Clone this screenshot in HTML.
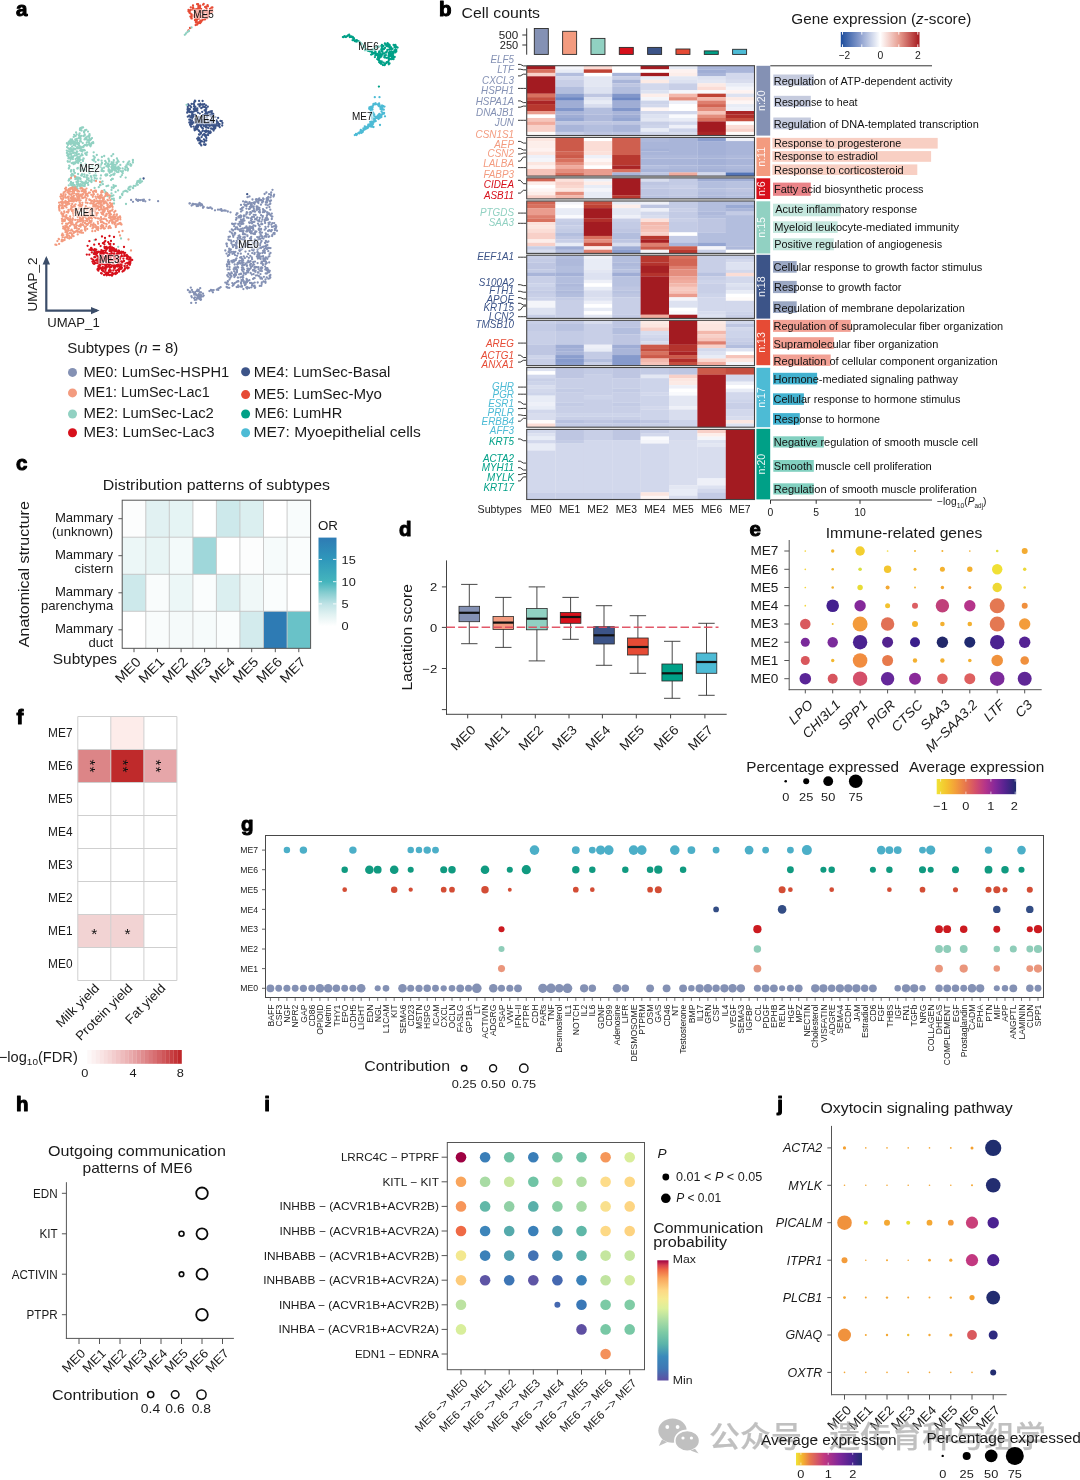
<!DOCTYPE html>
<html lang="en"><head><meta charset="utf-8"><title>Figure</title>
<style>
html,body{margin:0;padding:0;background:#fff;}
body{width:1080px;height:1480px;overflow:hidden;}
svg{display:block;will-change:transform;font-family:"Liberation Sans","Noto Sans CJK SC",sans-serif;fill:#1a1a1a;}
svg text{white-space:pre;}
</style></head><body>
<svg width="1080" height="1480" viewBox="0 0 1080 1480">
<rect width="1080" height="1480" fill="#fff"/>
<g id="panel-a">
<text x="16.0" y="16.2" font-size="20.5" font-weight="bold" fill="#000" stroke="#000" stroke-width="1.0" stroke-linejoin="round">a</text>
<path d="M75.6 136.1h0M84.4 131.2h0M81.3 149.6h0M68.4 158.4h0M67.8 153.8h0M78.3 178.4h0M70.2 140.7h0M83.8 185.9h0M82.4 151.5h0M90.1 144.8h0M75.2 177.7h0M71.7 163.1h0M84.1 150.0h0M81.6 130.6h0M85.2 153.4h0M75.3 163.3h0M79.1 145.4h0M73.4 162.6h0M81.0 181.4h0M86.6 144.7h0M78.1 174.0h0M70.9 157.3h0M90.5 146.3h0M85.6 163.8h0M82.5 155.2h0M79.6 168.2h0M89.1 144.5h0M77.3 168.5h0M67.4 155.6h0M70.3 142.2h0M77.4 181.2h0M69.0 154.8h0M81.7 181.9h0M89.0 180.7h0M74.3 152.7h0M76.5 182.0h0M71.6 141.2h0M73.1 157.0h0M82.8 143.1h0M66.9 152.9h0M76.8 162.1h0M80.8 165.3h0M85.1 130.1h0M77.4 151.6h0M69.6 166.3h0M69.5 149.4h0M83.4 136.0h0M73.6 148.4h0M76.7 134.4h0M79.4 156.9h0M76.1 143.2h0M89.3 136.8h0M81.1 135.9h0M81.5 128.4h0M81.1 187.9h0M73.9 149.6h0M71.3 174.9h0M81.2 175.4h0M75.7 140.6h0M72.9 159.1h0M67.6 144.2h0M73.8 170.0h0M72.8 140.9h0M72.1 139.5h0M83.7 183.0h0M84.5 176.7h0M69.1 168.0h0M71.6 176.0h0M75.8 176.8h0M77.7 185.9h0M86.4 137.3h0M70.8 178.4h0M76.3 161.0h0M81.1 185.1h0M78.6 181.2h0M89.2 139.9h0M73.6 145.0h0M73.3 163.4h0M73.8 152.9h0M70.4 183.6h0M76.4 155.3h0M82.6 183.2h0M78.2 184.1h0M80.4 159.9h0M81.0 127.9h0M78.7 138.1h0M71.5 156.3h0M75.6 159.1h0M81.9 175.7h0M69.7 161.7h0M73.5 144.0h0M82.0 174.2h0M83.4 158.3h0M80.7 170.0h0M79.1 160.0h0M79.8 185.5h0M85.7 181.5h0M92.3 142.9h0M82.0 185.7h0M89.6 135.3h0M70.1 154.3h0M68.8 141.7h0M68.8 168.5h0M88.0 182.8h0M71.0 171.5h0M84.7 135.6h0M72.8 186.2h0M77.6 157.2h0M71.2 153.7h0M80.8 147.9h0M72.1 146.6h0M81.8 154.2h0M67.3 147.4h0M83.7 158.7h0M69.6 143.3h0M74.1 134.8h0M78.2 183.7h0M89.0 142.9h0M70.8 184.1h0M82.3 170.5h0M85.5 153.3h0M68.8 185.3h0M84.0 176.8h0M69.1 180.2h0M68.6 180.6h0M79.1 147.9h0M81.8 184.6h0M81.1 141.6h0M75.3 145.8h0M87.4 144.8h0M80.4 137.8h0M71.9 156.4h0M80.2 178.9h0M77.5 158.4h0M76.1 178.7h0M86.0 166.4h0M77.8 148.4h0M73.7 136.9h0M69.1 179.3h0M74.4 141.8h0M74.7 155.4h0M71.1 154.6h0M73.9 186.8h0M73.4 187.1h0M75.2 149.0h0M66.8 150.6h0M79.7 158.1h0M72.2 158.2h0M66.9 143.2h0M69.2 151.7h0M75.0 141.3h0M82.7 159.8h0M86.2 181.6h0M77.4 147.1h0M86.4 166.9h0M86.7 177.5h0M70.6 159.4h0M80.5 178.9h0M88.6 178.4h0M82.6 182.5h0M85.3 170.0h0M70.4 149.2h0M69.6 178.9h0M81.9 165.9h0M83.8 169.2h0M80.4 160.1h0M84.7 130.8h0M86.8 142.5h0M68.8 143.3h0M86.6 139.5h0M80.2 150.6h0M79.8 169.4h0M84.2 131.5h0M70.8 142.6h0M86.9 145.7h0M82.2 127.5h0M68.4 143.5h0M85.0 170.0h0M85.1 144.9h0M80.8 155.7h0M79.4 134.1h0M91.0 139.2h0M67.3 155.4h0M79.0 143.5h0M72.5 185.8h0M72.5 163.0h0M70.6 159.5h0M73.1 182.8h0M80.0 128.3h0M79.0 145.6h0M70.6 148.2h0M75.4 179.2h0M89.5 134.2h0M91.2 144.8h0M76.9 151.3h0M76.6 153.5h0M69.6 178.9h0M74.5 185.2h0M73.6 143.3h0M80.6 138.6h0M76.9 186.5h0M83.9 183.8h0M86.3 129.8h0M86.6 154.9h0M79.6 148.2h0M74.9 172.9h0M93.3 143.0h0M84.6 145.5h0M81.9 151.3h0M72.4 183.3h0M80.3 140.5h0M79.0 135.4h0M76.1 132.4h0M73.3 142.8h0M82.2 182.2h0M87.1 152.5h0M78.0 159.5h0M77.0 147.8h0M68.5 144.0h0M80.4 166.1h0M90.2 140.2h0M74.1 142.2h0M77.6 154.6h0M77.4 184.6h0M93.1 142.2h0M81.0 169.3h0M84.3 174.5h0M79.2 161.2h0M73.1 184.2h0M84.3 145.7h0M70.3 142.4h0M84.0 170.4h0M81.0 163.1h0M77.3 140.7h0M83.1 127.4h0M75.0 155.5h0M73.2 142.1h0M80.3 168.9h0M78.2 142.8h0M84.9 184.5h0M76.0 153.0h0M85.3 139.1h0M80.5 139.5h0M89.0 141.1h0M72.8 174.2h0M74.8 186.2h0M80.2 138.4h0M72.9 152.8h0M84.8 186.0h0M70.8 151.3h0M72.6 187.6h0M68.4 151.3h0M71.8 185.2h0M84.8 150.4h0M76.9 147.4h0M74.4 148.7h0M76.5 178.0h0M68.1 156.3h0M76.9 184.2h0M72.0 149.5h0M77.9 177.4h0M91.7 142.8h0M87.1 182.9h0M76.0 143.7h0M73.9 171.5h0M75.4 143.9h0M73.1 156.4h0M77.3 142.4h0M78.5 157.5h0M92.0 138.1h0M83.3 147.2h0M75.5 149.3h0M88.0 131.6h0M72.1 173.8h0M67.7 161.2h0M75.6 188.0h0M69.4 157.9h0M86.0 154.6h0M73.1 152.8h0M83.6 168.8h0M87.1 179.6h0M84.8 134.3h0M89.6 145.1h0M82.2 150.0h0M86.8 139.1h0M73.5 142.0h0M71.0 182.0h0M82.5 147.1h0M77.5 188.7h0M80.5 141.2h0M79.7 177.9h0M67.9 145.1h0M73.8 175.3h0M83.0 165.4h0M72.7 149.7h0M70.6 139.4h0M73.7 164.2h0M84.5 139.4h0M67.1 147.2h0M85.2 138.3h0M75.3 139.4h0M77.5 161.1h0M84.1 132.4h0M71.2 170.2h0M77.9 144.4h0M75.1 186.3h0M75.3 162.1h0M76.5 152.7h0M76.7 139.0h0M86.5 139.4h0M78.3 178.0h0M77.8 181.9h0M79.3 136.9h0M84.2 183.6h0M69.2 165.6h0M76.8 158.2h0M70.8 144.4h0M80.9 184.5h0M69.7 157.4h0M79.9 130.0h0M89.1 136.7h0M88.1 140.6h0M77.8 179.6h0M89.3 138.1h0M72.7 151.7h0M80.8 150.7h0M70.1 142.1h0M86.4 182.8h0M67.9 161.8h0M89.5 134.1h0M83.0 161.1h0M83.8 145.8h0M78.2 163.1h0M78.3 167.9h0M78.9 154.1h0M80.1 141.4h0M87.5 175.4h0M79.2 137.9h0M79.6 133.4h0M70.3 153.6h0M69.3 154.3h0M80.6 129.2h0M84.0 131.8h0M86.7 175.3h0M80.7 130.1h0M80.5 150.3h0M86.6 177.6h0M72.0 188.1h0M80.1 186.5h0M88.2 184.9h0M68.6 148.6h0M87.3 136.6h0M91.1 143.9h0M88.9 135.7h0M80.4 184.2h0M72.4 143.1h0M80.5 146.6h0M71.2 185.2h0M85.2 182.7h0M71.4 175.8h0M117.1 172.1h0M108.6 164.4h0M116.9 163.4h0M102.0 163.0h0M125.7 177.6h0M108.2 164.4h0M113.3 164.3h0M119.2 167.6h0M106.0 174.5h0M108.8 169.1h0M111.9 166.4h0M113.8 164.5h0M101.9 157.0h0M105.0 164.2h0M111.9 168.3h0M115.1 168.6h0M107.6 164.5h0M100.3 167.2h0M114.7 170.6h0M111.3 167.1h0M117.1 168.1h0M116.1 170.9h0M113.2 174.5h0M108.9 166.2h0M107.6 164.0h0M120.6 176.8h0M112.1 170.8h0M118.5 172.0h0M118.6 161.7h0M108.5 170.3h0M119.9 168.5h0M107.3 166.2h0M108.4 163.7h0M120.3 164.9h0M112.1 178.8h0M118.5 169.7h0M108.6 170.1h0M120.9 171.1h0M118.9 168.5h0M114.8 167.0h0M114.3 174.5h0M104.1 167.7h0M113.3 165.1h0M110.3 171.9h0M123.0 171.1h0M113.8 160.2h0M122.6 168.4h0M111.8 162.4h0M111.7 162.5h0M112.4 170.3h0M112.2 169.4h0M107.3 175.1h0M108.4 158.9h0M111.0 164.2h0M106.4 166.2h0M113.6 162.1h0M111.2 175.1h0M115.8 167.2h0M112.7 167.4h0M111.7 171.7h0M111.5 156.0h0M111.9 163.6h0M115.6 164.9h0M112.8 178.9h0M106.2 162.4h0M104.2 156.0h0M101.7 169.8h0M108.5 158.7h0M103.8 171.1h0M107.7 166.2h0M113.8 174.8h0M122.7 173.2h0M112.8 168.9h0M121.9 175.1h0M110.3 170.3h0M113.6 168.3h0M109.2 161.4h0M109.1 160.3h0M118.7 170.7h0M105.4 175.0h0M116.9 158.5h0M122.1 172.0h0M123.4 161.8h0M114.9 170.1h0M113.1 168.9h0M117.8 160.5h0M105.2 161.0h0M108.9 165.0h0M114.0 169.3h0M112.2 164.6h0M109.6 172.8h0M116.2 168.5h0M110.2 175.8h0M108.7 171.2h0M118.3 166.7h0M116.5 162.4h0M117.6 169.0h0M103.3 171.3h0M107.1 174.4h0M108.3 167.2h0M113.6 166.3h0M113.4 165.2h0M115.7 168.0h0M113.2 154.2h0M118.4 168.2h0M102.2 168.5h0M114.6 173.4h0M106.0 175.7h0M111.1 180.0h0M111.2 171.4h0M131.0 165.7h0M124.8 169.3h0M130.3 163.9h0M128.0 164.4h0M132.9 160.6h0M132.9 159.8h0M127.8 170.5h0M126.3 165.3h0M127.5 163.6h0M125.6 170.0h0M132.9 162.5h0M129.2 161.5h0M131.3 164.9h0M126.0 167.5h0M128.0 169.4h0M130.9 165.8h0M130.3 165.3h0M125.4 167.0h0M128.0 168.8h0M128.2 162.4h0M130.4 165.2h0M127.1 167.4h0M89.6 166.8h0M100.5 178.5h0M98.1 160.0h0M94.8 168.2h0M97.9 166.4h0M98.8 187.2h0M90.9 176.2h0M100.5 165.5h0M88.6 171.7h0M90.6 181.3h0M103.0 170.8h0M89.6 173.0h0M96.7 178.7h0M96.2 175.6h0M101.3 170.9h0M94.6 187.9h0M91.4 177.4h0M94.3 180.5h0M93.7 152.3h0M92.4 166.0h0M94.7 177.9h0M93.6 160.6h0M91.6 179.7h0M103.0 171.1h0M91.5 182.1h0M94.3 158.5h0M101.0 175.4h0M95.5 172.5h0M93.7 175.6h0M101.1 182.6h0M95.5 161.8h0M96.8 155.0h0M101.3 164.2h0M101.6 160.7h0M94.0 160.1h0M94.8 157.4h0M92.5 159.8h0M92.8 169.2h0M94.9 175.5h0M98.5 164.5h0M102.9 184.2h0M102.5 181.4h0M98.5 160.0h0M91.7 181.1h0M93.5 156.1h0M139.4 181.3h0M137.5 181.1h0M133.8 185.9h0M137.8 184.8h0M128.3 188.9h0M137.9 182.1h0M120.5 197.3h0M114.1 200.3h0M126.0 190.9h0M139.9 182.9h0M125.2 190.8h0M136.6 184.0h0M142.1 181.3h0M132.8 187.9h0M133.6 186.3h0M140.3 180.1h0M140.6 182.4h0M130.1 189.6h0M122.4 193.7h0M135.6 185.8h0M123.5 191.7h0M122.0 194.2h0M127.4 191.7h0M140.3 178.9h0M122.3 195.1h0M128.8 187.5h0M113.8 198.6h0M129.6 189.9h0M114.0 203.5h0M129.7 186.8h0M138.3 180.9h0M130.7 186.6h0M133.1 188.2h0M126.3 191.1h0M119.9 198.0h0M139.0 180.9h0M137.1 182.4h0M120.1 196.9h0M104.3 190.2h0M111.8 196.2h0M115.6 191.9h0M118.1 190.4h0M110.6 196.3h0M106.5 186.2h0M111.8 187.5h0M100.5 185.2h0M100.0 185.2h0M113.5 187.9h0M113.9 187.2h0M113.4 195.3h0M113.8 186.0h0M111.5 193.5h0M107.6 196.2h0M113.5 185.1h0M115.8 186.0h0M108.2 185.7h0M105.5 191.9h0M107.1 193.1h0M105.4 192.7h0M111.5 190.0h0M94.6 240.1h0M121.0 238.5h0M118.2 246.8h0M93.2 252.4h0M112.0 199.0h0M126.0 204.0h0" stroke="#91D1C2" stroke-width="2.3" stroke-linecap="round" fill="none"/>
<path d="M81.2 232.7h0M93.5 203.4h0M59.1 243.9h0M77.6 222.0h0M95.9 204.3h0M80.6 226.7h0M109.9 202.8h0M83.7 220.8h0M93.9 202.3h0M78.6 191.1h0M68.6 230.6h0M96.3 226.3h0M86.6 198.3h0M72.3 230.6h0M108.8 213.3h0M107.5 199.8h0M115.2 217.0h0M87.4 221.0h0M67.9 197.4h0M67.3 227.6h0M79.7 219.5h0M82.4 216.7h0M65.1 188.6h0M62.2 223.6h0M108.5 195.3h0M95.6 206.5h0M113.9 214.9h0M93.6 201.5h0M108.0 211.3h0M72.3 188.2h0M68.7 196.7h0M95.7 209.6h0M72.5 219.5h0M100.5 209.4h0M85.5 195.5h0M70.1 188.3h0M72.4 206.9h0M108.5 228.2h0M101.0 203.7h0M95.2 231.0h0M62.2 205.2h0M72.5 193.4h0M87.7 196.0h0M71.2 194.5h0M103.8 197.6h0M57.4 241.1h0M64.5 212.6h0M61.6 241.2h0M112.3 223.3h0M85.8 206.2h0M111.0 214.4h0M97.7 194.5h0M70.1 189.4h0M103.5 218.9h0M64.8 237.7h0M73.1 210.5h0M65.6 202.1h0M112.1 205.9h0M66.4 215.2h0M58.9 239.2h0M100.4 198.5h0M87.5 203.0h0M72.5 198.0h0M61.6 203.2h0M104.4 203.4h0M109.9 206.2h0M111.6 217.3h0M67.6 211.9h0M93.9 194.2h0M67.2 231.8h0M103.4 197.7h0M96.4 215.4h0M73.6 198.2h0M96.6 228.0h0M110.2 220.6h0M68.8 189.9h0M104.8 210.2h0M110.1 205.9h0M116.9 214.3h0M67.7 235.4h0M80.0 195.7h0M80.2 221.3h0M85.3 216.6h0M63.2 228.4h0M76.8 228.2h0M80.9 230.6h0M89.9 217.5h0M67.4 192.1h0M72.0 234.5h0M102.5 197.6h0M94.2 217.1h0M102.8 192.1h0M88.6 215.7h0M74.0 193.2h0M82.6 194.1h0M65.0 220.0h0M105.8 195.8h0M81.4 211.0h0M112.1 217.2h0M107.8 206.1h0M71.3 205.9h0M72.0 211.1h0M98.0 207.6h0M91.1 190.1h0M84.4 216.0h0M118.7 223.6h0M98.6 201.8h0M101.1 202.2h0M97.2 200.9h0M90.4 211.8h0M75.8 224.5h0M63.2 221.3h0M120.0 216.5h0M73.3 213.7h0M91.3 194.8h0M63.4 193.8h0M75.0 210.1h0M74.6 200.5h0M112.1 222.2h0M93.8 224.6h0M68.7 228.2h0M86.3 218.6h0M96.7 213.9h0M76.1 200.4h0M70.1 216.4h0M81.1 220.8h0M92.9 215.2h0M75.1 231.9h0M65.8 190.0h0M114.2 212.1h0M59.2 209.0h0M84.9 229.7h0M62.4 199.4h0M65.5 206.0h0M79.0 226.1h0M110.8 216.8h0M106.7 214.2h0M108.4 228.1h0M107.1 220.8h0M93.9 210.8h0M96.3 208.5h0M85.8 213.2h0M104.2 203.4h0M81.6 219.0h0M81.1 205.1h0M89.0 212.4h0M67.5 204.1h0M64.9 220.2h0M94.5 191.2h0M93.4 215.5h0M90.2 216.7h0M101.6 209.1h0M79.3 221.3h0M101.0 217.2h0M61.7 208.2h0M82.3 219.3h0M84.9 223.1h0M66.6 204.9h0M89.9 192.6h0M115.8 227.0h0M115.4 211.0h0M65.6 203.2h0M89.8 216.0h0M67.8 196.8h0M97.8 221.8h0M83.0 232.8h0M75.9 227.0h0M112.3 220.8h0M100.4 197.7h0M88.9 218.9h0M73.1 224.4h0M94.1 210.4h0M63.3 195.3h0M61.8 196.1h0M107.4 205.2h0M103.7 207.0h0M66.5 201.8h0M61.8 239.7h0M94.6 206.7h0M85.6 208.9h0M58.7 238.9h0M84.9 222.8h0M72.0 188.6h0M110.5 204.0h0M71.5 209.2h0M103.9 199.2h0M71.6 196.3h0M79.4 197.1h0M93.2 192.8h0M91.3 208.9h0M82.4 189.9h0M63.4 235.1h0M78.9 200.5h0M68.0 202.8h0M71.1 188.1h0M100.2 206.3h0M65.6 227.9h0M61.3 202.0h0M109.7 195.5h0M79.0 228.9h0M89.3 199.5h0M85.8 193.8h0M103.0 201.5h0M116.2 220.9h0M80.0 200.6h0M96.4 198.6h0M89.9 218.2h0M73.4 231.8h0M81.2 225.1h0M93.6 204.5h0M81.5 191.1h0M67.0 236.5h0M76.8 225.4h0M62.4 219.4h0M79.6 215.7h0M75.2 189.9h0M76.2 199.4h0M63.6 228.6h0M74.2 210.0h0M64.0 202.4h0M100.1 206.9h0M83.1 225.1h0M102.5 200.8h0M112.6 206.9h0M97.8 196.8h0M62.8 240.2h0M104.9 228.3h0M66.0 197.8h0M75.6 208.6h0M98.4 196.7h0M112.1 219.9h0M103.7 201.1h0M84.6 226.6h0M74.5 188.6h0M113.1 222.1h0M102.2 209.4h0M74.1 191.3h0M97.7 212.9h0M84.1 216.4h0M72.8 218.5h0M120.9 223.9h0M92.0 200.8h0M59.0 207.3h0M83.0 198.0h0M76.1 194.1h0M103.1 225.8h0M71.2 200.4h0M90.0 212.4h0M64.6 219.5h0M77.7 234.4h0M92.3 231.2h0M66.5 225.6h0M95.7 213.4h0M62.8 203.2h0M79.5 198.3h0M59.1 202.7h0M68.4 227.7h0M85.5 192.7h0M77.1 213.8h0M79.7 196.0h0M62.4 215.0h0M84.5 197.3h0M117.5 224.3h0M99.4 200.9h0M71.7 194.2h0M112.1 203.6h0M67.6 223.9h0M66.5 232.6h0M77.2 197.0h0M111.1 205.0h0M80.1 218.7h0M71.3 188.5h0M93.5 223.3h0M110.7 227.9h0M88.6 215.7h0M65.7 203.8h0M94.5 190.8h0M101.8 195.7h0M84.9 197.3h0M108.5 211.3h0M74.3 225.3h0M90.0 211.0h0M78.0 212.1h0M75.1 212.3h0M93.3 206.7h0M68.3 191.1h0M77.0 213.4h0M120.4 222.8h0M101.0 222.2h0M75.2 219.9h0M99.0 203.8h0M101.2 212.6h0M80.3 220.5h0M83.3 217.5h0M93.4 209.5h0M62.8 196.7h0M115.5 218.6h0M62.6 237.2h0M72.2 191.6h0M91.1 200.9h0M88.3 218.9h0M70.4 220.0h0M62.7 216.5h0M95.0 190.8h0M82.7 190.4h0M92.4 228.4h0M106.5 192.8h0M61.9 235.3h0M81.7 196.2h0M120.3 219.4h0M107.7 194.1h0M71.1 208.1h0M69.5 203.8h0M103.1 211.3h0M115.4 222.9h0M114.3 219.4h0M66.4 230.3h0M78.2 231.4h0M63.3 208.2h0M96.1 191.9h0M62.7 241.0h0M100.9 201.1h0M68.1 212.5h0M112.0 220.5h0M62.5 233.6h0M67.6 218.9h0M74.7 226.8h0M80.9 194.6h0M114.5 218.0h0M78.3 195.0h0M67.4 234.6h0M101.2 209.3h0M87.4 195.4h0M112.5 209.4h0M114.4 222.3h0M60.2 205.6h0M66.5 207.4h0M86.8 220.3h0M81.4 207.0h0M100.6 202.2h0M73.6 215.7h0M72.8 219.8h0M98.1 223.7h0M79.7 202.7h0M75.7 231.3h0M105.3 216.2h0M98.2 206.8h0M92.5 210.1h0M59.1 206.0h0M87.7 207.8h0M71.6 199.9h0M78.7 194.1h0M85.8 212.5h0M93.7 204.0h0M66.5 189.9h0M75.5 204.3h0M104.4 218.7h0M117.6 220.7h0M60.4 196.6h0M79.3 232.0h0M72.5 187.4h0M66.2 201.9h0M102.9 199.0h0M82.2 197.9h0M99.1 197.7h0M95.9 190.7h0M78.2 194.1h0M67.8 217.9h0M114.5 224.0h0M77.2 230.5h0M99.1 210.1h0M101.2 206.1h0M77.7 215.4h0M95.7 201.3h0M117.9 219.5h0M96.7 229.0h0M77.4 191.6h0M65.6 194.5h0M110.4 211.1h0M91.6 221.0h0M92.7 225.0h0M95.9 205.7h0M105.4 201.3h0M107.8 204.4h0M85.8 202.5h0M87.4 224.9h0M107.6 207.5h0M92.8 196.8h0M65.2 196.5h0M66.0 187.7h0M107.9 200.4h0M98.3 206.4h0M109.4 213.3h0M119.3 223.3h0M70.2 201.0h0M72.8 211.8h0M70.7 198.1h0M106.6 224.2h0M69.7 219.8h0M65.7 237.3h0M74.2 205.7h0M66.0 226.6h0M95.6 212.9h0M69.3 238.5h0M79.5 232.3h0M75.2 187.5h0M65.3 229.7h0M61.6 196.0h0M101.4 191.4h0M71.0 233.1h0M89.3 199.8h0M84.3 192.2h0M56.4 244.9h0M63.2 214.9h0M64.2 211.5h0M67.2 226.7h0M65.1 229.8h0M89.0 192.7h0M79.0 215.5h0M73.6 196.5h0M73.0 190.1h0M82.8 219.1h0M101.8 224.8h0M92.0 218.6h0M82.2 204.9h0M81.3 208.9h0M82.9 194.5h0M72.3 222.3h0M80.6 200.3h0M68.5 192.9h0M102.2 205.3h0M98.9 218.6h0M113.0 216.3h0M70.9 223.4h0M105.5 208.5h0M103.4 209.4h0M90.8 222.4h0M101.0 205.1h0M97.8 218.3h0M70.2 222.4h0M87.2 228.9h0M90.5 214.3h0M70.0 194.4h0M118.1 217.4h0M90.6 217.3h0M110.3 200.2h0M66.7 234.8h0M86.3 224.0h0M65.5 200.9h0M62.0 207.2h0M109.6 217.0h0M85.8 191.2h0M102.3 212.7h0M106.6 194.9h0M101.3 207.8h0M90.4 200.1h0M80.2 206.2h0M68.7 219.9h0M103.8 202.3h0M77.0 200.4h0M68.7 211.1h0M108.9 222.7h0M80.3 188.6h0M85.1 207.8h0M103.5 203.5h0M82.7 224.5h0M110.1 206.9h0M81.2 220.4h0M80.3 225.5h0M77.4 190.2h0M106.4 208.5h0M90.8 215.5h0M86.5 213.5h0M112.1 210.6h0M84.9 215.2h0M82.3 188.4h0M101.2 218.9h0M63.0 199.1h0M106.2 219.5h0M103.4 214.7h0M83.4 220.7h0M77.7 216.8h0M55.4 244.7h0M73.7 201.6h0M76.3 201.1h0M113.4 219.0h0M89.7 211.0h0M68.7 189.1h0M91.5 208.2h0M86.6 215.0h0M94.7 207.7h0M109.5 197.9h0M117.5 219.0h0M91.2 210.3h0M93.4 205.2h0M73.6 233.3h0M74.8 228.2h0M109.6 221.2h0M95.5 196.7h0M117.7 219.3h0M109.4 215.6h0M100.8 226.1h0M75.1 198.5h0M83.2 225.1h0M101.6 195.2h0M75.0 199.8h0M94.6 204.9h0M93.1 195.1h0M81.6 188.0h0M80.8 224.1h0M70.2 218.4h0M61.4 213.6h0M104.5 211.5h0M101.2 192.8h0M118.9 217.3h0M74.8 206.7h0M106.0 215.5h0M95.6 218.1h0M61.0 194.3h0M77.7 212.7h0M71.8 230.1h0M67.2 232.8h0M75.3 190.1h0M93.0 191.7h0M95.5 213.4h0M64.0 220.3h0M79.0 208.3h0M100.1 195.7h0M114.4 214.5h0M65.1 191.6h0M88.7 217.8h0M63.0 213.8h0M66.2 217.8h0M89.5 207.8h0M68.4 210.0h0M68.8 193.6h0M71.3 237.8h0M93.8 226.9h0M70.6 230.6h0M65.4 201.7h0M90.2 203.3h0M94.3 199.9h0M71.7 221.6h0M97.0 227.1h0M110.4 206.3h0M110.1 213.4h0M82.7 191.2h0M71.6 229.6h0M101.2 195.0h0M78.4 194.3h0M68.5 199.0h0M87.6 215.5h0M106.1 223.8h0M68.5 223.1h0M78.7 195.6h0M105.7 194.0h0M95.1 211.9h0M120.3 217.6h0M72.1 235.8h0M70.8 197.8h0M86.1 200.1h0M101.6 228.2h0M81.7 232.6h0M109.0 226.6h0M82.6 191.2h0M78.1 221.3h0M110.2 210.9h0M96.1 213.2h0M77.8 198.7h0M97.1 203.4h0M61.0 202.1h0M102.7 212.3h0M63.2 226.6h0M67.5 202.1h0M81.8 215.7h0M72.1 206.9h0M61.9 218.8h0M113.6 216.5h0M115.8 225.6h0M79.6 225.3h0M98.0 208.3h0M90.5 226.2h0M116.7 215.6h0M101.5 219.1h0M85.4 230.6h0M77.1 194.1h0M64.8 220.9h0M81.7 230.4h0M98.6 202.7h0M106.8 203.3h0M92.0 211.0h0M121.5 224.5h0M109.7 226.2h0M103.3 227.0h0M73.9 195.6h0M109.0 206.6h0M64.5 216.6h0M105.2 196.1h0M76.2 189.2h0M75.2 208.7h0M67.7 204.4h0M76.8 212.0h0M62.4 201.5h0M81.8 208.9h0M76.4 195.0h0M106.5 213.9h0M93.0 225.8h0M106.2 202.4h0M91.0 203.1h0M97.9 201.4h0M111.2 219.6h0M73.1 200.5h0M106.3 226.3h0M62.6 204.2h0M98.1 227.1h0M107.7 209.4h0M78.2 209.3h0M109.8 206.8h0M67.6 237.8h0M91.2 217.0h0M64.1 206.1h0M59.5 210.5h0M100.4 220.3h0M82.5 220.1h0M73.6 236.2h0M65.3 225.9h0M106.3 215.7h0M63.9 227.8h0M102.9 222.4h0M73.7 190.0h0M73.6 198.7h0M70.2 191.6h0M109.5 207.4h0M112.0 205.3h0M64.4 202.3h0M62.5 199.3h0M97.8 206.2h0M77.5 219.8h0M69.8 233.1h0M69.2 235.9h0M110.0 217.9h0M83.8 189.7h0M97.8 229.0h0M94.8 209.8h0M89.8 221.0h0M70.4 237.5h0M87.5 193.9h0M85.9 226.6h0M103.2 213.0h0M78.2 197.3h0M82.4 202.8h0M68.2 229.7h0M90.1 212.1h0M68.4 227.8h0M68.4 201.8h0M93.1 227.7h0M104.1 228.7h0M104.1 223.4h0M72.9 207.1h0M66.1 223.6h0M109.7 213.0h0M65.5 232.2h0M63.7 192.5h0M93.3 216.2h0M69.2 201.0h0M104.8 208.8h0M69.6 220.8h0M86.5 188.6h0M115.5 217.7h0M59.8 205.2h0M87.9 224.0h0M69.0 200.5h0M62.1 221.1h0M63.6 197.9h0M86.0 220.8h0M98.3 228.0h0M84.9 190.0h0M87.0 209.8h0M100.8 228.4h0M71.3 224.6h0M102.1 214.0h0M64.6 240.0h0M70.6 209.3h0M98.1 230.1h0M69.9 225.9h0M118.3 223.9h0M67.7 233.9h0M66.1 216.4h0M89.2 222.8h0M92.1 203.3h0M86.1 193.3h0M99.2 198.3h0M84.2 192.6h0M79.0 191.6h0M80.0 204.0h0M106.8 194.8h0M102.1 221.6h0M90.4 213.1h0M82.7 222.3h0M85.0 228.0h0M72.2 203.9h0M78.7 205.3h0M61.4 212.3h0M106.2 202.3h0M72.0 210.5h0M77.4 231.8h0M109.0 217.6h0M62.1 235.0h0M76.3 223.2h0M80.0 217.9h0M91.1 224.6h0M61.1 198.6h0M67.0 212.0h0M101.7 227.0h0M71.9 201.3h0M69.2 201.4h0M120.6 224.2h0M95.2 225.0h0M95.7 227.3h0M75.7 189.8h0M119.0 232.0h0M122.5 231.0h0M128.5 239.5h0M120.0 235.5h0M131.0 250.5h0M102.0 191.0h0M71.0 178.0h0M75.0 176.5h0M96.0 181.0h0M100.0 182.0h0" stroke="#F39B7F" stroke-width="2.3" stroke-linecap="round" fill="none"/>
<path d="M106.6 249.4h0M96.4 260.3h0M103.0 268.9h0M104.2 257.7h0M120.1 258.8h0M119.3 253.6h0M118.8 263.2h0M118.9 250.6h0M118.5 262.7h0M106.7 267.4h0M97.5 269.4h0M102.1 256.4h0M113.2 248.5h0M102.0 269.7h0M103.5 256.8h0M123.2 251.9h0M99.8 251.8h0M107.6 256.3h0M118.1 259.6h0M119.0 270.9h0M109.8 248.6h0M110.7 267.1h0M111.5 250.4h0M101.3 258.6h0M106.6 259.5h0M130.2 262.2h0M122.3 262.4h0M130.5 261.3h0M101.6 250.3h0M95.2 253.2h0M129.7 259.3h0M110.4 254.9h0M100.2 265.6h0M106.6 248.7h0M132.2 259.9h0M118.6 261.0h0M92.8 259.6h0M122.2 261.7h0M101.4 260.5h0M116.6 265.2h0M97.7 269.9h0M126.9 256.4h0M101.1 263.5h0M109.8 249.4h0M99.7 268.2h0M115.7 274.1h0M108.3 266.1h0M101.4 259.8h0M112.8 274.4h0M112.0 275.7h0M117.3 251.7h0M105.0 257.6h0M105.9 265.7h0M98.4 270.7h0M102.4 259.1h0M114.8 267.1h0M97.4 252.5h0M113.2 263.0h0M101.4 250.2h0M115.8 259.0h0M108.6 272.5h0M118.9 271.7h0M130.4 257.6h0M103.7 254.0h0M109.0 261.4h0M118.6 260.9h0M96.6 252.6h0M118.8 263.2h0M115.2 250.6h0M120.2 252.9h0M101.5 256.4h0M113.3 266.0h0M117.4 259.6h0M119.4 269.8h0M119.6 267.0h0M118.3 250.6h0M101.3 258.3h0M108.6 274.8h0M121.9 256.2h0M119.0 268.8h0M97.0 251.9h0M100.6 253.2h0M108.5 258.0h0M95.0 263.1h0M130.4 262.9h0M106.4 266.8h0M109.7 250.4h0M107.0 274.8h0M123.2 270.9h0M118.1 264.7h0M99.8 268.8h0M104.1 252.9h0M125.5 263.6h0M115.9 251.1h0M92.4 261.6h0M121.6 253.4h0M98.9 266.6h0M102.7 267.0h0M105.5 261.2h0M104.9 257.9h0M111.4 253.0h0M117.4 266.6h0M102.6 269.5h0M121.7 255.6h0M112.0 250.8h0M129.9 262.4h0M120.2 256.9h0M121.2 252.1h0M124.5 269.9h0M95.7 263.2h0M99.6 266.9h0M124.8 269.5h0M119.0 262.5h0M117.8 252.5h0M102.4 258.1h0M113.7 267.5h0M100.9 254.0h0M118.0 266.4h0M117.0 273.0h0M100.2 254.6h0M119.0 253.1h0M98.3 252.0h0M123.4 270.6h0M124.4 254.6h0M104.7 267.4h0M94.1 263.9h0M112.9 249.7h0M110.7 251.1h0M96.7 260.7h0M113.2 256.2h0M121.2 261.4h0M94.7 257.0h0M111.6 252.8h0M119.2 251.9h0M104.8 259.8h0M121.0 268.9h0M107.0 258.9h0M110.5 264.7h0M97.1 259.4h0M117.2 254.3h0M123.4 258.6h0M95.3 257.2h0M93.9 253.9h0M98.5 261.5h0M98.9 268.7h0M109.3 255.5h0M96.9 252.5h0M102.4 268.0h0M111.2 274.6h0M116.6 253.9h0M110.9 267.2h0M105.7 252.7h0M102.3 259.5h0M126.8 255.0h0M98.9 268.1h0M105.8 250.8h0M109.0 270.5h0M127.2 262.8h0M116.7 272.9h0M102.7 256.3h0M107.2 255.9h0M107.3 248.4h0M101.1 273.2h0M108.6 264.7h0M101.8 273.5h0M121.7 268.4h0M125.1 252.8h0M118.7 256.8h0M113.9 255.4h0M125.4 255.7h0M119.6 265.2h0M114.3 259.1h0M105.7 269.3h0M100.6 255.6h0M110.7 257.5h0M104.5 264.6h0M128.5 259.6h0M128.7 267.7h0M104.6 272.1h0M115.9 270.7h0M113.1 260.0h0M108.9 272.3h0M119.1 251.4h0M106.7 256.3h0M93.2 263.3h0M109.5 267.2h0M109.4 247.9h0M113.3 270.4h0M124.1 256.1h0M100.9 268.1h0M109.6 256.8h0M100.1 254.4h0M105.3 267.7h0M99.5 262.0h0M112.3 265.7h0M129.1 262.1h0M106.6 273.6h0M112.4 272.9h0M112.7 273.9h0M114.8 249.5h0M117.7 269.9h0M109.2 263.7h0M102.4 253.6h0M109.0 260.9h0M111.0 247.9h0M121.2 268.2h0M101.5 252.9h0M113.0 250.4h0M116.5 273.0h0M100.1 263.2h0M121.4 268.2h0M121.0 267.0h0M103.0 271.0h0M130.5 258.7h0M124.5 266.0h0M97.6 259.3h0M105.6 268.8h0M101.8 251.2h0M98.4 257.7h0M117.1 254.4h0M98.4 251.8h0M104.7 260.6h0M99.3 259.9h0M109.8 275.2h0M111.7 274.3h0M111.1 251.1h0M116.1 249.5h0M108.3 256.0h0M109.2 255.9h0M120.1 257.1h0M126.6 267.6h0M106.3 264.5h0M129.5 257.5h0M109.5 254.2h0M114.5 265.5h0M97.8 256.3h0M116.0 266.0h0M105.7 274.3h0M114.3 257.5h0M111.5 260.4h0M106.7 272.7h0M106.1 261.5h0M129.9 264.8h0M111.4 255.3h0M107.7 263.9h0M124.0 253.1h0M107.0 257.0h0M106.7 273.3h0M113.9 253.6h0M105.4 270.5h0M98.4 266.4h0M97.8 252.1h0M94.2 253.2h0M121.9 267.3h0M114.4 273.6h0M109.6 251.0h0M122.5 271.6h0M107.6 247.9h0M127.6 268.4h0M120.8 264.5h0M99.2 263.9h0M106.6 275.3h0M109.6 257.1h0M102.2 252.2h0M106.2 267.9h0M94.2 261.4h0M109.8 269.5h0M115.4 259.0h0M127.9 263.6h0M105.6 257.3h0M129.3 262.4h0M107.5 266.4h0M124.0 261.0h0M108.8 265.7h0M115.2 267.6h0M108.6 274.8h0M117.0 254.8h0M107.2 253.3h0M124.1 270.5h0M104.8 268.5h0M102.6 263.9h0M111.8 253.5h0M97.9 268.6h0M115.3 273.1h0M115.8 258.2h0M127.5 258.7h0M121.6 253.0h0M121.7 265.1h0M95.8 260.3h0M121.4 251.6h0M118.6 253.6h0M107.0 273.5h0M109.3 262.7h0M124.9 268.5h0M110.5 271.8h0M108.3 274.5h0M111.2 248.7h0M117.9 256.7h0M102.0 270.3h0M93.2 259.8h0M110.8 259.5h0M121.3 267.6h0M105.9 273.9h0M99.4 260.5h0M105.6 250.1h0M129.9 259.7h0M124.0 252.8h0M129.0 264.0h0M117.7 261.5h0M126.8 258.7h0M124.8 266.1h0M122.3 252.2h0M110.8 270.5h0M98.4 266.2h0M114.5 257.6h0M111.1 260.3h0M102.8 256.4h0M114.5 268.6h0M116.0 250.0h0M128.1 256.4h0M97.6 263.1h0M114.2 254.7h0M96.9 253.8h0M117.6 262.5h0M106.7 274.4h0M117.8 261.8h0M127.2 265.8h0M106.6 263.7h0M104.1 275.0h0M114.5 251.4h0M90.6 249.9h0M94.2 244.7h0M89.4 241.2h0M96.2 249.7h0M92.0 249.8h0M94.8 251.3h0M94.4 249.3h0M91.7 249.8h0M86.8 254.6h0M87.6 245.8h0M93.9 250.2h0M94.3 257.2h0M97.2 255.8h0M91.4 258.6h0M89.5 249.6h0M94.8 249.1h0M91.7 248.5h0M95.8 239.6h0M95.6 254.5h0M91.8 252.4h0M89.3 254.7h0M100.6 246.1h0M95.9 249.8h0M91.1 248.0h0M108.2 242.2h0M103.6 251.0h0M108.9 247.7h0M110.2 247.4h0M102.9 243.2h0M111.5 249.0h0M104.4 244.3h0M104.7 248.0h0M110.4 246.1h0M106.4 247.0h0M109.1 243.8h0M110.3 244.0h0M112.8 247.9h0M106.2 247.8h0M109.3 243.9h0M105.3 241.0h0M104.5 247.0h0M113.8 244.1h0M109.6 247.0h0M112.1 247.3h0M113.9 248.3h0M106.0 247.2h0M102.0 236.5h0M105.0 238.0h0M109.5 236.0h0M114.0 237.0h0M104.5 242.0h0M111.0 241.0h0M99.0 244.0h0M124.0 247.0h0" stroke="#D7101B" stroke-width="2.3" stroke-linecap="round" fill="none"/>
<path d="M251.1 282.9h0M239.7 221.8h0M246.5 206.0h0M269.5 254.1h0M231.5 251.8h0M263.7 260.9h0M251.0 206.2h0M259.7 232.6h0M259.3 198.5h0M272.5 189.8h0M235.1 229.2h0M241.3 216.0h0M259.8 211.6h0M244.9 258.1h0M246.6 204.9h0M226.8 243.6h0M228.4 239.5h0M249.8 208.8h0M259.7 238.9h0M267.4 218.5h0M248.9 203.5h0M249.5 202.1h0M260.6 259.0h0M254.7 286.8h0M266.9 200.7h0M255.0 261.6h0M242.0 258.8h0M243.1 260.5h0M238.1 287.0h0M227.9 261.9h0M270.5 252.9h0M231.4 276.4h0M262.3 200.9h0M243.8 256.4h0M242.3 276.7h0M270.5 248.1h0M233.7 241.2h0M249.5 223.1h0M243.5 240.3h0M255.2 211.6h0M238.2 239.6h0M250.6 231.2h0M259.4 207.9h0M252.2 216.9h0M265.3 259.6h0M265.9 241.0h0M236.6 281.8h0M251.0 226.8h0M238.9 229.5h0M261.9 271.1h0M249.4 262.4h0M234.6 234.5h0M242.6 220.0h0M242.7 264.7h0M263.2 210.1h0M235.8 267.7h0M258.9 256.9h0M257.8 258.6h0M259.8 285.9h0M267.1 212.3h0M266.7 263.0h0M249.7 226.3h0M237.7 238.0h0M262.1 278.8h0M269.6 276.0h0M247.1 231.4h0M240.2 286.6h0M238.4 281.4h0M269.8 222.5h0M269.7 278.3h0M246.4 208.6h0M265.4 226.8h0M229.5 279.5h0M247.1 229.1h0M255.6 214.9h0M243.3 265.4h0M241.2 257.2h0M257.3 208.2h0M256.5 218.7h0M233.9 274.8h0M255.1 246.7h0M240.8 253.7h0M256.0 240.3h0M240.0 231.0h0M242.9 279.5h0M229.3 287.8h0M236.1 274.9h0M236.3 248.0h0M266.7 270.3h0M237.7 266.9h0M249.3 287.9h0M235.4 251.8h0M265.7 273.4h0M253.1 228.0h0M266.9 199.8h0M237.2 264.5h0M247.1 288.5h0M243.2 232.6h0M250.8 218.3h0M261.5 240.9h0M251.0 238.7h0M243.3 275.3h0M234.4 277.0h0M242.6 222.9h0M256.7 245.6h0M275.4 226.3h0M229.2 254.9h0M252.2 222.1h0M241.0 273.7h0M241.5 231.1h0M275.5 225.4h0M245.0 205.6h0M259.3 255.7h0M247.4 229.9h0M235.7 268.2h0M248.0 272.4h0M243.5 262.6h0M260.1 239.0h0M248.9 209.1h0M232.4 253.8h0M261.1 215.2h0M258.4 203.0h0M256.6 206.5h0M250.9 220.7h0M253.2 202.8h0M249.5 250.9h0M260.2 243.9h0M256.8 267.2h0M254.3 211.6h0M247.2 272.2h0M254.1 264.6h0M242.9 234.2h0M258.8 200.0h0M262.9 216.1h0M269.4 207.1h0M268.4 241.4h0M247.1 272.3h0M260.8 242.6h0M270.3 209.7h0M272.3 223.2h0M257.2 201.5h0M238.2 281.2h0M266.7 217.4h0M263.2 212.1h0M227.9 281.7h0M253.3 250.5h0M270.3 203.7h0M261.4 235.7h0M266.1 234.9h0M233.7 284.8h0M238.4 263.7h0M268.6 214.1h0M261.1 228.9h0M275.4 226.1h0M250.9 239.4h0M263.9 276.8h0M242.5 210.3h0M242.0 262.5h0M259.1 229.9h0M251.8 204.8h0M250.8 267.9h0M233.8 261.5h0M242.3 270.5h0M257.9 237.5h0M243.6 247.1h0M234.9 233.0h0M236.9 272.3h0M253.3 249.4h0M257.3 201.9h0M265.6 218.5h0M260.2 270.8h0M246.9 256.6h0M250.9 204.3h0M235.1 275.9h0M244.2 204.3h0M233.0 247.0h0M233.3 236.8h0M252.5 233.3h0M250.6 272.9h0M265.1 246.3h0M252.5 211.1h0M265.9 220.0h0M262.9 212.2h0M254.4 254.1h0M243.3 237.3h0M226.5 253.6h0M260.9 204.7h0M253.2 262.6h0M228.5 273.1h0M270.8 194.4h0M249.8 214.4h0M239.4 235.5h0M243.3 268.1h0M262.6 200.8h0M261.2 267.3h0M245.5 282.3h0M244.5 220.6h0M226.9 284.0h0M251.1 233.4h0M246.9 266.1h0M268.6 236.9h0M232.7 229.9h0M271.9 230.1h0M259.3 245.3h0M248.3 246.8h0M236.4 245.0h0M270.5 197.4h0M243.2 277.3h0M257.4 252.5h0M269.3 236.3h0M262.1 262.1h0M234.2 253.5h0M259.0 255.0h0M240.8 249.0h0M259.8 218.0h0M266.4 219.9h0M252.9 270.1h0M229.3 262.4h0M226.6 282.8h0M243.2 207.3h0M244.6 239.4h0M245.7 201.6h0M251.7 219.4h0M276.1 227.6h0M246.8 212.2h0M258.4 272.5h0M244.5 264.8h0M247.1 265.5h0M251.5 231.9h0M236.0 245.4h0M247.3 280.8h0M239.6 247.9h0M239.5 260.8h0M229.9 236.6h0M251.4 203.1h0M268.1 231.0h0M236.8 213.4h0M269.1 194.1h0M263.7 199.1h0M274.9 230.1h0M255.8 275.6h0M261.0 248.0h0M262.6 217.1h0M250.2 208.0h0M246.9 217.5h0M255.1 219.2h0M238.0 253.5h0M227.6 269.4h0M250.2 212.2h0M229.2 240.2h0M250.6 261.2h0M243.5 230.5h0M272.0 216.7h0M237.0 270.7h0M256.6 209.8h0M267.4 245.1h0M227.3 275.6h0M256.8 208.8h0M248.3 260.6h0M228.2 255.3h0M228.6 236.9h0M258.6 258.0h0M275.7 228.4h0M246.3 226.8h0M261.2 263.3h0M258.7 229.6h0M254.2 240.8h0M233.2 284.2h0M269.1 213.4h0M263.7 260.8h0M271.3 216.1h0M266.2 236.8h0M240.1 226.2h0M266.8 273.5h0M269.4 256.2h0M254.1 210.6h0M231.4 261.0h0M235.2 274.0h0M241.0 274.1h0M239.5 216.1h0M246.9 227.3h0M228.4 260.2h0M254.9 239.7h0M236.4 218.0h0M276.3 226.5h0M229.8 274.0h0M267.4 258.8h0M253.1 270.5h0M231.4 243.3h0M237.5 229.2h0M233.4 260.1h0M254.4 267.2h0M257.5 249.2h0M254.1 221.9h0M273.9 226.4h0M261.8 282.3h0M258.4 255.5h0M247.4 235.5h0M264.7 221.1h0M228.9 251.2h0M267.4 214.2h0M260.5 278.5h0M250.0 222.8h0M247.4 268.6h0M257.6 206.7h0M245.6 284.6h0M245.7 274.2h0M265.8 247.9h0M236.0 219.8h0M249.9 228.8h0M258.4 239.8h0M240.7 250.0h0M246.2 272.9h0M261.3 285.8h0M268.9 247.9h0M244.0 215.5h0M252.7 226.9h0M250.0 229.8h0M228.5 262.4h0M266.9 249.1h0M229.3 249.2h0M264.6 194.0h0M238.1 281.2h0M268.3 278.7h0M236.5 247.0h0M243.7 218.9h0M264.8 250.9h0M241.1 243.6h0M248.2 244.5h0M257.2 237.1h0M257.8 242.6h0M261.7 283.9h0M271.1 195.4h0M266.4 192.5h0M258.6 269.3h0M236.0 227.4h0M235.4 259.7h0M252.0 249.8h0M240.8 248.0h0M251.3 227.9h0M241.9 269.6h0M232.5 245.1h0M265.5 282.8h0M250.0 282.9h0M231.9 273.3h0M244.7 244.1h0M273.9 195.8h0M241.0 204.9h0M261.4 247.3h0M229.6 269.4h0M250.8 203.7h0M268.0 271.3h0M234.8 283.2h0M267.5 212.3h0M268.3 199.1h0M265.1 266.6h0M257.8 272.5h0M240.1 257.6h0M260.5 274.1h0M254.1 216.9h0M236.7 243.6h0M230.3 275.2h0M271.8 213.6h0M261.2 256.6h0M229.6 267.1h0M265.0 220.0h0M265.3 236.0h0M267.7 205.3h0M226.9 264.5h0M227.9 256.0h0M259.4 276.6h0M245.4 234.3h0M236.2 268.1h0M262.2 267.7h0M252.1 259.2h0M239.0 217.6h0M263.6 210.8h0M240.8 217.6h0M270.4 253.1h0M249.3 227.3h0M247.6 246.0h0M270.3 215.0h0M250.5 266.1h0M231.5 232.6h0M243.9 273.2h0M272.0 226.9h0M229.7 252.9h0M263.6 281.5h0M259.2 220.1h0M251.2 218.1h0M247.4 236.1h0M270.9 230.7h0M269.5 271.2h0M243.5 272.1h0M234.7 264.5h0M248.7 230.4h0M233.7 269.2h0M263.1 198.3h0M243.5 230.8h0M254.6 278.2h0M255.0 234.0h0M276.9 230.7h0M242.2 231.1h0M232.3 283.1h0M255.4 243.6h0M246.3 214.4h0M240.2 238.7h0M247.4 287.1h0M253.9 210.1h0M241.9 267.5h0M265.8 233.5h0M252.5 242.6h0M259.6 258.2h0M243.8 281.1h0M268.0 219.5h0M226.6 244.6h0M258.9 211.8h0M257.3 217.3h0M247.4 212.6h0M267.8 234.6h0M262.3 224.1h0M267.3 248.9h0M258.9 228.6h0M253.8 208.4h0M252.2 253.1h0M235.6 273.5h0M262.4 219.5h0M235.7 259.7h0M239.3 261.6h0M242.1 265.3h0M254.4 270.8h0M271.2 192.4h0M252.9 228.1h0M265.2 220.8h0M234.4 267.7h0M253.2 264.8h0M265.3 211.2h0M237.1 255.8h0M264.9 252.9h0M247.3 262.5h0M259.7 210.0h0M252.3 249.1h0M263.0 209.1h0M240.0 223.6h0M263.0 247.0h0M232.4 262.4h0M229.3 264.4h0M236.7 240.8h0M237.8 277.6h0M264.1 258.8h0M253.8 214.8h0M240.6 209.2h0M246.6 279.0h0M272.4 216.6h0M243.1 201.3h0M254.7 233.9h0M239.7 241.9h0M265.5 261.7h0M241.8 281.0h0M266.4 245.5h0M249.1 222.3h0M230.3 277.8h0M256.4 199.2h0M236.0 242.9h0M268.8 224.4h0M250.3 255.8h0M233.5 251.9h0M246.3 287.5h0M233.2 260.4h0M252.0 206.8h0M266.6 199.0h0M257.2 275.3h0M265.0 236.3h0M274.2 223.1h0M244.8 285.0h0M241.8 285.8h0M252.9 283.3h0M229.4 274.1h0M265.5 264.2h0M255.9 199.4h0M266.0 261.6h0M240.4 257.7h0M245.5 264.3h0M225.3 282.6h0M244.0 269.6h0M248.8 270.5h0M239.5 243.8h0M227.3 275.2h0M260.2 231.8h0M261.6 262.0h0M273.7 233.2h0M255.6 270.7h0M255.0 202.5h0M245.6 283.9h0M228.6 284.6h0M269.2 262.4h0M250.0 238.4h0M230.9 240.5h0M267.0 202.5h0M271.1 231.3h0M237.5 213.3h0M248.2 254.0h0M254.2 278.2h0M251.0 240.6h0M263.0 265.1h0M239.5 262.2h0M234.2 244.8h0M255.6 266.8h0M232.1 223.7h0M268.2 269.7h0M262.7 263.8h0M258.5 267.2h0M251.3 245.5h0M259.0 248.2h0M250.1 264.9h0M254.4 202.3h0M246.3 231.4h0M246.7 245.4h0M242.8 228.4h0M246.4 226.5h0M244.6 234.2h0M255.4 226.0h0M238.6 235.8h0M236.2 214.8h0M261.3 268.9h0M248.7 228.1h0M235.7 269.1h0M270.4 275.0h0M229.2 248.7h0M248.2 203.9h0M259.5 236.7h0M256.8 199.3h0M255.3 231.4h0M236.6 282.1h0M263.1 201.5h0M235.5 223.6h0M254.4 221.8h0M247.1 270.6h0M232.9 261.3h0M241.1 283.7h0M256.2 200.5h0M245.5 251.6h0M258.0 223.6h0M253.7 206.5h0M239.7 251.1h0M236.9 247.9h0M238.1 267.5h0M247.0 280.0h0M241.2 228.8h0M264.7 229.7h0M249.0 229.0h0M265.5 279.5h0M246.3 281.3h0M236.7 287.0h0M251.8 257.5h0M243.9 216.5h0M230.3 277.8h0M242.7 259.1h0M248.2 242.0h0M241.4 257.4h0M262.0 232.6h0M234.5 271.5h0M253.2 222.0h0M236.6 218.5h0M238.3 224.0h0M266.4 268.1h0M261.3 277.7h0M258.9 200.7h0M237.1 242.1h0M268.1 247.9h0M246.5 213.6h0M269.5 201.1h0M258.8 225.0h0M271.8 219.0h0M258.3 257.4h0M238.4 216.6h0M227.7 287.7h0M225.3 250.5h0M242.1 208.0h0M246.9 282.3h0M257.5 255.0h0M251.0 207.3h0M271.0 200.5h0M251.2 236.9h0M253.3 262.0h0M272.1 236.1h0M230.8 249.5h0M265.9 202.3h0M239.1 274.3h0M260.8 200.2h0M260.7 268.6h0M245.4 204.9h0M259.1 221.3h0M245.0 202.1h0M244.1 244.4h0M253.3 229.7h0M266.9 198.2h0M241.0 282.5h0M265.0 242.9h0M266.2 246.5h0M228.3 276.7h0M240.6 230.1h0M252.5 199.5h0M261.7 268.8h0M266.7 277.3h0M264.8 258.6h0M243.3 223.7h0M231.4 272.4h0M248.2 270.4h0M241.6 221.5h0M251.1 263.8h0M271.4 224.7h0M261.0 229.7h0M253.4 225.6h0M238.0 277.7h0M266.9 219.9h0M267.4 242.2h0M253.4 243.2h0M245.5 245.0h0M227.8 281.2h0M259.9 253.4h0M267.3 258.5h0M274.1 194.6h0M265.7 204.6h0M252.1 266.3h0M231.5 242.0h0M244.8 237.2h0M238.2 285.3h0M265.9 257.3h0M239.6 262.4h0M249.7 269.1h0M242.9 277.4h0M260.6 234.4h0M253.9 269.7h0M252.0 285.2h0M262.2 238.2h0M269.6 204.3h0M241.5 260.6h0M268.2 226.6h0M227.1 246.3h0M240.6 215.5h0M247.5 197.2h0M253.6 233.8h0M239.9 249.6h0M242.0 286.8h0M268.3 196.9h0M229.8 231.6h0M251.9 219.4h0M260.0 245.4h0M255.8 219.3h0M263.3 258.2h0M262.2 236.4h0M248.4 217.9h0M256.8 208.0h0M270.2 277.1h0M269.8 270.8h0M249.8 206.9h0M237.8 263.0h0M242.1 249.0h0M229.1 273.6h0M241.5 280.1h0M241.0 219.9h0M232.6 285.8h0M255.3 271.8h0M226.4 243.6h0M243.4 289.1h0M252.3 284.9h0M253.7 225.4h0M254.7 282.6h0M237.0 271.3h0M243.1 247.5h0M235.9 260.1h0M258.8 198.9h0M273.5 196.5h0M261.2 224.2h0M248.1 268.7h0M252.2 216.8h0M251.4 287.3h0M263.1 256.2h0M269.3 230.2h0M253.6 274.1h0M233.9 275.1h0M254.5 204.0h0M273.6 233.2h0M233.1 230.5h0M255.4 232.2h0M262.1 202.6h0M237.0 270.0h0M270.3 277.4h0M264.4 249.2h0M246.6 213.1h0M255.2 287.3h0M261.1 200.1h0M235.2 233.2h0M240.3 236.8h0M231.8 229.5h0M261.4 221.7h0M266.7 207.8h0M228.5 252.0h0M247.8 281.0h0M228.7 263.9h0M259.7 226.4h0M230.0 250.5h0M264.6 236.6h0M248.9 257.8h0M256.4 231.6h0M233.1 235.7h0M253.1 278.9h0M241.0 211.6h0M257.6 263.1h0M236.5 258.3h0M274.5 233.0h0M258.8 275.9h0M234.1 223.9h0M239.7 237.0h0M263.9 252.3h0M257.7 209.6h0M270.0 230.7h0M275.7 225.1h0M257.0 243.5h0M237.4 267.2h0M240.5 277.4h0M239.3 250.2h0M267.4 200.3h0M265.8 228.4h0M251.7 231.4h0M247.0 288.3h0M263.4 259.3h0M268.6 256.6h0M257.6 220.6h0M237.6 281.3h0M241.6 224.2h0M226.6 287.0h0M229.0 261.8h0M267.4 268.2h0M266.4 201.5h0M269.2 272.2h0M251.3 212.8h0M270.0 201.4h0M277.0 230.8h0M265.3 269.4h0M254.9 287.9h0M265.5 281.9h0M264.2 212.0h0M240.8 223.5h0M246.8 202.2h0M261.5 241.3h0M265.1 223.0h0M245.6 263.7h0M261.5 278.0h0M239.9 274.1h0M263.4 246.6h0M245.3 246.0h0M263.1 250.9h0M234.2 261.5h0M268.3 251.2h0M235.4 245.7h0M244.6 216.2h0M231.1 275.7h0M257.7 282.5h0M239.5 243.3h0M249.4 280.2h0M254.7 253.0h0M255.1 267.8h0M235.1 255.1h0M237.1 227.5h0M237.2 213.7h0M240.7 230.8h0M242.7 221.7h0M263.5 238.6h0M272.4 235.0h0M234.2 271.2h0M250.5 245.4h0M256.9 256.6h0M257.5 251.3h0M227.1 266.2h0M232.4 224.0h0M233.9 275.2h0M267.9 272.5h0M243.9 282.8h0M237.2 246.7h0M259.9 212.7h0M266.7 207.8h0M258.1 253.0h0M251.8 274.6h0M264.3 210.3h0M252.3 206.3h0M255.4 242.3h0M254.0 249.4h0M227.3 266.5h0M236.1 248.2h0M252.0 223.3h0M274.9 228.9h0M246.2 243.3h0M265.2 243.2h0M262.3 253.1h0M264.7 211.0h0M254.2 233.3h0M235.6 267.4h0M235.1 260.2h0M249.8 232.0h0M261.8 261.7h0M266.9 215.7h0M259.7 238.9h0M274.6 234.0h0M248.8 242.5h0M249.5 196.4h0M232.3 233.7h0M242.0 239.3h0M252.1 228.2h0M253.7 286.2h0M238.4 224.5h0M240.5 263.5h0M250.0 268.8h0M234.2 226.2h0M244.9 227.9h0M254.6 285.6h0M258.2 248.7h0M268.5 222.8h0M252.3 247.5h0M189.9 203.3h0M215.0 210.3h0M203.0 207.8h0M196.7 206.0h0M230.5 212.3h0M222.6 210.7h0M221.2 209.2h0M192.6 204.0h0M221.6 210.8h0M208.0 207.9h0M209.2 207.8h0M224.4 210.5h0M193.0 204.7h0M191.6 205.6h0M218.0 209.7h0M225.7 210.7h0M189.5 203.5h0M198.0 206.0h0M212.0 208.7h0M193.1 203.8h0M201.3 204.8h0M227.8 211.5h0M203.7 206.9h0M220.0 209.7h0M210.5 207.5h0M207.4 207.7h0M195.0 204.2h0M200.3 205.5h0M199.9 204.5h0M198.6 204.1h0M199.5 203.0h0M201.1 204.1h0M200.8 203.8h0M200.6 204.7h0M201.8 205.1h0M201.9 204.3h0M199.4 204.1h0M196.3 204.3h0M202.3 205.6h0M197.3 204.9h0M198.9 290.1h0M197.6 296.4h0M198.9 296.2h0M190.8 287.6h0M203.0 293.7h0M200.7 299.9h0M196.8 290.9h0M201.0 295.1h0M198.2 297.0h0M199.6 299.0h0M191.9 289.9h0M197.0 295.2h0M199.0 294.7h0M195.9 302.8h0M201.0 299.5h0M199.9 292.2h0M196.2 294.9h0M192.9 291.9h0M197.0 290.7h0M198.3 297.0h0M195.7 293.9h0M198.5 297.0h0M197.7 290.6h0M191.2 302.9h0M194.4 293.8h0M190.6 292.2h0M194.1 298.2h0M187.9 290.0h0M195.2 293.4h0M194.0 293.6h0M191.4 296.2h0M200.4 295.8h0M194.8 299.9h0M198.1 291.3h0M194.6 292.9h0M196.4 299.7h0M194.2 294.7h0M196.9 290.7h0M194.9 297.5h0M200.2 288.2h0M198.8 294.1h0M200.7 297.5h0M202.9 296.4h0M195.2 292.1h0M191.8 297.3h0M198.2 298.3h0M197.6 289.6h0M195.2 294.3h0M197.0 298.1h0M201.1 296.3h0M189.8 291.4h0M189.5 292.3h0M209.4 291.1h0M211.6 290.7h0M200.6 294.6h0M212.1 290.2h0M219.6 287.9h0M201.1 292.3h0M213.7 290.1h0M210.9 289.9h0M203.7 295.6h0M212.9 292.3h0M220.6 287.2h0M218.3 289.9h0M216.8 289.7h0M218.3 288.7h0M143.1 200.9h0M143.7 200.1h0M140.2 200.2h0M137.0 200.2h0M138.0 200.9h0M138.0 200.6h0M136.2 199.4h0M143.9 199.6h0M145.3 201.3h0M131.1 199.9h0M137.6 200.5h0M138.4 200.0h0M143.3 200.4h0M142.3 199.9h0M149.5 199.8h0M158.1 201.2h0M133.0 201.8h0" stroke="#8491B4" stroke-width="2.3" stroke-linecap="round" fill="none"/>
<path d="M199.1 131.0h0M213.3 121.7h0M197.2 119.8h0M192.8 122.8h0M198.3 104.4h0M205.0 140.5h0M213.0 129.1h0M204.8 131.1h0M206.3 108.9h0M198.5 139.7h0M208.0 124.0h0M213.3 123.2h0M201.2 125.9h0M187.8 116.7h0M211.1 128.3h0M217.9 125.5h0M196.4 119.4h0M200.4 104.0h0M205.1 125.6h0M200.2 132.1h0M206.8 123.4h0M196.6 110.8h0M211.8 116.2h0M206.0 105.3h0M200.3 103.9h0M205.6 144.5h0M215.2 117.2h0M201.4 120.1h0M209.5 124.7h0M199.1 100.9h0M200.5 122.2h0M207.8 134.5h0M213.5 125.7h0M210.3 131.3h0M193.6 116.1h0M199.0 140.0h0M189.3 115.6h0M200.3 118.4h0M218.6 125.0h0M210.3 120.7h0M204.0 144.5h0M197.3 124.7h0M204.7 107.0h0M192.4 123.8h0M216.6 120.4h0M192.4 112.5h0M202.6 135.2h0M203.1 119.7h0M201.9 124.5h0M194.0 106.6h0M207.3 116.7h0M212.0 117.3h0M203.0 115.1h0M206.7 113.4h0M211.8 119.4h0M213.2 113.9h0M203.9 126.1h0M213.6 130.5h0M202.9 104.5h0M191.2 107.2h0M193.8 108.9h0M211.5 116.2h0M196.1 108.9h0M208.4 112.1h0M202.9 128.5h0M211.3 120.8h0M190.4 117.3h0M200.8 117.6h0M206.0 112.1h0M194.8 106.4h0M212.4 123.9h0M209.9 120.6h0M202.7 107.2h0M207.3 113.1h0M197.9 127.0h0M197.2 138.7h0M194.7 130.3h0M207.5 115.5h0M190.0 122.9h0M206.4 138.1h0M194.5 109.0h0M198.3 137.4h0M195.6 129.7h0M188.2 104.3h0M213.2 123.4h0M191.2 122.3h0M207.6 119.8h0M219.7 127.2h0M199.8 113.6h0M218.1 117.9h0M209.3 125.9h0M194.4 102.0h0M187.8 108.1h0M211.2 128.7h0M222.4 123.0h0M217.9 122.4h0M195.0 119.2h0M209.8 133.2h0M212.3 118.8h0M215.3 128.1h0M199.5 138.3h0M216.7 121.4h0M201.6 137.1h0M211.2 125.3h0M195.3 106.7h0M202.2 127.9h0M205.8 125.3h0M204.1 119.4h0M215.2 125.5h0M200.1 105.0h0M190.4 125.3h0M216.9 122.6h0M199.4 124.2h0M213.9 121.1h0M198.2 140.4h0M201.5 119.8h0M195.3 122.7h0M213.1 117.1h0M211.5 123.2h0M197.7 125.6h0M189.4 109.9h0M197.0 124.0h0M193.5 114.6h0M220.5 120.9h0M195.6 128.0h0M191.2 124.4h0M207.3 114.7h0M214.6 128.8h0M193.8 109.0h0M189.3 119.7h0M197.5 122.0h0M219.3 126.2h0M197.3 129.0h0M200.9 122.3h0M206.6 131.2h0M193.0 114.9h0M200.6 144.3h0M194.4 102.1h0M191.6 116.9h0M190.1 122.2h0M199.8 134.5h0M205.2 144.9h0M207.9 124.7h0M193.3 115.3h0M195.1 109.5h0M209.7 115.4h0M215.4 126.9h0M218.3 123.9h0M210.4 111.5h0M212.8 119.2h0M213.7 127.4h0M192.2 114.3h0M210.4 125.6h0M213.4 115.6h0M204.6 122.4h0M205.9 112.4h0M208.8 112.4h0M194.6 111.2h0M196.9 126.0h0M206.2 123.3h0M211.8 113.8h0M204.2 142.0h0M201.8 123.4h0M205.8 110.4h0M212.5 124.0h0M208.2 131.2h0M204.3 104.1h0M200.8 121.2h0M222.2 125.5h0M187.2 112.7h0M213.3 115.1h0M208.5 132.3h0M199.6 106.4h0M199.0 134.5h0M207.8 106.7h0M195.9 122.4h0M203.6 106.7h0M198.7 125.4h0M201.3 145.4h0M198.5 119.9h0M198.7 130.5h0M213.7 123.8h0M189.3 122.5h0M196.9 128.5h0M201.7 121.5h0M206.9 127.6h0M197.2 109.0h0M200.3 142.1h0M189.5 112.0h0M196.4 122.3h0M191.6 115.7h0M190.4 106.1h0M211.1 114.3h0M211.9 111.1h0M204.6 110.3h0M212.6 129.1h0M215.8 124.2h0M208.8 123.1h0M215.0 125.0h0M197.3 124.2h0M194.9 100.7h0M206.3 140.5h0M205.8 127.3h0M208.4 121.7h0M205.8 132.2h0M219.6 124.2h0M191.4 112.4h0M198.6 116.8h0M205.2 114.0h0M200.7 132.7h0M200.9 140.9h0M202.4 116.6h0M204.2 134.0h0M194.4 116.2h0M193.6 122.4h0M202.2 111.9h0M212.4 115.6h0M197.9 112.6h0M197.5 120.0h0M193.6 111.6h0M190.0 109.2h0M192.2 118.0h0M216.2 125.5h0M188.6 105.1h0M213.8 123.8h0M197.3 110.2h0M194.3 102.5h0M210.7 132.5h0M206.2 130.4h0M206.1 135.9h0M207.2 119.5h0M199.4 118.6h0M195.2 114.8h0M203.9 139.4h0M191.6 124.2h0M201.3 108.2h0M211.2 116.4h0M191.2 126.7h0M202.0 141.4h0M208.1 135.1h0M208.5 128.0h0M194.0 104.7h0M211.7 112.2h0M205.0 135.8h0M202.5 131.2h0M205.9 137.1h0M194.7 107.2h0M195.1 119.8h0M202.8 130.7h0M187.8 106.6h0M198.1 124.7h0M202.0 104.7h0M204.7 117.6h0M193.7 103.9h0M207.0 117.0h0M209.4 112.3h0M203.2 124.7h0M201.0 126.5h0M190.3 119.9h0M205.7 135.2h0M201.1 133.2h0M194.4 128.9h0M187.6 109.4h0M193.5 116.7h0M221.8 121.1h0M190.1 124.6h0M209.4 132.1h0M193.6 126.6h0M211.9 120.8h0M202.5 122.0h0M191.6 103.9h0M197.3 108.5h0M219.4 126.4h0M213.3 121.1h0M196.0 126.5h0M198.5 138.6h0M199.5 119.8h0M206.5 126.4h0M205.0 135.6h0M212.7 125.7h0M191.8 121.6h0M189.3 108.8h0M192.0 120.5h0M195.4 110.5h0M208.5 122.9h0M202.6 101.0h0M200.0 124.6h0M199.6 139.4h0M205.2 123.5h0M195.3 101.1h0M205.2 121.4h0M202.0 123.3h0M206.2 108.2h0M194.1 122.5h0M199.4 143.2h0M187.7 111.4h0M198.5 139.5h0M204.9 110.5h0M191.5 111.7h0M214.2 127.0h0M143.6 178.5h0M247.2 194.2h0" stroke="#3C5488" stroke-width="2.3" stroke-linecap="round" fill="none"/>
<path d="M190.5 10.2h0M207.4 14.6h0M192.6 9.5h0M192.2 18.3h0M203.1 15.7h0M207.9 15.9h0M195.5 19.2h0M200.1 6.8h0M207.2 13.6h0M208.7 11.4h0M207.1 17.5h0M193.0 5.4h0M207.1 14.1h0M190.4 16.6h0M194.2 9.7h0M198.8 14.1h0M198.7 11.9h0M195.0 20.2h0M206.4 11.0h0M198.7 9.9h0M197.2 15.9h0M201.2 10.4h0M197.7 23.7h0M201.1 8.8h0M204.7 15.4h0M195.6 25.1h0M207.4 12.7h0M201.1 21.9h0M202.3 20.4h0M196.2 17.7h0M206.9 12.5h0M197.0 15.9h0M200.1 23.2h0M194.3 10.2h0M197.6 18.8h0M200.6 20.7h0M198.1 4.1h0M197.4 16.9h0M202.9 14.3h0M196.1 18.8h0M191.7 14.9h0M194.3 16.8h0M205.6 15.7h0M207.3 18.1h0M200.1 21.3h0M212.3 11.8h0M210.0 8.9h0M209.3 14.0h0M199.3 15.2h0M197.1 8.9h0M205.7 18.2h0M188.5 9.9h0M212.2 10.1h0M194.9 17.1h0M193.1 7.5h0M199.0 10.2h0M190.0 10.8h0M190.6 13.6h0M196.8 20.6h0M198.4 18.6h0M190.8 7.4h0M207.6 5.1h0M203.7 4.0h0M203.8 12.1h0M195.9 22.6h0M198.5 13.9h0M195.4 20.5h0M210.1 12.9h0M198.4 22.4h0M201.4 12.6h0M196.7 21.9h0M205.2 19.3h0M200.2 5.6h0M199.9 16.7h0M208.7 15.1h0M199.8 14.9h0M196.0 21.7h0M197.1 19.3h0M197.2 24.6h0M197.3 11.8h0M198.7 17.7h0M198.4 6.3h0M206.5 8.6h0M200.5 15.6h0M196.8 15.0h0M211.5 7.7h0M207.8 12.5h0M203.1 16.7h0M207.0 10.6h0M205.3 12.2h0M208.1 15.1h0M211.0 12.6h0M196.8 13.4h0M196.9 11.5h0M198.1 23.4h0M208.3 16.6h0M204.3 10.5h0M197.3 15.2h0M192.9 9.4h0M199.1 18.5h0M196.6 17.0h0M192.0 16.2h0M195.8 9.7h0M207.0 12.0h0M197.1 4.2h0M202.7 19.6h0M203.6 13.1h0M203.8 13.2h0M195.4 9.4h0M194.2 15.9h0M212.4 7.5h0M194.8 12.3h0M204.3 11.8h0M205.1 7.0h0M206.5 6.6h0M205.6 7.3h0M198.1 4.8h0M189.4 11.8h0M202.8 15.5h0M204.7 15.2h0M197.7 23.2h0M195.1 13.0h0M196.3 13.7h0M197.9 8.4h0M196.6 22.1h0M192.1 14.7h0M194.7 17.1h0M207.9 6.2h0M200.1 7.9h0M204.5 19.4h0M193.0 8.9h0M195.2 11.2h0M208.4 12.8h0M199.3 8.2h0M189.5 12.8h0M195.1 15.0h0M200.9 22.3h0M194.1 9.4h0M203.1 4.7h0M200.3 12.0h0M207.9 6.3h0M199.7 22.1h0M210.6 11.1h0M201.5 17.3h0M199.2 22.7h0M193.8 15.4h0M201.7 17.2h0M199.1 7.2h0M188.5 11.3h0M191.4 18.4h0M190.0 28.0h0M188.5 30.5h0" stroke="#E64B35" stroke-width="2.3" stroke-linecap="round" fill="none"/>
<path d="M191.5 27.5h0M189.0 31.0h0M187.5 32.0h0M186.0 33.5h0M184.8 34.8h0M186.6 104.8h0" stroke="#91D1C2" stroke-width="2.3" stroke-linecap="round" fill="none"/>
<path d="M384.0 53.4h0M383.6 48.6h0M371.8 52.1h0M372.3 53.6h0M394.6 50.3h0M390.8 54.1h0M395.1 46.0h0M380.7 54.8h0M393.7 51.6h0M396.3 49.9h0M388.8 52.9h0M370.3 51.3h0M391.8 56.8h0M384.6 65.2h0M396.3 51.5h0M388.8 60.0h0M387.6 43.1h0M388.7 60.8h0M390.1 52.8h0M372.8 52.7h0M386.1 63.2h0M395.1 50.3h0M388.7 58.0h0M386.7 62.2h0M388.0 44.8h0M375.8 54.2h0M382.9 65.1h0M389.8 56.2h0M390.6 55.6h0M387.5 45.3h0M387.3 50.8h0M379.2 62.2h0M381.1 55.4h0M386.1 44.4h0M388.6 46.5h0M392.2 53.9h0M388.9 44.5h0M378.7 59.4h0M378.5 46.5h0M381.4 45.9h0M381.9 44.9h0M389.9 47.6h0M386.9 57.9h0M384.3 57.3h0M372.8 53.9h0M393.3 57.3h0M374.7 50.5h0M382.1 54.8h0M381.3 49.5h0M390.9 47.2h0M377.0 55.0h0M390.7 54.6h0M384.9 43.5h0M384.5 56.8h0M370.7 50.6h0M378.6 60.2h0M391.6 59.2h0M372.7 53.6h0M395.8 46.7h0M378.0 57.3h0M388.8 53.6h0M383.7 62.7h0M389.5 52.5h0M389.1 56.0h0M392.4 48.9h0M395.4 50.0h0M391.6 51.4h0M381.4 56.6h0M392.4 52.5h0M395.3 47.7h0M383.4 46.0h0M372.4 49.5h0M386.5 52.0h0M392.1 55.6h0M388.5 44.5h0M378.9 58.6h0M391.0 49.2h0M377.3 55.1h0M393.6 44.9h0M385.7 52.3h0M379.0 52.2h0M389.5 53.1h0M389.5 63.5h0M396.6 47.1h0M392.6 52.2h0M380.5 56.9h0M390.6 48.7h0M379.7 52.5h0M389.3 49.3h0M378.2 54.6h0M374.5 52.8h0M390.6 54.6h0M368.8 50.9h0M385.0 48.1h0M379.2 55.9h0M378.5 46.9h0M384.5 55.6h0M379.9 57.5h0M394.8 50.2h0M394.7 56.9h0M390.8 51.8h0M377.2 59.1h0M384.9 64.4h0M372.1 50.7h0M388.8 64.3h0M381.7 61.4h0M377.4 59.1h0M376.4 47.0h0M392.5 48.7h0M389.6 54.2h0M381.5 63.7h0M392.4 55.3h0M379.6 55.3h0M375.5 51.7h0M381.7 49.4h0M386.7 44.4h0M374.0 49.3h0M378.5 54.3h0M395.4 44.9h0M385.1 57.5h0M375.1 51.0h0M381.0 63.8h0M391.5 54.0h0M369.2 51.1h0M392.7 52.9h0M379.3 57.8h0M388.6 45.2h0M380.1 63.0h0M375.3 55.2h0M377.9 55.8h0M379.3 50.8h0M381.7 51.3h0M394.3 51.3h0M388.4 46.7h0M384.1 49.0h0M395.8 51.3h0M377.7 55.7h0M393.0 56.1h0M386.5 45.9h0M393.2 57.9h0M387.4 49.8h0M391.0 55.2h0M391.3 58.8h0M393.5 59.2h0M380.7 54.5h0M393.2 56.8h0M381.7 61.8h0M374.9 57.1h0M378.2 57.1h0M395.3 52.4h0M393.3 53.7h0M377.1 53.9h0M385.1 47.8h0M387.3 57.8h0M376.1 47.6h0M393.8 57.7h0M386.0 52.7h0M392.9 55.3h0M378.1 54.4h0M381.9 47.0h0M388.2 62.5h0M379.8 60.9h0M371.1 54.6h0M388.5 55.3h0M389.2 46.5h0M385.9 55.1h0M389.8 45.2h0M394.5 46.9h0M389.7 51.6h0M389.1 59.3h0M380.8 53.7h0M389.5 46.1h0M395.2 50.5h0M395.0 46.0h0M374.6 53.1h0M390.2 59.0h0M385.4 44.5h0M389.6 55.6h0M387.6 62.4h0M383.0 49.5h0M388.0 57.7h0M383.1 53.4h0M396.0 51.5h0M371.9 54.3h0M382.4 51.8h0M391.8 48.5h0M397.6 47.6h0M375.6 52.3h0M381.8 48.4h0M396.1 46.3h0M342.9 37.1h0M347.9 35.6h0M347.2 36.2h0M343.2 37.2h0M345.5 36.9h0M348.3 35.2h0M346.0 37.0h0M344.8 36.5h0M343.8 36.8h0M344.5 36.1h0M351.4 37.1h0M355.3 40.5h0M353.9 38.5h0M349.9 37.0h0M349.2 34.6h0M353.2 38.3h0M350.1 36.1h0M354.7 41.0h0M356.1 41.5h0M353.0 37.4h0M356.8 40.1h0M353.6 37.9h0M352.6 40.2h0M357.0 41.5h0M348.2 35.4h0M351.3 36.5h0M355.2 41.2h0M357.5 40.8h0M353.7 39.6h0M354.0 38.6h0M349.8 37.1h0M352.7 36.8h0M361.2 44.6h0M363.7 46.3h0M366.4 49.4h0M364.8 45.7h0M360.0 42.3h0M361.2 43.4h0M365.3 50.0h0M365.0 50.2h0M367.6 50.5h0M359.9 44.0h0M360.4 43.7h0M362.8 47.8h0M359.9 44.2h0M358.8 41.4h0M361.8 44.0h0M364.1 47.1h0M378.9 86.6h0" stroke="#00A087" stroke-width="2.3" stroke-linecap="round" fill="none"/>
<path d="M382.3 105.6h0M380.5 108.9h0M377.8 118.2h0M373.2 105.5h0M372.4 109.6h0M378.5 119.0h0M372.6 107.3h0M378.1 104.2h0M379.8 117.6h0M373.2 112.6h0M370.8 112.9h0M374.7 104.2h0M373.5 114.8h0M376.4 116.9h0M380.3 116.7h0M379.8 115.1h0M381.8 105.9h0M380.9 117.1h0M371.1 108.6h0M382.3 108.2h0M374.9 104.1h0M372.4 113.0h0M382.1 114.5h0M375.0 120.2h0M383.4 106.3h0M379.3 113.9h0M370.9 114.3h0M377.2 116.4h0M381.5 111.6h0M378.4 116.9h0M376.7 116.9h0M378.3 105.3h0M380.9 106.8h0M371.0 108.0h0M374.7 118.9h0M369.9 108.1h0M376.1 117.5h0M384.4 106.6h0M373.7 115.5h0M371.3 112.3h0M372.0 108.2h0M369.2 108.8h0M384.1 113.0h0M381.4 117.0h0M372.5 109.6h0M380.9 107.4h0M372.0 106.9h0M380.9 106.8h0M380.7 109.2h0M372.4 109.4h0M370.4 113.9h0M375.3 103.3h0M379.1 103.4h0M382.0 109.2h0M371.6 116.8h0M370.7 109.3h0M377.9 104.5h0M375.9 104.3h0M379.7 118.1h0M380.2 114.8h0M370.6 110.1h0M382.1 109.5h0M383.9 113.7h0M373.5 103.8h0M371.3 106.6h0M382.6 112.7h0M371.7 109.7h0M371.1 115.7h0M381.3 106.9h0M369.4 107.4h0M375.5 118.3h0M375.2 116.6h0M379.0 116.5h0M374.2 114.3h0M380.9 114.7h0M371.7 109.2h0M373.2 105.2h0M379.6 105.1h0M381.8 105.6h0M370.9 114.1h0M379.5 106.5h0M385.0 116.3h0M383.7 106.3h0M383.8 109.7h0M375.7 103.5h0M382.4 109.4h0M381.9 107.5h0M384.5 106.6h0M378.0 115.5h0M370.0 107.4h0M381.3 108.5h0M380.4 117.2h0M375.9 118.2h0M381.4 107.5h0M378.7 105.9h0M374.0 119.8h0M372.8 126.7h0M371.0 124.3h0M371.8 126.1h0M371.7 120.9h0M374.1 120.7h0M375.0 121.1h0M375.8 121.1h0M372.6 124.0h0M374.7 116.4h0M373.0 122.8h0M373.5 127.0h0M368.3 124.7h0M374.3 121.5h0M372.9 118.3h0M371.5 125.9h0M373.2 121.5h0M372.3 120.1h0M371.9 118.1h0M369.1 124.7h0M371.8 123.0h0M370.2 121.9h0M374.6 120.9h0M373.2 122.9h0M374.4 119.4h0M372.1 124.2h0M372.8 118.9h0M372.0 121.0h0M373.8 119.6h0M374.1 121.6h0M372.8 124.2h0M374.4 120.6h0M370.8 124.1h0M372.0 122.2h0M375.3 121.0h0M371.4 126.6h0M371.9 126.7h0M373.4 120.5h0M354.8 135.1h0M367.9 127.8h0M361.4 131.8h0M366.6 128.5h0M364.2 129.4h0M367.7 127.1h0M363.0 130.3h0M366.5 127.2h0M360.1 132.4h0M365.1 128.0h0M356.0 133.8h0M360.5 131.2h0M360.8 129.9h0M364.8 126.3h0M358.4 133.0h0M368.0 126.2h0M364.7 129.5h0M362.9 131.8h0M360.6 132.6h0M370.9 124.4h0M364.8 128.5h0M369.8 126.3h0M356.9 134.5h0M366.2 128.4h0M359.9 132.8h0M366.9 127.6h0M363.6 129.7h0M370.2 125.7h0M361.5 132.9h0M365.2 129.0h0M356.7 134.1h0M370.4 123.9h0M359.2 133.4h0M359.6 132.5h0M362.2 130.7h0M370.2 126.4h0M365.6 126.7h0M369.0 126.2h0M356.6 135.0h0M363.4 128.4h0M374.8 97.2h0M379.5 97.2h0M380.0 125.0h0" stroke="#4DBBD5" stroke-width="2.3" stroke-linecap="round" fill="none"/>
<rect x="192.5" y="9.2" width="22" height="9.6" fill="#fff" fill-opacity="0.55"/>
<text x="193.3" y="17.6" font-size="10.2" fill="#111" textLength="20.4" lengthAdjust="spacingAndGlyphs">ME5</text>
<rect x="357.5" y="41.4" width="22" height="9.6" fill="#fff" fill-opacity="0.55"/>
<text x="358.3" y="49.8" font-size="10.2" fill="#111" textLength="20.4" lengthAdjust="spacingAndGlyphs">ME6</text>
<rect x="351.2" y="111.4" width="22" height="9.6" fill="#fff" fill-opacity="0.55"/>
<text x="352.0" y="119.8" font-size="10.2" fill="#111" textLength="20.4" lengthAdjust="spacingAndGlyphs">ME7</text>
<rect x="194.0" y="114.6" width="22" height="9.6" fill="#fff" fill-opacity="0.55"/>
<text x="194.8" y="123.0" font-size="10.2" fill="#111" textLength="20.4" lengthAdjust="spacingAndGlyphs">ME4</text>
<rect x="78.6" y="163.4" width="22" height="9.6" fill="#fff" fill-opacity="0.55"/>
<text x="79.4" y="171.8" font-size="10.2" fill="#111" textLength="20.4" lengthAdjust="spacingAndGlyphs">ME2</text>
<rect x="73.6" y="207.2" width="22" height="9.6" fill="#fff" fill-opacity="0.55"/>
<text x="74.4" y="215.6" font-size="10.2" fill="#111" textLength="20.4" lengthAdjust="spacingAndGlyphs">ME1</text>
<rect x="98.2" y="254.4" width="22" height="9.6" fill="#fff" fill-opacity="0.55"/>
<text x="99.0" y="262.8" font-size="10.2" fill="#111" textLength="20.4" lengthAdjust="spacingAndGlyphs">ME3</text>
<rect x="237.5" y="239.8" width="22" height="9.6" fill="#fff" fill-opacity="0.55"/>
<text x="238.3" y="248.2" font-size="10.2" fill="#111" textLength="20.4" lengthAdjust="spacingAndGlyphs">ME0</text>
<path d="M46.3 258.5V310.6H97" stroke="#3b4d69" stroke-width="2.2" fill="none"/>
<path d="M46.3 256 L42.6 264.5 L50 264.5Z" fill="#3b4d69"/>
<path d="M99.6 310.6 L91 306.9 L91 314.3Z" fill="#3b4d69"/>
<text font-size="13.6" textLength="54.0" lengthAdjust="spacingAndGlyphs" transform="translate(36.8 311.5) rotate(-90)">UMAP_2</text>
<text x="47.2" y="326.8" font-size="13.6" textLength="52.5" lengthAdjust="spacingAndGlyphs">UMAP_1</text>
<text x="67.2" y="353.2" font-size="14.2" textLength="111.2" lengthAdjust="spacingAndGlyphs" xml:space="preserve">Subtypes (<tspan font-style="italic">n</tspan> = 8)</text>
<circle cx="72.5" cy="372.4" r="4.50" fill="#8491B4"/>
<text x="83.4" y="376.9" font-size="14" textLength="145.8" lengthAdjust="spacingAndGlyphs">ME0: LumSec-HSPH1</text>
<circle cx="72.5" cy="392.9" r="4.50" fill="#F39B7F"/>
<text x="83.4" y="397.3" font-size="14" textLength="126.4" lengthAdjust="spacingAndGlyphs">ME1: LumSec-Lac1</text>
<circle cx="72.5" cy="414.0" r="4.50" fill="#91D1C2"/>
<text x="83.4" y="418.4" font-size="14" textLength="130.5" lengthAdjust="spacingAndGlyphs">ME2: LumSec-Lac2</text>
<circle cx="72.5" cy="432.8" r="4.50" fill="#D7101B"/>
<text x="83.4" y="437.4" font-size="14" textLength="131.3" lengthAdjust="spacingAndGlyphs">ME3: LumSec-Lac3</text>
<circle cx="245.6" cy="371.8" r="4.50" fill="#3C5488"/>
<text x="253.8" y="376.9" font-size="14" textLength="136.5" lengthAdjust="spacingAndGlyphs">ME4: LumSec-Basal</text>
<circle cx="245.6" cy="394.6" r="4.50" fill="#E64B35"/>
<text x="253.8" y="399.3" font-size="14" textLength="128.2" lengthAdjust="spacingAndGlyphs">ME5: LumSec-Myo</text>
<circle cx="245.6" cy="414.0" r="4.50" fill="#00A087"/>
<text x="254.6" y="418.4" font-size="14" textLength="87.6" lengthAdjust="spacingAndGlyphs">ME6: LumHR</text>
<circle cx="245.6" cy="432.8" r="4.50" fill="#4DBBD5"/>
<text x="253.4" y="437.4" font-size="14" textLength="167.5" lengthAdjust="spacingAndGlyphs">ME7: Myoepithelial cells</text>
</g>
<g id="panel-b">
<text x="439.0" y="15.9" font-size="20.5" font-weight="bold" fill="#000" stroke="#000" stroke-width="1.0" stroke-linejoin="round">b</text>
<text x="461.6" y="17.6" font-size="14.2" textLength="78.4" lengthAdjust="spacingAndGlyphs">Cell counts</text>
<line x1="526.7" y1="28.3" x2="526.7" y2="54.7" stroke="#333" stroke-width="1"/>
<line x1="522.3" y1="35.0" x2="526.7" y2="35.0" stroke="#333" stroke-width="1"/>
<line x1="522.3" y1="45.0" x2="526.7" y2="45.0" stroke="#333" stroke-width="1"/>
<text x="518.2" y="38.6" font-size="10.2" text-anchor="end" textLength="19.4" lengthAdjust="spacingAndGlyphs">500</text>
<text x="518.2" y="48.7" font-size="10.2" text-anchor="end" textLength="18.4" lengthAdjust="spacingAndGlyphs">250</text>
<rect x="534.30" y="28.50" width="14.00" height="25.90" fill="#8491B4" stroke="#2a2a2a" stroke-width="0.9"/>
<rect x="562.63" y="31.30" width="14.00" height="23.10" fill="#F39B7F" stroke="#2a2a2a" stroke-width="0.9"/>
<rect x="590.96" y="38.40" width="14.00" height="16.00" fill="#91D1C2" stroke="#2a2a2a" stroke-width="0.9"/>
<rect x="619.29" y="47.40" width="14.00" height="7.00" fill="#D7101B" stroke="#2a2a2a" stroke-width="0.9"/>
<rect x="647.62" y="47.40" width="14.00" height="7.00" fill="#3C5488" stroke="#2a2a2a" stroke-width="0.9"/>
<rect x="675.95" y="49.00" width="14.00" height="5.40" fill="#E64B35" stroke="#2a2a2a" stroke-width="0.9"/>
<rect x="704.28" y="50.90" width="14.00" height="3.50" fill="#00A087" stroke="#2a2a2a" stroke-width="0.9"/>
<rect x="732.61" y="49.30" width="14.00" height="5.10" fill="#4DBBD5" stroke="#2a2a2a" stroke-width="0.9"/>
<rect x="527.0" y="65.90" width="28.6" height="3.62" fill="#a31b21"/>
<rect x="527.0" y="69.37" width="28.6" height="3.62" fill="#d8715f"/>
<rect x="527.0" y="72.84" width="28.6" height="3.62" fill="#f8d0c8"/>
<rect x="527.0" y="76.31" width="28.6" height="17.50" fill="#a31b21"/>
<rect x="527.0" y="93.66" width="28.6" height="3.62" fill="#d8715f"/>
<rect x="527.0" y="97.13" width="28.6" height="3.62" fill="#c54e3f"/>
<rect x="527.0" y="100.60" width="28.6" height="3.62" fill="#aa2526"/>
<rect x="527.0" y="104.07" width="28.6" height="7.09" fill="#b8382f"/>
<rect x="527.0" y="111.01" width="28.6" height="3.62" fill="#ea9c8e"/>
<rect x="527.0" y="114.48" width="28.6" height="3.62" fill="#ffffff"/>
<rect x="527.0" y="117.95" width="28.6" height="3.62" fill="#f6c4ba"/>
<rect x="527.0" y="121.42" width="28.6" height="3.62" fill="#f0ab9e"/>
<rect x="527.0" y="124.89" width="28.6" height="7.09" fill="#f8d0c8"/>
<rect x="527.0" y="131.83" width="28.6" height="3.62" fill="#fefbfa"/>
<rect x="555.4" y="65.90" width="28.6" height="3.62" fill="#f4f5fa"/>
<rect x="555.4" y="69.37" width="28.6" height="3.62" fill="#e8ecf6"/>
<rect x="555.4" y="72.84" width="28.6" height="3.62" fill="#b3bede"/>
<rect x="555.4" y="76.31" width="28.6" height="3.62" fill="#d2d8ec"/>
<rect x="555.4" y="79.78" width="28.6" height="7.09" fill="#c8cfe7"/>
<rect x="555.4" y="86.72" width="28.6" height="7.09" fill="#b3bede"/>
<rect x="555.4" y="93.66" width="28.6" height="3.62" fill="#8b9ece"/>
<rect x="555.4" y="97.13" width="28.6" height="3.62" fill="#6d87c3"/>
<rect x="555.4" y="100.60" width="28.6" height="7.09" fill="#9fadd5"/>
<rect x="555.4" y="107.54" width="28.6" height="3.62" fill="#8196ca"/>
<rect x="555.4" y="111.01" width="28.6" height="3.62" fill="#a9b5d9"/>
<rect x="555.4" y="114.48" width="28.6" height="3.62" fill="#9fadd5"/>
<rect x="555.4" y="117.95" width="28.6" height="3.62" fill="#95a6d2"/>
<rect x="555.4" y="121.42" width="28.6" height="3.62" fill="#bec6e2"/>
<rect x="555.4" y="124.89" width="28.6" height="7.09" fill="#a9b5d9"/>
<rect x="555.4" y="131.83" width="28.6" height="3.62" fill="#c8cfe7"/>
<rect x="583.8" y="65.90" width="28.6" height="3.62" fill="#fbddd6"/>
<rect x="583.8" y="69.37" width="28.6" height="3.62" fill="#bf4234"/>
<rect x="583.8" y="72.84" width="28.6" height="3.62" fill="#ffffff"/>
<rect x="583.8" y="76.31" width="28.6" height="10.56" fill="#e3e7f3"/>
<rect x="583.8" y="86.72" width="28.6" height="7.09" fill="#dde2f1"/>
<rect x="583.8" y="93.66" width="28.6" height="3.62" fill="#bec6e2"/>
<rect x="583.8" y="97.13" width="28.6" height="3.62" fill="#dde2f1"/>
<rect x="583.8" y="100.60" width="28.6" height="3.62" fill="#e8ecf6"/>
<rect x="583.8" y="104.07" width="28.6" height="3.62" fill="#d8ddee"/>
<rect x="583.8" y="107.54" width="28.6" height="7.09" fill="#b3bede"/>
<rect x="583.8" y="114.48" width="28.6" height="7.09" fill="#aeb9db"/>
<rect x="583.8" y="121.42" width="28.6" height="3.62" fill="#bec6e2"/>
<rect x="583.8" y="124.89" width="28.6" height="7.09" fill="#b3bede"/>
<rect x="583.8" y="131.83" width="28.6" height="3.62" fill="#bec6e2"/>
<rect x="612.2" y="65.90" width="28.6" height="7.09" fill="#ffffff"/>
<rect x="612.2" y="72.84" width="28.6" height="3.62" fill="#a9b5d9"/>
<rect x="612.2" y="76.31" width="28.6" height="3.62" fill="#c8cfe7"/>
<rect x="612.2" y="79.78" width="28.6" height="3.62" fill="#a9b5d9"/>
<rect x="612.2" y="83.25" width="28.6" height="3.62" fill="#bec6e2"/>
<rect x="612.2" y="86.72" width="28.6" height="7.09" fill="#b3bede"/>
<rect x="612.2" y="93.66" width="28.6" height="3.62" fill="#8196ca"/>
<rect x="612.2" y="97.13" width="28.6" height="3.62" fill="#6d87c3"/>
<rect x="612.2" y="100.60" width="28.6" height="7.09" fill="#9fadd5"/>
<rect x="612.2" y="107.54" width="28.6" height="3.62" fill="#8196ca"/>
<rect x="612.2" y="111.01" width="28.6" height="3.62" fill="#a9b5d9"/>
<rect x="612.2" y="114.48" width="28.6" height="3.62" fill="#9fadd5"/>
<rect x="612.2" y="117.95" width="28.6" height="3.62" fill="#95a6d2"/>
<rect x="612.2" y="121.42" width="28.6" height="3.62" fill="#bec6e2"/>
<rect x="612.2" y="124.89" width="28.6" height="7.09" fill="#a9b5d9"/>
<rect x="612.2" y="131.83" width="28.6" height="3.62" fill="#bec6e2"/>
<rect x="640.6" y="65.90" width="28.6" height="3.62" fill="#a31b21"/>
<rect x="640.6" y="69.37" width="28.6" height="3.62" fill="#ffffff"/>
<rect x="640.6" y="72.84" width="28.6" height="3.62" fill="#a31b21"/>
<rect x="640.6" y="76.31" width="28.6" height="3.62" fill="#e8ecf6"/>
<rect x="640.6" y="79.78" width="28.6" height="3.62" fill="#fceae5"/>
<rect x="640.6" y="83.25" width="28.6" height="7.09" fill="#d2d8ec"/>
<rect x="640.6" y="90.19" width="28.6" height="3.62" fill="#dde2f1"/>
<rect x="640.6" y="93.66" width="28.6" height="3.62" fill="#fdeeea"/>
<rect x="640.6" y="97.13" width="28.6" height="3.62" fill="#f4f5fa"/>
<rect x="640.6" y="100.60" width="28.6" height="3.62" fill="#cdd4ea"/>
<rect x="640.6" y="104.07" width="28.6" height="3.62" fill="#d2d8ec"/>
<rect x="640.6" y="107.54" width="28.6" height="3.62" fill="#fef6f5"/>
<rect x="640.6" y="111.01" width="28.6" height="3.62" fill="#d2d8ec"/>
<rect x="640.6" y="114.48" width="28.6" height="3.62" fill="#dde2f1"/>
<rect x="640.6" y="117.95" width="28.6" height="3.62" fill="#e3e7f3"/>
<rect x="640.6" y="121.42" width="28.6" height="3.62" fill="#c8cfe7"/>
<rect x="640.6" y="124.89" width="28.6" height="3.62" fill="#cdd4ea"/>
<rect x="640.6" y="128.36" width="28.6" height="3.62" fill="#e8ecf6"/>
<rect x="640.6" y="131.83" width="28.6" height="3.62" fill="#d2d8ec"/>
<rect x="669.0" y="65.90" width="28.6" height="3.62" fill="#e8ecf6"/>
<rect x="669.0" y="69.37" width="28.6" height="3.62" fill="#fef2f0"/>
<rect x="669.0" y="72.84" width="28.6" height="3.62" fill="#fdeeea"/>
<rect x="669.0" y="76.31" width="28.6" height="3.62" fill="#e3e7f3"/>
<rect x="669.0" y="79.78" width="28.6" height="3.62" fill="#dde2f1"/>
<rect x="669.0" y="83.25" width="28.6" height="7.09" fill="#c8cfe7"/>
<rect x="669.0" y="90.19" width="28.6" height="3.62" fill="#f4f5fa"/>
<rect x="669.0" y="93.66" width="28.6" height="3.62" fill="#f3b8ac"/>
<rect x="669.0" y="97.13" width="28.6" height="3.62" fill="#e48e7e"/>
<rect x="669.0" y="100.60" width="28.6" height="3.62" fill="#eef0f8"/>
<rect x="669.0" y="104.07" width="28.6" height="7.09" fill="#ffffff"/>
<rect x="669.0" y="111.01" width="28.6" height="3.62" fill="#d2d8ec"/>
<rect x="669.0" y="114.48" width="28.6" height="3.62" fill="#f9fafd"/>
<rect x="669.0" y="117.95" width="28.6" height="3.62" fill="#e8ecf6"/>
<rect x="669.0" y="121.42" width="28.6" height="3.62" fill="#d2d8ec"/>
<rect x="669.0" y="124.89" width="28.6" height="3.62" fill="#eef0f8"/>
<rect x="669.0" y="128.36" width="28.6" height="3.62" fill="#cdd4ea"/>
<rect x="669.0" y="131.83" width="28.6" height="3.62" fill="#d8ddee"/>
<rect x="697.4" y="65.90" width="28.6" height="3.62" fill="#a9b5d9"/>
<rect x="697.4" y="69.37" width="28.6" height="3.62" fill="#9fadd5"/>
<rect x="697.4" y="72.84" width="28.6" height="3.62" fill="#a9b5d9"/>
<rect x="697.4" y="76.31" width="28.6" height="3.62" fill="#dde2f1"/>
<rect x="697.4" y="79.78" width="28.6" height="3.62" fill="#e3e7f3"/>
<rect x="697.4" y="83.25" width="28.6" height="3.62" fill="#fceae5"/>
<rect x="697.4" y="86.72" width="28.6" height="3.62" fill="#fbddd6"/>
<rect x="697.4" y="90.19" width="28.6" height="3.62" fill="#f9fafd"/>
<rect x="697.4" y="93.66" width="28.6" height="3.62" fill="#bf4234"/>
<rect x="697.4" y="97.13" width="28.6" height="3.62" fill="#f3b8ac"/>
<rect x="697.4" y="100.60" width="28.6" height="3.62" fill="#de7f6f"/>
<rect x="697.4" y="104.07" width="28.6" height="3.62" fill="#d26554"/>
<rect x="697.4" y="107.54" width="28.6" height="3.62" fill="#e48e7e"/>
<rect x="697.4" y="111.01" width="28.6" height="3.62" fill="#f6c4ba"/>
<rect x="697.4" y="114.48" width="28.6" height="3.62" fill="#e48e7e"/>
<rect x="697.4" y="117.95" width="28.6" height="3.62" fill="#d8715f"/>
<rect x="697.4" y="121.42" width="28.6" height="10.56" fill="#a31b21"/>
<rect x="697.4" y="131.83" width="28.6" height="3.62" fill="#aa2526"/>
<rect x="725.8" y="65.90" width="28.6" height="7.09" fill="#a9b5d9"/>
<rect x="725.8" y="72.84" width="28.6" height="7.09" fill="#d2d8ec"/>
<rect x="725.8" y="79.78" width="28.6" height="3.62" fill="#d8ddee"/>
<rect x="725.8" y="83.25" width="28.6" height="3.62" fill="#e8ecf6"/>
<rect x="725.8" y="86.72" width="28.6" height="3.62" fill="#f4f5fa"/>
<rect x="725.8" y="90.19" width="28.6" height="3.62" fill="#fef2f0"/>
<rect x="725.8" y="93.66" width="28.6" height="3.62" fill="#dde2f1"/>
<rect x="725.8" y="97.13" width="28.6" height="3.62" fill="#fceae5"/>
<rect x="725.8" y="100.60" width="28.6" height="3.62" fill="#fef6f5"/>
<rect x="725.8" y="104.07" width="28.6" height="3.62" fill="#e8ecf6"/>
<rect x="725.8" y="107.54" width="28.6" height="3.62" fill="#eef0f8"/>
<rect x="725.8" y="111.01" width="28.6" height="3.62" fill="#aa2526"/>
<rect x="725.8" y="114.48" width="28.6" height="3.62" fill="#b12e2a"/>
<rect x="725.8" y="117.95" width="28.6" height="3.62" fill="#c54e3f"/>
<rect x="725.8" y="121.42" width="28.6" height="3.62" fill="#ffffff"/>
<rect x="725.8" y="124.89" width="28.6" height="3.62" fill="#fbddd6"/>
<rect x="725.8" y="128.36" width="28.6" height="3.62" fill="#f8d0c8"/>
<rect x="725.8" y="131.83" width="28.6" height="3.62" fill="#fefbfa"/>
<rect x="526.70" y="65.70" width="227.80" height="69.80" fill="none" stroke="#444" stroke-width="1.1"/>
<rect x="527.0" y="137.60" width="28.6" height="3.63" fill="#fce6e0"/>
<rect x="527.0" y="141.08" width="28.6" height="7.11" fill="#fdeeea"/>
<rect x="527.0" y="148.05" width="28.6" height="3.63" fill="#fef2f0"/>
<rect x="527.0" y="151.53" width="28.6" height="3.63" fill="#fce6e0"/>
<rect x="527.0" y="155.01" width="28.6" height="3.63" fill="#eef0f8"/>
<rect x="527.0" y="158.49" width="28.6" height="3.63" fill="#f4f5fa"/>
<rect x="527.0" y="161.97" width="28.6" height="3.63" fill="#fce6e0"/>
<rect x="527.0" y="165.45" width="28.6" height="3.63" fill="#fef2f0"/>
<rect x="527.0" y="168.94" width="28.6" height="7.11" fill="#f6c4ba"/>
<rect x="555.4" y="137.60" width="28.6" height="14.08" fill="#cc5a4a"/>
<rect x="555.4" y="151.53" width="28.6" height="3.63" fill="#d26554"/>
<rect x="555.4" y="155.01" width="28.6" height="3.63" fill="#cc5a4a"/>
<rect x="555.4" y="158.49" width="28.6" height="3.63" fill="#d8715f"/>
<rect x="555.4" y="161.97" width="28.6" height="3.63" fill="#e48e7e"/>
<rect x="555.4" y="165.45" width="28.6" height="3.63" fill="#f0ab9e"/>
<rect x="555.4" y="168.94" width="28.6" height="3.63" fill="#e48e7e"/>
<rect x="555.4" y="172.42" width="28.6" height="3.63" fill="#d8715f"/>
<rect x="583.8" y="137.60" width="28.6" height="3.63" fill="#ffffff"/>
<rect x="583.8" y="141.08" width="28.6" height="10.60" fill="#fbddd6"/>
<rect x="583.8" y="151.53" width="28.6" height="3.63" fill="#fce1db"/>
<rect x="583.8" y="155.01" width="28.6" height="3.63" fill="#eef0f8"/>
<rect x="583.8" y="158.49" width="28.6" height="3.63" fill="#fef6f5"/>
<rect x="583.8" y="161.97" width="28.6" height="3.63" fill="#fceae5"/>
<rect x="583.8" y="165.45" width="28.6" height="3.63" fill="#ffffff"/>
<rect x="583.8" y="168.94" width="28.6" height="7.11" fill="#ea9c8e"/>
<rect x="612.2" y="137.60" width="28.6" height="17.56" fill="#cf5f4f"/>
<rect x="612.2" y="155.01" width="28.6" height="10.60" fill="#b8382f"/>
<rect x="612.2" y="165.45" width="28.6" height="3.63" fill="#aa2526"/>
<rect x="612.2" y="168.94" width="28.6" height="3.63" fill="#d8715f"/>
<rect x="612.2" y="172.42" width="28.6" height="3.63" fill="#a9b5d9"/>
<rect x="640.6" y="137.60" width="28.6" height="3.63" fill="#aeb9db"/>
<rect x="640.6" y="141.08" width="28.6" height="7.11" fill="#a9b5d9"/>
<rect x="640.6" y="148.05" width="28.6" height="3.63" fill="#a4b1d7"/>
<rect x="640.6" y="151.53" width="28.6" height="3.63" fill="#a9b5d9"/>
<rect x="640.6" y="155.01" width="28.6" height="3.63" fill="#aeb9db"/>
<rect x="640.6" y="158.49" width="28.6" height="7.11" fill="#a9b5d9"/>
<rect x="640.6" y="165.45" width="28.6" height="3.63" fill="#b3bede"/>
<rect x="640.6" y="168.94" width="28.6" height="3.63" fill="#a9b5d9"/>
<rect x="640.6" y="172.42" width="28.6" height="3.63" fill="#bec6e2"/>
<rect x="669.0" y="137.60" width="28.6" height="17.56" fill="#a9b5d9"/>
<rect x="669.0" y="155.01" width="28.6" height="3.63" fill="#aeb9db"/>
<rect x="669.0" y="158.49" width="28.6" height="7.11" fill="#a9b5d9"/>
<rect x="669.0" y="165.45" width="28.6" height="3.63" fill="#aeb9db"/>
<rect x="669.0" y="168.94" width="28.6" height="3.63" fill="#a9b5d9"/>
<rect x="669.0" y="172.42" width="28.6" height="3.63" fill="#f0ab9e"/>
<rect x="697.4" y="137.60" width="28.6" height="3.63" fill="#8b9ece"/>
<rect x="697.4" y="141.08" width="28.6" height="14.08" fill="#a4b1d7"/>
<rect x="697.4" y="155.01" width="28.6" height="3.63" fill="#a9b5d9"/>
<rect x="697.4" y="158.49" width="28.6" height="7.11" fill="#a4b1d7"/>
<rect x="697.4" y="165.45" width="28.6" height="3.63" fill="#a9b5d9"/>
<rect x="697.4" y="168.94" width="28.6" height="3.63" fill="#a4b1d7"/>
<rect x="697.4" y="172.42" width="28.6" height="3.63" fill="#d2d8ec"/>
<rect x="725.8" y="137.60" width="28.6" height="3.63" fill="#eef0f8"/>
<rect x="725.8" y="141.08" width="28.6" height="14.08" fill="#a9b5d9"/>
<rect x="725.8" y="155.01" width="28.6" height="3.63" fill="#aeb9db"/>
<rect x="725.8" y="158.49" width="28.6" height="7.11" fill="#a9b5d9"/>
<rect x="725.8" y="165.45" width="28.6" height="3.63" fill="#aeb9db"/>
<rect x="725.8" y="168.94" width="28.6" height="3.63" fill="#a9b5d9"/>
<rect x="725.8" y="172.42" width="28.6" height="3.63" fill="#5374b7"/>
<rect x="526.70" y="137.40" width="227.80" height="38.70" fill="none" stroke="#444" stroke-width="1.1"/>
<rect x="527.0" y="178.10" width="28.6" height="3.58" fill="#d26554"/>
<rect x="527.0" y="181.53" width="28.6" height="3.58" fill="#fdeeea"/>
<rect x="527.0" y="184.97" width="28.6" height="3.58" fill="#ffffff"/>
<rect x="527.0" y="188.40" width="28.6" height="3.58" fill="#fef6f5"/>
<rect x="527.0" y="191.83" width="28.6" height="3.58" fill="#fdeeea"/>
<rect x="527.0" y="195.27" width="28.6" height="3.58" fill="#f8d0c8"/>
<rect x="555.4" y="178.10" width="28.6" height="3.58" fill="#fce1db"/>
<rect x="555.4" y="181.53" width="28.6" height="3.58" fill="#f8d0c8"/>
<rect x="555.4" y="184.97" width="28.6" height="3.58" fill="#fad7cf"/>
<rect x="555.4" y="188.40" width="28.6" height="3.58" fill="#fce6e0"/>
<rect x="555.4" y="191.83" width="28.6" height="3.58" fill="#e48e7e"/>
<rect x="555.4" y="195.27" width="28.6" height="3.58" fill="#f3b8ac"/>
<rect x="583.8" y="178.10" width="28.6" height="3.58" fill="#eef0f8"/>
<rect x="583.8" y="181.53" width="28.6" height="3.58" fill="#fdeeea"/>
<rect x="583.8" y="184.97" width="28.6" height="3.58" fill="#e8ecf6"/>
<rect x="583.8" y="188.40" width="28.6" height="3.58" fill="#f4f5fa"/>
<rect x="583.8" y="191.83" width="28.6" height="7.02" fill="#e8ecf6"/>
<rect x="612.2" y="178.10" width="28.6" height="17.32" fill="#a31b21"/>
<rect x="612.2" y="195.27" width="28.6" height="3.58" fill="#b8382f"/>
<rect x="640.6" y="178.10" width="28.6" height="3.58" fill="#d8ddee"/>
<rect x="640.6" y="181.53" width="28.6" height="3.58" fill="#bec6e2"/>
<rect x="640.6" y="184.97" width="28.6" height="3.58" fill="#c3cbe5"/>
<rect x="640.6" y="188.40" width="28.6" height="7.02" fill="#bec6e2"/>
<rect x="640.6" y="195.27" width="28.6" height="3.58" fill="#b8c2e0"/>
<rect x="669.0" y="178.10" width="28.6" height="7.02" fill="#c3cbe5"/>
<rect x="669.0" y="184.97" width="28.6" height="3.58" fill="#c8cfe7"/>
<rect x="669.0" y="188.40" width="28.6" height="7.02" fill="#c3cbe5"/>
<rect x="669.0" y="195.27" width="28.6" height="3.58" fill="#bec6e2"/>
<rect x="697.4" y="178.10" width="28.6" height="3.58" fill="#9fadd5"/>
<rect x="697.4" y="181.53" width="28.6" height="7.02" fill="#b3bede"/>
<rect x="697.4" y="188.40" width="28.6" height="3.58" fill="#b8c2e0"/>
<rect x="697.4" y="191.83" width="28.6" height="3.58" fill="#b3bede"/>
<rect x="697.4" y="195.27" width="28.6" height="3.58" fill="#aeb9db"/>
<rect x="725.8" y="178.10" width="28.6" height="3.58" fill="#9fadd5"/>
<rect x="725.8" y="181.53" width="28.6" height="7.02" fill="#b8c2e0"/>
<rect x="725.8" y="188.40" width="28.6" height="3.58" fill="#bec6e2"/>
<rect x="725.8" y="191.83" width="28.6" height="3.58" fill="#b8c2e0"/>
<rect x="725.8" y="195.27" width="28.6" height="3.58" fill="#b3bede"/>
<rect x="526.70" y="177.90" width="227.80" height="21.00" fill="none" stroke="#444" stroke-width="1.1"/>
<rect x="527.0" y="201.20" width="28.6" height="3.62" fill="#d26554"/>
<rect x="527.0" y="204.67" width="28.6" height="3.62" fill="#d8715f"/>
<rect x="527.0" y="208.13" width="28.6" height="7.08" fill="#ea9c8e"/>
<rect x="527.0" y="215.07" width="28.6" height="3.62" fill="#de7f6f"/>
<rect x="527.0" y="218.53" width="28.6" height="3.62" fill="#d8715f"/>
<rect x="527.0" y="222.00" width="28.6" height="3.62" fill="#fce1db"/>
<rect x="527.0" y="225.47" width="28.6" height="3.62" fill="#fce6e0"/>
<rect x="527.0" y="228.93" width="28.6" height="3.62" fill="#fbddd6"/>
<rect x="527.0" y="232.40" width="28.6" height="7.08" fill="#f8d0c8"/>
<rect x="527.0" y="239.33" width="28.6" height="3.62" fill="#fdeeea"/>
<rect x="527.0" y="242.80" width="28.6" height="3.62" fill="#f8d0c8"/>
<rect x="527.0" y="246.27" width="28.6" height="3.62" fill="#c8cfe7"/>
<rect x="527.0" y="249.73" width="28.6" height="3.62" fill="#d8ddee"/>
<rect x="555.4" y="201.20" width="28.6" height="3.62" fill="#f4f5fa"/>
<rect x="555.4" y="204.67" width="28.6" height="3.62" fill="#ffffff"/>
<rect x="555.4" y="208.13" width="28.6" height="7.08" fill="#e8ecf6"/>
<rect x="555.4" y="215.07" width="28.6" height="3.62" fill="#f9fafd"/>
<rect x="555.4" y="218.53" width="28.6" height="3.62" fill="#c8cfe7"/>
<rect x="555.4" y="222.00" width="28.6" height="3.62" fill="#c3cbe5"/>
<rect x="555.4" y="225.47" width="28.6" height="3.62" fill="#c8cfe7"/>
<rect x="555.4" y="228.93" width="28.6" height="3.62" fill="#c3cbe5"/>
<rect x="555.4" y="232.40" width="28.6" height="3.62" fill="#b3bede"/>
<rect x="555.4" y="235.87" width="28.6" height="3.62" fill="#bec6e2"/>
<rect x="555.4" y="239.33" width="28.6" height="3.62" fill="#c8cfe7"/>
<rect x="555.4" y="242.80" width="28.6" height="3.62" fill="#e8ecf6"/>
<rect x="555.4" y="246.27" width="28.6" height="3.62" fill="#9fadd5"/>
<rect x="555.4" y="249.73" width="28.6" height="3.62" fill="#b3bede"/>
<rect x="583.8" y="201.20" width="28.6" height="3.62" fill="#c54e3f"/>
<rect x="583.8" y="204.67" width="28.6" height="3.62" fill="#bf4234"/>
<rect x="583.8" y="208.13" width="28.6" height="10.55" fill="#a31b21"/>
<rect x="583.8" y="218.53" width="28.6" height="3.62" fill="#b12e2a"/>
<rect x="583.8" y="222.00" width="28.6" height="14.02" fill="#a31b21"/>
<rect x="583.8" y="235.87" width="28.6" height="3.62" fill="#d8715f"/>
<rect x="583.8" y="239.33" width="28.6" height="3.62" fill="#e48e7e"/>
<rect x="583.8" y="242.80" width="28.6" height="3.62" fill="#c54e3f"/>
<rect x="583.8" y="246.27" width="28.6" height="3.62" fill="#fdeeea"/>
<rect x="583.8" y="249.73" width="28.6" height="3.62" fill="#de7f6f"/>
<rect x="612.2" y="201.20" width="28.6" height="3.62" fill="#e8ecf6"/>
<rect x="612.2" y="204.67" width="28.6" height="3.62" fill="#fdeeea"/>
<rect x="612.2" y="208.13" width="28.6" height="7.08" fill="#e3e7f3"/>
<rect x="612.2" y="215.07" width="28.6" height="3.62" fill="#eef0f8"/>
<rect x="612.2" y="218.53" width="28.6" height="3.62" fill="#c8cfe7"/>
<rect x="612.2" y="222.00" width="28.6" height="7.08" fill="#c3cbe5"/>
<rect x="612.2" y="228.93" width="28.6" height="3.62" fill="#bec6e2"/>
<rect x="612.2" y="232.40" width="28.6" height="7.08" fill="#b3bede"/>
<rect x="612.2" y="239.33" width="28.6" height="3.62" fill="#bec6e2"/>
<rect x="612.2" y="242.80" width="28.6" height="3.62" fill="#d8ddee"/>
<rect x="612.2" y="246.27" width="28.6" height="3.62" fill="#9fadd5"/>
<rect x="612.2" y="249.73" width="28.6" height="3.62" fill="#8b9ece"/>
<rect x="640.6" y="201.20" width="28.6" height="3.62" fill="#eef0f8"/>
<rect x="640.6" y="204.67" width="28.6" height="3.62" fill="#bec6e2"/>
<rect x="640.6" y="208.13" width="28.6" height="3.62" fill="#eef0f8"/>
<rect x="640.6" y="211.60" width="28.6" height="3.62" fill="#d2d8ec"/>
<rect x="640.6" y="215.07" width="28.6" height="3.62" fill="#d8ddee"/>
<rect x="640.6" y="218.53" width="28.6" height="3.62" fill="#fce1db"/>
<rect x="640.6" y="222.00" width="28.6" height="3.62" fill="#f3b8ac"/>
<rect x="640.6" y="225.47" width="28.6" height="3.62" fill="#f4beb3"/>
<rect x="640.6" y="228.93" width="28.6" height="3.62" fill="#f6c4ba"/>
<rect x="640.6" y="232.40" width="28.6" height="3.62" fill="#f8d0c8"/>
<rect x="640.6" y="235.87" width="28.6" height="3.62" fill="#b8382f"/>
<rect x="640.6" y="239.33" width="28.6" height="3.62" fill="#a62023"/>
<rect x="640.6" y="242.80" width="28.6" height="3.62" fill="#de7f6f"/>
<rect x="640.6" y="246.27" width="28.6" height="3.62" fill="#cc5a4a"/>
<rect x="640.6" y="249.73" width="28.6" height="3.62" fill="#f4f5fa"/>
<rect x="669.0" y="201.20" width="28.6" height="7.08" fill="#c3cbe5"/>
<rect x="669.0" y="208.13" width="28.6" height="3.62" fill="#c8cfe7"/>
<rect x="669.0" y="211.60" width="28.6" height="7.08" fill="#c3cbe5"/>
<rect x="669.0" y="218.53" width="28.6" height="3.62" fill="#c8cfe7"/>
<rect x="669.0" y="222.00" width="28.6" height="10.55" fill="#c3cbe5"/>
<rect x="669.0" y="232.40" width="28.6" height="3.62" fill="#ffffff"/>
<rect x="669.0" y="235.87" width="28.6" height="7.08" fill="#c3cbe5"/>
<rect x="669.0" y="242.80" width="28.6" height="3.62" fill="#a9b5d9"/>
<rect x="669.0" y="246.27" width="28.6" height="3.62" fill="#cc5a4a"/>
<rect x="669.0" y="249.73" width="28.6" height="3.62" fill="#b8382f"/>
<rect x="697.4" y="201.20" width="28.6" height="10.55" fill="#b3bede"/>
<rect x="697.4" y="211.60" width="28.6" height="3.62" fill="#aeb9db"/>
<rect x="697.4" y="215.07" width="28.6" height="3.62" fill="#b3bede"/>
<rect x="697.4" y="218.53" width="28.6" height="14.02" fill="#bec6e2"/>
<rect x="697.4" y="232.40" width="28.6" height="10.55" fill="#b3bede"/>
<rect x="697.4" y="242.80" width="28.6" height="3.62" fill="#95a6d2"/>
<rect x="697.4" y="246.27" width="28.6" height="3.62" fill="#f4f5fa"/>
<rect x="697.4" y="249.73" width="28.6" height="3.62" fill="#c8cfe7"/>
<rect x="725.8" y="201.20" width="28.6" height="3.62" fill="#b3bede"/>
<rect x="725.8" y="204.67" width="28.6" height="3.62" fill="#9aaad4"/>
<rect x="725.8" y="208.13" width="28.6" height="3.62" fill="#a9b5d9"/>
<rect x="725.8" y="211.60" width="28.6" height="3.62" fill="#c3cbe5"/>
<rect x="725.8" y="215.07" width="28.6" height="31.35" fill="#b3bede"/>
<rect x="725.8" y="246.27" width="28.6" height="3.62" fill="#aeb9db"/>
<rect x="725.8" y="249.73" width="28.6" height="3.62" fill="#ffffff"/>
<rect x="526.70" y="201.00" width="227.80" height="52.40" fill="none" stroke="#444" stroke-width="1.1"/>
<rect x="527.0" y="255.40" width="28.6" height="3.64" fill="#c8cfe7"/>
<rect x="527.0" y="258.89" width="28.6" height="3.64" fill="#c3cbe5"/>
<rect x="527.0" y="262.38" width="28.6" height="7.13" fill="#bec6e2"/>
<rect x="527.0" y="269.36" width="28.6" height="3.64" fill="#c3cbe5"/>
<rect x="527.0" y="272.84" width="28.6" height="3.64" fill="#a9b5d9"/>
<rect x="527.0" y="276.33" width="28.6" height="7.13" fill="#c8cfe7"/>
<rect x="527.0" y="283.31" width="28.6" height="3.64" fill="#cdd4ea"/>
<rect x="527.0" y="286.80" width="28.6" height="3.64" fill="#c8cfe7"/>
<rect x="527.0" y="290.29" width="28.6" height="3.64" fill="#c3cbe5"/>
<rect x="527.0" y="293.78" width="28.6" height="3.64" fill="#c8cfe7"/>
<rect x="527.0" y="297.27" width="28.6" height="3.64" fill="#cdd4ea"/>
<rect x="527.0" y="300.76" width="28.6" height="7.13" fill="#f4f5fa"/>
<rect x="527.0" y="307.73" width="28.6" height="7.13" fill="#dde2f1"/>
<rect x="527.0" y="314.71" width="28.6" height="3.64" fill="#c8cfe7"/>
<rect x="555.4" y="255.40" width="28.6" height="3.64" fill="#b3bede"/>
<rect x="555.4" y="258.89" width="28.6" height="7.13" fill="#aeb9db"/>
<rect x="555.4" y="265.87" width="28.6" height="7.13" fill="#b3bede"/>
<rect x="555.4" y="272.84" width="28.6" height="3.64" fill="#a4b1d7"/>
<rect x="555.4" y="276.33" width="28.6" height="7.13" fill="#b3bede"/>
<rect x="555.4" y="283.31" width="28.6" height="3.64" fill="#aeb9db"/>
<rect x="555.4" y="286.80" width="28.6" height="3.64" fill="#b3bede"/>
<rect x="555.4" y="290.29" width="28.6" height="3.64" fill="#aeb9db"/>
<rect x="555.4" y="293.78" width="28.6" height="3.64" fill="#b3bede"/>
<rect x="555.4" y="297.27" width="28.6" height="3.64" fill="#c3cbe5"/>
<rect x="555.4" y="300.76" width="28.6" height="17.59" fill="#c8cfe7"/>
<rect x="583.8" y="255.40" width="28.6" height="3.64" fill="#eef0f8"/>
<rect x="583.8" y="258.89" width="28.6" height="10.62" fill="#e8ecf6"/>
<rect x="583.8" y="269.36" width="28.6" height="3.64" fill="#e3e7f3"/>
<rect x="583.8" y="272.84" width="28.6" height="7.13" fill="#dde2f1"/>
<rect x="583.8" y="279.82" width="28.6" height="3.64" fill="#eef0f8"/>
<rect x="583.8" y="283.31" width="28.6" height="3.64" fill="#ffffff"/>
<rect x="583.8" y="286.80" width="28.6" height="3.64" fill="#e8ecf6"/>
<rect x="583.8" y="290.29" width="28.6" height="7.13" fill="#d8ddee"/>
<rect x="583.8" y="297.27" width="28.6" height="3.64" fill="#dde2f1"/>
<rect x="583.8" y="300.76" width="28.6" height="3.64" fill="#eef0f8"/>
<rect x="583.8" y="304.24" width="28.6" height="3.64" fill="#ffffff"/>
<rect x="583.8" y="307.73" width="28.6" height="3.64" fill="#e8ecf6"/>
<rect x="583.8" y="311.22" width="28.6" height="3.64" fill="#ffffff"/>
<rect x="583.8" y="314.71" width="28.6" height="3.64" fill="#e3e7f3"/>
<rect x="612.2" y="255.40" width="28.6" height="7.13" fill="#b3bede"/>
<rect x="612.2" y="262.38" width="28.6" height="3.64" fill="#aeb9db"/>
<rect x="612.2" y="265.87" width="28.6" height="3.64" fill="#b3bede"/>
<rect x="612.2" y="269.36" width="28.6" height="3.64" fill="#b8c2e0"/>
<rect x="612.2" y="272.84" width="28.6" height="3.64" fill="#9fadd5"/>
<rect x="612.2" y="276.33" width="28.6" height="10.62" fill="#b8c2e0"/>
<rect x="612.2" y="286.80" width="28.6" height="3.64" fill="#bec6e2"/>
<rect x="612.2" y="290.29" width="28.6" height="3.64" fill="#b8c2e0"/>
<rect x="612.2" y="293.78" width="28.6" height="3.64" fill="#bec6e2"/>
<rect x="612.2" y="297.27" width="28.6" height="17.59" fill="#c8cfe7"/>
<rect x="612.2" y="314.71" width="28.6" height="3.64" fill="#c3cbe5"/>
<rect x="640.6" y="255.40" width="28.6" height="7.13" fill="#b8382f"/>
<rect x="640.6" y="262.38" width="28.6" height="3.64" fill="#b4332d"/>
<rect x="640.6" y="265.87" width="28.6" height="7.13" fill="#a62023"/>
<rect x="640.6" y="272.84" width="28.6" height="3.64" fill="#b4332d"/>
<rect x="640.6" y="276.33" width="28.6" height="38.53" fill="#a31b21"/>
<rect x="640.6" y="314.71" width="28.6" height="3.64" fill="#f0ab9e"/>
<rect x="669.0" y="255.40" width="28.6" height="3.64" fill="#d8715f"/>
<rect x="669.0" y="258.89" width="28.6" height="7.13" fill="#d26554"/>
<rect x="669.0" y="265.87" width="28.6" height="3.64" fill="#de7f6f"/>
<rect x="669.0" y="269.36" width="28.6" height="7.13" fill="#e48e7e"/>
<rect x="669.0" y="276.33" width="28.6" height="3.64" fill="#eda496"/>
<rect x="669.0" y="279.82" width="28.6" height="3.64" fill="#f0ab9e"/>
<rect x="669.0" y="283.31" width="28.6" height="3.64" fill="#f3b8ac"/>
<rect x="669.0" y="286.80" width="28.6" height="3.64" fill="#f7cac1"/>
<rect x="669.0" y="290.29" width="28.6" height="3.64" fill="#f6c4ba"/>
<rect x="669.0" y="293.78" width="28.6" height="3.64" fill="#ea9c8e"/>
<rect x="669.0" y="297.27" width="28.6" height="3.64" fill="#f4f5fa"/>
<rect x="669.0" y="300.76" width="28.6" height="7.13" fill="#dde2f1"/>
<rect x="669.0" y="307.73" width="28.6" height="3.64" fill="#ffffff"/>
<rect x="669.0" y="311.22" width="28.6" height="3.64" fill="#f9fafd"/>
<rect x="669.0" y="314.71" width="28.6" height="3.64" fill="#a31b21"/>
<rect x="697.4" y="255.40" width="28.6" height="17.59" fill="#c8cfe7"/>
<rect x="697.4" y="272.84" width="28.6" height="3.64" fill="#b8c2e0"/>
<rect x="697.4" y="276.33" width="28.6" height="3.64" fill="#c8cfe7"/>
<rect x="697.4" y="279.82" width="28.6" height="3.64" fill="#cdd4ea"/>
<rect x="697.4" y="283.31" width="28.6" height="10.62" fill="#c8cfe7"/>
<rect x="697.4" y="293.78" width="28.6" height="3.64" fill="#cdd4ea"/>
<rect x="697.4" y="297.27" width="28.6" height="14.11" fill="#d2d8ec"/>
<rect x="697.4" y="311.22" width="28.6" height="3.64" fill="#d8ddee"/>
<rect x="697.4" y="314.71" width="28.6" height="3.64" fill="#dde2f1"/>
<rect x="725.8" y="255.40" width="28.6" height="3.64" fill="#c8cfe7"/>
<rect x="725.8" y="258.89" width="28.6" height="3.64" fill="#d2d8ec"/>
<rect x="725.8" y="262.38" width="28.6" height="7.13" fill="#dde2f1"/>
<rect x="725.8" y="269.36" width="28.6" height="3.64" fill="#d2d8ec"/>
<rect x="725.8" y="272.84" width="28.6" height="3.64" fill="#fbddd6"/>
<rect x="725.8" y="276.33" width="28.6" height="7.13" fill="#d2d8ec"/>
<rect x="725.8" y="283.31" width="28.6" height="3.64" fill="#dde2f1"/>
<rect x="725.8" y="286.80" width="28.6" height="3.64" fill="#d8ddee"/>
<rect x="725.8" y="290.29" width="28.6" height="3.64" fill="#e8ecf6"/>
<rect x="725.8" y="293.78" width="28.6" height="3.64" fill="#ffffff"/>
<rect x="725.8" y="297.27" width="28.6" height="3.64" fill="#fefbfa"/>
<rect x="725.8" y="300.76" width="28.6" height="10.62" fill="#d2d8ec"/>
<rect x="725.8" y="311.22" width="28.6" height="3.64" fill="#cdd4ea"/>
<rect x="725.8" y="314.71" width="28.6" height="3.64" fill="#c8cfe7"/>
<rect x="526.70" y="255.20" width="227.80" height="63.20" fill="none" stroke="#444" stroke-width="1.1"/>
<rect x="527.0" y="320.50" width="28.6" height="3.60" fill="#c8cfe7"/>
<rect x="527.0" y="323.95" width="28.6" height="7.06" fill="#c3cbe5"/>
<rect x="527.0" y="330.86" width="28.6" height="13.97" fill="#c8cfe7"/>
<rect x="527.0" y="344.68" width="28.6" height="10.51" fill="#bec6e2"/>
<rect x="527.0" y="355.04" width="28.6" height="3.60" fill="#cdd4ea"/>
<rect x="527.0" y="358.49" width="28.6" height="7.06" fill="#c8cfe7"/>
<rect x="555.4" y="320.50" width="28.6" height="3.60" fill="#c3cbe5"/>
<rect x="555.4" y="323.95" width="28.6" height="7.06" fill="#b8c2e0"/>
<rect x="555.4" y="330.86" width="28.6" height="13.97" fill="#c3cbe5"/>
<rect x="555.4" y="344.68" width="28.6" height="3.60" fill="#9fadd5"/>
<rect x="555.4" y="348.13" width="28.6" height="3.60" fill="#a4b1d7"/>
<rect x="555.4" y="351.58" width="28.6" height="3.60" fill="#a9b5d9"/>
<rect x="555.4" y="355.04" width="28.6" height="3.60" fill="#8b9ece"/>
<rect x="555.4" y="358.49" width="28.6" height="3.60" fill="#869acc"/>
<rect x="555.4" y="361.95" width="28.6" height="3.60" fill="#8b9ece"/>
<rect x="583.8" y="320.50" width="28.6" height="3.60" fill="#d8ddee"/>
<rect x="583.8" y="323.95" width="28.6" height="20.87" fill="#c8cfe7"/>
<rect x="583.8" y="344.68" width="28.6" height="3.60" fill="#eef0f8"/>
<rect x="583.8" y="348.13" width="28.6" height="3.60" fill="#e8ecf6"/>
<rect x="583.8" y="351.58" width="28.6" height="7.06" fill="#c3cbe5"/>
<rect x="583.8" y="358.49" width="28.6" height="3.60" fill="#b3bede"/>
<rect x="583.8" y="361.95" width="28.6" height="3.60" fill="#c8cfe7"/>
<rect x="612.2" y="320.50" width="28.6" height="7.06" fill="#bec6e2"/>
<rect x="612.2" y="327.41" width="28.6" height="7.06" fill="#b3bede"/>
<rect x="612.2" y="334.32" width="28.6" height="10.51" fill="#bec6e2"/>
<rect x="612.2" y="344.68" width="28.6" height="3.60" fill="#9fadd5"/>
<rect x="612.2" y="348.13" width="28.6" height="7.06" fill="#a9b5d9"/>
<rect x="612.2" y="355.04" width="28.6" height="10.51" fill="#869acc"/>
<rect x="640.6" y="320.50" width="28.6" height="3.60" fill="#fceae5"/>
<rect x="640.6" y="323.95" width="28.6" height="3.60" fill="#fce6e0"/>
<rect x="640.6" y="327.41" width="28.6" height="3.60" fill="#f8d0c8"/>
<rect x="640.6" y="330.86" width="28.6" height="3.60" fill="#d8ddee"/>
<rect x="640.6" y="334.32" width="28.6" height="3.60" fill="#d2d8ec"/>
<rect x="640.6" y="337.77" width="28.6" height="3.60" fill="#cdd4ea"/>
<rect x="640.6" y="341.22" width="28.6" height="3.60" fill="#d8ddee"/>
<rect x="640.6" y="344.68" width="28.6" height="3.60" fill="#cc5a4a"/>
<rect x="640.6" y="348.13" width="28.6" height="3.60" fill="#c54e3f"/>
<rect x="640.6" y="351.58" width="28.6" height="3.60" fill="#d8715f"/>
<rect x="640.6" y="355.04" width="28.6" height="3.60" fill="#cc5a4a"/>
<rect x="640.6" y="358.49" width="28.6" height="3.60" fill="#f3b8ac"/>
<rect x="640.6" y="361.95" width="28.6" height="3.60" fill="#f6c4ba"/>
<rect x="669.0" y="320.50" width="28.6" height="24.33" fill="#a31b21"/>
<rect x="669.0" y="344.68" width="28.6" height="7.06" fill="#b4332d"/>
<rect x="669.0" y="351.58" width="28.6" height="3.60" fill="#aa2526"/>
<rect x="669.0" y="355.04" width="28.6" height="3.60" fill="#cc5a4a"/>
<rect x="669.0" y="358.49" width="28.6" height="3.60" fill="#b12e2a"/>
<rect x="669.0" y="361.95" width="28.6" height="3.60" fill="#c54e3f"/>
<rect x="697.4" y="320.50" width="28.6" height="3.60" fill="#fceae5"/>
<rect x="697.4" y="323.95" width="28.6" height="7.06" fill="#fce6e0"/>
<rect x="697.4" y="330.86" width="28.6" height="3.60" fill="#f3b8ac"/>
<rect x="697.4" y="334.32" width="28.6" height="3.60" fill="#f8d0c8"/>
<rect x="697.4" y="337.77" width="28.6" height="3.60" fill="#f6c4ba"/>
<rect x="697.4" y="341.22" width="28.6" height="3.60" fill="#de7f6f"/>
<rect x="697.4" y="344.68" width="28.6" height="3.60" fill="#f8d0c8"/>
<rect x="697.4" y="348.13" width="28.6" height="3.60" fill="#d2d8ec"/>
<rect x="697.4" y="351.58" width="28.6" height="3.60" fill="#dde2f1"/>
<rect x="697.4" y="355.04" width="28.6" height="3.60" fill="#e8ecf6"/>
<rect x="697.4" y="358.49" width="28.6" height="3.60" fill="#fad7cf"/>
<rect x="697.4" y="361.95" width="28.6" height="3.60" fill="#f0ab9e"/>
<rect x="725.8" y="320.50" width="28.6" height="3.60" fill="#d2d8ec"/>
<rect x="725.8" y="323.95" width="28.6" height="3.60" fill="#bec6e2"/>
<rect x="725.8" y="327.41" width="28.6" height="3.60" fill="#d2d8ec"/>
<rect x="725.8" y="330.86" width="28.6" height="7.06" fill="#cdd4ea"/>
<rect x="725.8" y="337.77" width="28.6" height="3.60" fill="#c8cfe7"/>
<rect x="725.8" y="341.22" width="28.6" height="3.60" fill="#c3cbe5"/>
<rect x="725.8" y="344.68" width="28.6" height="3.60" fill="#b3bede"/>
<rect x="725.8" y="348.13" width="28.6" height="3.60" fill="#dde2f1"/>
<rect x="725.8" y="351.58" width="28.6" height="3.60" fill="#ffffff"/>
<rect x="725.8" y="355.04" width="28.6" height="3.60" fill="#f6c4ba"/>
<rect x="725.8" y="358.49" width="28.6" height="3.60" fill="#fce6e0"/>
<rect x="725.8" y="361.95" width="28.6" height="3.60" fill="#f4f5fa"/>
<rect x="526.70" y="320.30" width="227.80" height="45.30" fill="none" stroke="#444" stroke-width="1.1"/>
<rect x="527.0" y="367.70" width="28.6" height="3.64" fill="#dde2f1"/>
<rect x="527.0" y="371.19" width="28.6" height="3.64" fill="#ffffff"/>
<rect x="527.0" y="374.68" width="28.6" height="3.64" fill="#d2d8ec"/>
<rect x="527.0" y="378.16" width="28.6" height="3.64" fill="#c8cfe7"/>
<rect x="527.0" y="381.65" width="28.6" height="3.64" fill="#cdd4ea"/>
<rect x="527.0" y="385.14" width="28.6" height="3.64" fill="#d8ddee"/>
<rect x="527.0" y="388.63" width="28.6" height="3.64" fill="#d2d8ec"/>
<rect x="527.0" y="392.12" width="28.6" height="3.64" fill="#cdd4ea"/>
<rect x="527.0" y="395.61" width="28.6" height="7.13" fill="#e8ecf6"/>
<rect x="527.0" y="402.58" width="28.6" height="3.64" fill="#eef0f8"/>
<rect x="527.0" y="406.07" width="28.6" height="3.64" fill="#e8ecf6"/>
<rect x="527.0" y="409.56" width="28.6" height="3.64" fill="#d2d8ec"/>
<rect x="527.0" y="413.05" width="28.6" height="7.13" fill="#d8ddee"/>
<rect x="527.0" y="420.02" width="28.6" height="3.64" fill="#fefbfa"/>
<rect x="527.0" y="423.51" width="28.6" height="3.64" fill="#fbddd6"/>
<rect x="555.4" y="367.70" width="28.6" height="10.61" fill="#bec6e2"/>
<rect x="555.4" y="378.16" width="28.6" height="10.61" fill="#c8cfe7"/>
<rect x="555.4" y="388.63" width="28.6" height="3.64" fill="#c3cbe5"/>
<rect x="555.4" y="392.12" width="28.6" height="10.61" fill="#c8cfe7"/>
<rect x="555.4" y="402.58" width="28.6" height="3.64" fill="#c3cbe5"/>
<rect x="555.4" y="406.07" width="28.6" height="7.13" fill="#c8cfe7"/>
<rect x="555.4" y="413.05" width="28.6" height="3.64" fill="#cdd4ea"/>
<rect x="555.4" y="416.54" width="28.6" height="3.64" fill="#c8cfe7"/>
<rect x="555.4" y="420.02" width="28.6" height="3.64" fill="#b8c2e0"/>
<rect x="555.4" y="423.51" width="28.6" height="3.64" fill="#c3cbe5"/>
<rect x="583.8" y="367.70" width="28.6" height="7.13" fill="#c3cbe5"/>
<rect x="583.8" y="374.68" width="28.6" height="21.08" fill="#c8cfe7"/>
<rect x="583.8" y="395.61" width="28.6" height="3.64" fill="#cdd4ea"/>
<rect x="583.8" y="399.09" width="28.6" height="14.10" fill="#c8cfe7"/>
<rect x="583.8" y="413.05" width="28.6" height="3.64" fill="#cdd4ea"/>
<rect x="583.8" y="416.54" width="28.6" height="3.64" fill="#c8cfe7"/>
<rect x="583.8" y="420.02" width="28.6" height="3.64" fill="#bec6e2"/>
<rect x="583.8" y="423.51" width="28.6" height="3.64" fill="#c3cbe5"/>
<rect x="612.2" y="367.70" width="28.6" height="10.61" fill="#bec6e2"/>
<rect x="612.2" y="378.16" width="28.6" height="10.61" fill="#c8cfe7"/>
<rect x="612.2" y="388.63" width="28.6" height="3.64" fill="#c3cbe5"/>
<rect x="612.2" y="392.12" width="28.6" height="10.61" fill="#c8cfe7"/>
<rect x="612.2" y="402.58" width="28.6" height="3.64" fill="#c3cbe5"/>
<rect x="612.2" y="406.07" width="28.6" height="7.13" fill="#c8cfe7"/>
<rect x="612.2" y="413.05" width="28.6" height="3.64" fill="#cdd4ea"/>
<rect x="612.2" y="416.54" width="28.6" height="3.64" fill="#c8cfe7"/>
<rect x="612.2" y="420.02" width="28.6" height="3.64" fill="#b8c2e0"/>
<rect x="612.2" y="423.51" width="28.6" height="3.64" fill="#c3cbe5"/>
<rect x="640.6" y="367.70" width="28.6" height="7.13" fill="#c3cbe5"/>
<rect x="640.6" y="374.68" width="28.6" height="3.64" fill="#e3e7f3"/>
<rect x="640.6" y="378.16" width="28.6" height="14.10" fill="#cdd4ea"/>
<rect x="640.6" y="392.12" width="28.6" height="3.64" fill="#d2d8ec"/>
<rect x="640.6" y="395.61" width="28.6" height="10.61" fill="#cdd4ea"/>
<rect x="640.6" y="406.07" width="28.6" height="3.64" fill="#d2d8ec"/>
<rect x="640.6" y="409.56" width="28.6" height="10.61" fill="#cdd4ea"/>
<rect x="640.6" y="420.02" width="28.6" height="3.64" fill="#bec6e2"/>
<rect x="640.6" y="423.51" width="28.6" height="3.64" fill="#c8cfe7"/>
<rect x="669.0" y="367.70" width="28.6" height="7.13" fill="#bec6e2"/>
<rect x="669.0" y="374.68" width="28.6" height="3.64" fill="#f8d0c8"/>
<rect x="669.0" y="378.16" width="28.6" height="3.64" fill="#fce6e0"/>
<rect x="669.0" y="381.65" width="28.6" height="3.64" fill="#fceae5"/>
<rect x="669.0" y="385.14" width="28.6" height="3.64" fill="#eef0f8"/>
<rect x="669.0" y="388.63" width="28.6" height="3.64" fill="#ffffff"/>
<rect x="669.0" y="392.12" width="28.6" height="3.64" fill="#f9fafd"/>
<rect x="669.0" y="395.61" width="28.6" height="10.61" fill="#e3e7f3"/>
<rect x="669.0" y="406.07" width="28.6" height="3.64" fill="#eef0f8"/>
<rect x="669.0" y="409.56" width="28.6" height="10.61" fill="#d8ddee"/>
<rect x="669.0" y="420.02" width="28.6" height="7.13" fill="#cdd4ea"/>
<rect x="697.4" y="367.70" width="28.6" height="7.13" fill="#cc5a4a"/>
<rect x="697.4" y="374.68" width="28.6" height="52.47" fill="#a31b21"/>
<rect x="725.8" y="367.70" width="28.6" height="7.13" fill="#c54e3f"/>
<rect x="725.8" y="374.68" width="28.6" height="7.13" fill="#d2d8ec"/>
<rect x="725.8" y="381.65" width="28.6" height="3.64" fill="#eef0f8"/>
<rect x="725.8" y="385.14" width="28.6" height="3.64" fill="#ffffff"/>
<rect x="725.8" y="388.63" width="28.6" height="3.64" fill="#e8ecf6"/>
<rect x="725.8" y="392.12" width="28.6" height="7.13" fill="#d2d8ec"/>
<rect x="725.8" y="399.09" width="28.6" height="3.64" fill="#cdd4ea"/>
<rect x="725.8" y="402.58" width="28.6" height="7.13" fill="#c8cfe7"/>
<rect x="725.8" y="409.56" width="28.6" height="7.13" fill="#d2d8ec"/>
<rect x="725.8" y="416.54" width="28.6" height="3.64" fill="#d8ddee"/>
<rect x="725.8" y="420.02" width="28.6" height="3.64" fill="#fce6e0"/>
<rect x="725.8" y="423.51" width="28.6" height="3.64" fill="#dde2f1"/>
<rect x="526.70" y="367.50" width="227.80" height="59.70" fill="none" stroke="#444" stroke-width="1.1"/>
<rect x="527.0" y="429.60" width="28.6" height="3.63" fill="#d2d8ec"/>
<rect x="527.0" y="433.09" width="28.6" height="3.63" fill="#dde2f1"/>
<rect x="527.0" y="436.57" width="28.6" height="3.63" fill="#e8ecf6"/>
<rect x="527.0" y="440.06" width="28.6" height="3.63" fill="#d2d8ec"/>
<rect x="527.0" y="443.54" width="28.6" height="7.12" fill="#e8ecf6"/>
<rect x="527.0" y="450.51" width="28.6" height="41.97" fill="#d2d8ec"/>
<rect x="527.0" y="492.33" width="28.6" height="7.12" fill="#c8cfe7"/>
<rect x="555.4" y="429.60" width="28.6" height="10.60" fill="#bec6e2"/>
<rect x="555.4" y="440.06" width="28.6" height="3.63" fill="#c3cbe5"/>
<rect x="555.4" y="443.54" width="28.6" height="48.94" fill="#d2d8ec"/>
<rect x="555.4" y="492.33" width="28.6" height="7.12" fill="#c8cfe7"/>
<rect x="583.8" y="429.60" width="28.6" height="10.60" fill="#c8cfe7"/>
<rect x="583.8" y="440.06" width="28.6" height="52.42" fill="#d2d8ec"/>
<rect x="583.8" y="492.33" width="28.6" height="7.12" fill="#c8cfe7"/>
<rect x="612.2" y="429.60" width="28.6" height="10.60" fill="#bec6e2"/>
<rect x="612.2" y="440.06" width="28.6" height="52.42" fill="#d2d8ec"/>
<rect x="612.2" y="492.33" width="28.6" height="7.12" fill="#c8cfe7"/>
<rect x="640.6" y="429.60" width="28.6" height="3.63" fill="#c8cfe7"/>
<rect x="640.6" y="433.09" width="28.6" height="3.63" fill="#d2d8ec"/>
<rect x="640.6" y="436.57" width="28.6" height="3.63" fill="#f9fafd"/>
<rect x="640.6" y="440.06" width="28.6" height="3.63" fill="#f4f5fa"/>
<rect x="640.6" y="443.54" width="28.6" height="48.94" fill="#d2d8ec"/>
<rect x="640.6" y="492.33" width="28.6" height="3.63" fill="#fce6e0"/>
<rect x="640.6" y="495.81" width="28.6" height="3.63" fill="#fef6f5"/>
<rect x="669.0" y="429.60" width="28.6" height="10.60" fill="#d2d8ec"/>
<rect x="669.0" y="440.06" width="28.6" height="45.45" fill="#d8ddee"/>
<rect x="669.0" y="485.36" width="28.6" height="3.63" fill="#e3e7f3"/>
<rect x="669.0" y="488.85" width="28.6" height="7.12" fill="#e8ecf6"/>
<rect x="669.0" y="495.81" width="28.6" height="3.63" fill="#d8ddee"/>
<rect x="697.4" y="429.60" width="28.6" height="3.63" fill="#f8d0c8"/>
<rect x="697.4" y="433.09" width="28.6" height="3.63" fill="#fdeeea"/>
<rect x="697.4" y="436.57" width="28.6" height="3.63" fill="#f4f5fa"/>
<rect x="697.4" y="440.06" width="28.6" height="3.63" fill="#dde2f1"/>
<rect x="697.4" y="443.54" width="28.6" height="3.63" fill="#e3e7f3"/>
<rect x="697.4" y="447.03" width="28.6" height="31.51" fill="#d8ddee"/>
<rect x="697.4" y="478.39" width="28.6" height="7.12" fill="#eef0f8"/>
<rect x="697.4" y="485.36" width="28.6" height="3.63" fill="#dde2f1"/>
<rect x="697.4" y="488.85" width="28.6" height="3.63" fill="#d2d8ec"/>
<rect x="697.4" y="492.33" width="28.6" height="7.12" fill="#c3cbe5"/>
<rect x="725.8" y="429.60" width="28.6" height="69.85" fill="#a31b21"/>
<rect x="526.70" y="429.40" width="227.80" height="70.10" fill="none" stroke="#444" stroke-width="1.1"/>
<rect x="756.40" y="65.80" width="13.80" height="69.80" fill="#8491B4"/>
<text font-size="10" text-anchor="middle" fill="#fff" textLength="20.6" lengthAdjust="spacingAndGlyphs" transform="translate(765.2 100.7) rotate(-90)" fill-opacity="0.92">n:20</text>
<rect x="756.40" y="137.60" width="13.80" height="38.40" fill="#F39B7F"/>
<text font-size="10" text-anchor="middle" fill="#fff" textLength="19.8" lengthAdjust="spacingAndGlyphs" transform="translate(765.2 156.8) rotate(-90)" fill-opacity="0.92">n:11</text>
<rect x="756.40" y="178.30" width="13.80" height="20.70" fill="#D7101B"/>
<text font-size="10" text-anchor="middle" fill="#fff" textLength="14.7" lengthAdjust="spacingAndGlyphs" transform="translate(765.2 188.7) rotate(-90)" fill-opacity="0.92">n:6</text>
<rect x="756.40" y="201.30" width="13.80" height="52.20" fill="#91D1C2"/>
<text font-size="10" text-anchor="middle" fill="#fff" textLength="20.6" lengthAdjust="spacingAndGlyphs" transform="translate(765.2 227.4) rotate(-90)" fill-opacity="0.92">n:15</text>
<rect x="756.40" y="254.80" width="13.80" height="63.80" fill="#3C5488"/>
<text font-size="10" text-anchor="middle" fill="#fff" textLength="20.6" lengthAdjust="spacingAndGlyphs" transform="translate(765.2 286.7) rotate(-90)" fill-opacity="0.92">n:18</text>
<rect x="756.40" y="319.90" width="13.80" height="45.30" fill="#E64B35"/>
<text font-size="10" text-anchor="middle" fill="#fff" textLength="20.6" lengthAdjust="spacingAndGlyphs" transform="translate(765.2 342.5) rotate(-90)" fill-opacity="0.92">n:13</text>
<rect x="756.40" y="367.80" width="13.80" height="59.40" fill="#4DBBD5"/>
<text font-size="10" text-anchor="middle" fill="#fff" textLength="20.6" lengthAdjust="spacingAndGlyphs" transform="translate(765.2 397.5) rotate(-90)" fill-opacity="0.92">n:17</text>
<rect x="756.40" y="428.80" width="13.80" height="70.60" fill="#00A087"/>
<text font-size="10" text-anchor="middle" fill="#fff" textLength="20.6" lengthAdjust="spacingAndGlyphs" transform="translate(765.2 464.1) rotate(-90)" fill-opacity="0.92">n:20</text>
<text x="514.0" y="62.9" font-size="10.3" text-anchor="end" font-style="italic" fill="#8491B4" textLength="23.6" lengthAdjust="spacingAndGlyphs">ELF5</text>
<text x="514.0" y="72.6" font-size="10.3" text-anchor="end" font-style="italic" fill="#8491B4" textLength="16.8" lengthAdjust="spacingAndGlyphs">LTF</text>
<text x="514.0" y="83.5" font-size="10.3" text-anchor="end" font-style="italic" fill="#8491B4" textLength="31.9" lengthAdjust="spacingAndGlyphs">CXCL3</text>
<text x="514.0" y="93.9" font-size="10.3" text-anchor="end" font-style="italic" fill="#8491B4" textLength="33.0" lengthAdjust="spacingAndGlyphs">HSPH1</text>
<text x="514.0" y="105.0" font-size="10.3" text-anchor="end" font-style="italic" fill="#8491B4" textLength="38.3" lengthAdjust="spacingAndGlyphs">HSPA1A</text>
<text x="514.0" y="115.5" font-size="10.3" text-anchor="end" font-style="italic" fill="#8491B4" textLength="37.9" lengthAdjust="spacingAndGlyphs">DNAJB1</text>
<text x="514.0" y="125.9" font-size="10.3" text-anchor="end" font-style="italic" fill="#8491B4" textLength="19.2" lengthAdjust="spacingAndGlyphs">JUN</text>
<text x="514.0" y="137.8" font-size="10.3" text-anchor="end" font-style="italic" fill="#F39B7F" textLength="38.5" lengthAdjust="spacingAndGlyphs">CSN1S1</text>
<text x="514.0" y="147.9" font-size="10.3" text-anchor="end" font-style="italic" fill="#F39B7F" textLength="19.8" lengthAdjust="spacingAndGlyphs">AEP</text>
<text x="514.0" y="157.0" font-size="10.3" text-anchor="end" font-style="italic" fill="#F39B7F" textLength="26.4" lengthAdjust="spacingAndGlyphs">CSN2</text>
<text x="514.0" y="166.7" font-size="10.3" text-anchor="end" font-style="italic" fill="#F39B7F" textLength="30.8" lengthAdjust="spacingAndGlyphs">LALBA</text>
<text x="514.0" y="177.6" font-size="10.3" text-anchor="end" font-style="italic" fill="#F39B7F" textLength="30.6" lengthAdjust="spacingAndGlyphs">FABP3</text>
<text x="514.0" y="188.3" font-size="10.3" text-anchor="end" font-style="italic" fill="#D7101B" textLength="30.2" lengthAdjust="spacingAndGlyphs">CIDEA</text>
<text x="514.0" y="199.0" font-size="10.3" text-anchor="end" font-style="italic" fill="#D7101B" textLength="30.1" lengthAdjust="spacingAndGlyphs">ASB11</text>
<text x="514.0" y="215.7" font-size="10.3" text-anchor="end" font-style="italic" fill="#91D1C2" textLength="34.1" lengthAdjust="spacingAndGlyphs">PTGDS</text>
<text x="514.0" y="226.4" font-size="10.3" text-anchor="end" font-style="italic" fill="#91D1C2" textLength="25.3" lengthAdjust="spacingAndGlyphs">SAA3</text>
<text x="514.0" y="260.0" font-size="10.3" text-anchor="end" font-style="italic" fill="#3C5488" textLength="36.8" lengthAdjust="spacingAndGlyphs">EEF1A1</text>
<text x="514.0" y="285.9" font-size="10.3" text-anchor="end" font-style="italic" fill="#3C5488" textLength="35.2" lengthAdjust="spacingAndGlyphs">S100A2</text>
<text x="514.0" y="294.3" font-size="10.3" text-anchor="end" font-style="italic" fill="#3C5488" textLength="24.7" lengthAdjust="spacingAndGlyphs">FTH1</text>
<text x="514.0" y="302.6" font-size="10.3" text-anchor="end" font-style="italic" fill="#3C5488" textLength="27.5" lengthAdjust="spacingAndGlyphs">APOE</text>
<text x="514.0" y="311.4" font-size="10.3" text-anchor="end" font-style="italic" fill="#3C5488" textLength="30.6" lengthAdjust="spacingAndGlyphs">KRT15</text>
<text x="514.0" y="319.8" font-size="10.3" text-anchor="end" font-style="italic" fill="#3C5488" textLength="25.3" lengthAdjust="spacingAndGlyphs">LCN2</text>
<text x="514.0" y="328.0" font-size="10.3" text-anchor="end" font-style="italic" fill="#3C5488" textLength="38.5" lengthAdjust="spacingAndGlyphs">TMSB10</text>
<text x="514.0" y="346.8" font-size="10.3" text-anchor="end" font-style="italic" fill="#E64B35" textLength="28.0" lengthAdjust="spacingAndGlyphs">AREG</text>
<text x="514.0" y="358.8" font-size="10.3" text-anchor="end" font-style="italic" fill="#E64B35" textLength="33.0" lengthAdjust="spacingAndGlyphs">ACTG1</text>
<text x="514.0" y="367.9" font-size="10.3" text-anchor="end" font-style="italic" fill="#E64B35" textLength="32.4" lengthAdjust="spacingAndGlyphs">ANXA1</text>
<text x="514.0" y="389.8" font-size="10.3" text-anchor="end" font-style="italic" fill="#4DBBD5" textLength="22.0" lengthAdjust="spacingAndGlyphs">GHR</text>
<text x="514.0" y="398.1" font-size="10.3" text-anchor="end" font-style="italic" fill="#4DBBD5" textLength="21.4" lengthAdjust="spacingAndGlyphs">PGR</text>
<text x="514.0" y="407.3" font-size="10.3" text-anchor="end" font-style="italic" fill="#4DBBD5" textLength="25.8" lengthAdjust="spacingAndGlyphs">ESR1</text>
<text x="514.0" y="416.1" font-size="10.3" text-anchor="end" font-style="italic" fill="#4DBBD5" textLength="26.4" lengthAdjust="spacingAndGlyphs">PRLR</text>
<text x="514.0" y="425.4" font-size="10.3" text-anchor="end" font-style="italic" fill="#4DBBD5" textLength="32.4" lengthAdjust="spacingAndGlyphs">ERBB4</text>
<text x="514.0" y="434.1" font-size="10.3" text-anchor="end" font-style="italic" fill="#4DBBD5" textLength="24.2" lengthAdjust="spacingAndGlyphs">AFF3</text>
<text x="514.0" y="445.3" font-size="10.3" text-anchor="end" font-style="italic" fill="#00A087" textLength="25.1" lengthAdjust="spacingAndGlyphs">KRT5</text>
<text x="514.0" y="462.4" font-size="10.3" text-anchor="end" font-style="italic" fill="#00A087" textLength="31.1" lengthAdjust="spacingAndGlyphs">ACTA2</text>
<text x="514.0" y="471.4" font-size="10.3" text-anchor="end" font-style="italic" fill="#00A087" textLength="32.2" lengthAdjust="spacingAndGlyphs">MYH11</text>
<text x="514.0" y="480.8" font-size="10.3" text-anchor="end" font-style="italic" fill="#00A087" textLength="26.9" lengthAdjust="spacingAndGlyphs">MYLK</text>
<text x="514.0" y="490.5" font-size="10.3" text-anchor="end" font-style="italic" fill="#00A087" textLength="30.6" lengthAdjust="spacingAndGlyphs">KRT17</text>
<path d="M518 64.4H520.3L523.4 65.9H526M518 69.2H520.3L523.4 69.8H526M518 75.9H520.3L523.4 74.2H526M518 88.4H520.3L523.4 88.4H526M518 100.9H520.3L523.4 102.6H526M518 107.2H520.3L523.4 106.1H526M518 120.3H520.3L523.4 120.3H526M518 141.4H520.3L523.4 143.1H526M518 148.4H520.3L523.4 150.0H526M518 154.0H520.3L523.4 153.1H526M518 161.1H520.3L523.4 157.0H526M518 167.6H520.3L523.4 167.6H526M518 180.3H520.3L523.4 183.7H526M518 193.1H520.3L523.4 190.3H526M518 213.1H520.3L523.4 213.1H526M518 223.3H520.3L523.4 223.3H526M518 257.2H520.3L523.4 257.2H526M518 284.7H520.3L523.4 285.6H526M518 291.3H520.3L523.4 292.2H526M518 297.6H520.3L523.4 298.9H526M518 303.3H520.3L523.4 305.0H526M518 310.0H520.3L523.4 306.1H526M518 316.7H520.3L523.4 316.7H526M518 343.1H520.3L523.4 343.1H526M518 355.2H520.3L523.4 357.5H526M518 362.1H520.3L523.4 360.3H526M518 387.1H520.3L523.4 387.1H526M518 394.2H520.3L523.4 394.2H526M518 401.9H520.3L523.4 404.2H526M518 408.6H520.3L523.4 408.4H526M518 414.9H520.3L523.4 415.5H526M518 421.2H520.3L523.4 418.3H526M518 439.0H520.3L523.4 440.7H526M518 461.2H520.3L523.4 463.1H526M518 467.7H520.3L523.4 470.0H526M518 474.6H520.3L523.4 473.5H526M518 480.9H520.3L523.4 476.9H526" stroke="#222" stroke-width="0.9" fill="none"/>
<text x="477.6" y="513.1" font-size="10.3" textLength="44.2" lengthAdjust="spacingAndGlyphs">Subtypes</text>
<text x="541.2" y="513.1" font-size="10.3" text-anchor="middle" textLength="21.3" lengthAdjust="spacingAndGlyphs">ME0</text>
<text x="569.6" y="513.1" font-size="10.3" text-anchor="middle" textLength="21.3" lengthAdjust="spacingAndGlyphs">ME1</text>
<text x="598.0" y="513.1" font-size="10.3" text-anchor="middle" textLength="21.3" lengthAdjust="spacingAndGlyphs">ME2</text>
<text x="626.4" y="513.1" font-size="10.3" text-anchor="middle" textLength="21.3" lengthAdjust="spacingAndGlyphs">ME3</text>
<text x="654.8" y="513.1" font-size="10.3" text-anchor="middle" textLength="21.3" lengthAdjust="spacingAndGlyphs">ME4</text>
<text x="683.2" y="513.1" font-size="10.3" text-anchor="middle" textLength="21.3" lengthAdjust="spacingAndGlyphs">ME5</text>
<text x="711.6" y="513.1" font-size="10.3" text-anchor="middle" textLength="21.3" lengthAdjust="spacingAndGlyphs">ME6</text>
<text x="740.0" y="513.1" font-size="10.3" text-anchor="middle" textLength="21.3" lengthAdjust="spacingAndGlyphs">ME7</text>
<text x="791.3" y="23.8" font-size="14.4" textLength="180.0" lengthAdjust="spacingAndGlyphs" xml:space="preserve">Gene expression (<tspan font-style="italic">z</tspan>-score)</text>
<defs><linearGradient id="gHM" x1="0" y1="0" x2="1" y2="0"><stop offset="0.000" stop-color="#1c4c9c"/><stop offset="0.250" stop-color="#8da0cf"/><stop offset="0.500" stop-color="#ffffff"/><stop offset="0.750" stop-color="#e69a8d"/><stop offset="1.000" stop-color="#a5181e"/></linearGradient></defs>
<rect x="840.80" y="32.00" width="78.70" height="15.00" fill="url(#gHM)"/>
<line x1="842.5" y1="32.0" x2="842.5" y2="34.6" stroke="#fff" stroke-width="0.9"/>
<line x1="842.5" y1="44.4" x2="842.5" y2="47.0" stroke="#fff" stroke-width="0.9"/>
<line x1="861.8" y1="32.0" x2="861.8" y2="34.6" stroke="#fff" stroke-width="0.9"/>
<line x1="861.8" y1="44.4" x2="861.8" y2="47.0" stroke="#fff" stroke-width="0.9"/>
<line x1="880.2" y1="32.0" x2="880.2" y2="34.6" stroke="#fff" stroke-width="0.9"/>
<line x1="880.2" y1="44.4" x2="880.2" y2="47.0" stroke="#fff" stroke-width="0.9"/>
<line x1="898.8" y1="32.0" x2="898.8" y2="34.6" stroke="#fff" stroke-width="0.9"/>
<line x1="898.8" y1="44.4" x2="898.8" y2="47.0" stroke="#fff" stroke-width="0.9"/>
<line x1="917.8" y1="32.0" x2="917.8" y2="34.6" stroke="#fff" stroke-width="0.9"/>
<line x1="917.8" y1="44.4" x2="917.8" y2="47.0" stroke="#fff" stroke-width="0.9"/>
<text x="844.3" y="59.3" font-size="10.4" text-anchor="middle" textLength="11.5" lengthAdjust="spacingAndGlyphs">−2</text>
<text x="880.5" y="59.3" font-size="10.4" text-anchor="middle">0</text>
<text x="917.8" y="59.3" font-size="10.4" text-anchor="middle">2</text>
<line x1="770.3" y1="65.8" x2="932.0" y2="65.8" stroke="#333" stroke-width="1"/>
<line x1="770.3" y1="500.0" x2="932.0" y2="500.0" stroke="#333" stroke-width="1"/>
<rect x="773.30" y="74.50" width="40.50" height="11.30" fill="#c5cbde"/>
<text x="773.8" y="84.5" font-size="10.2" fill="#111" textLength="178.7" lengthAdjust="spacingAndGlyphs">Regulation of ATP-dependent activity</text>
<rect x="773.80" y="95.80" width="37.00" height="11.20" fill="#c5cbde"/>
<text x="774.3" y="106.2" font-size="10.2" fill="#111" textLength="83.2" lengthAdjust="spacingAndGlyphs">Response to heat</text>
<rect x="773.30" y="117.50" width="37.50" height="11.80" fill="#c5cbde"/>
<text x="773.8" y="127.6" font-size="10.2" fill="#111" textLength="205.0" lengthAdjust="spacingAndGlyphs">Regulation of DNA-templated transcription</text>
<rect x="772.40" y="137.90" width="165.30" height="10.70" fill="#f8cfc3"/>
<text x="774.0" y="147.2" font-size="10.2" fill="#111" textLength="127.2" lengthAdjust="spacingAndGlyphs">Response to progesterone</text>
<rect x="772.40" y="151.10" width="158.70" height="10.70" fill="#f8cfc3"/>
<text x="774.0" y="160.2" font-size="10.2" fill="#111" textLength="103.9" lengthAdjust="spacingAndGlyphs">Response to estradiol</text>
<rect x="772.40" y="164.40" width="144.90" height="10.60" fill="#f8cfc3"/>
<text x="774.0" y="173.7" font-size="10.2" fill="#111" textLength="129.7" lengthAdjust="spacingAndGlyphs">Response to corticosteroid</text>
<rect x="773.00" y="182.60" width="37.80" height="13.20" fill="#ea8388"/>
<text x="774.0" y="192.9" font-size="10.2" fill="#111" textLength="149.6" lengthAdjust="spacingAndGlyphs">Fatty acid biosynthetic process</text>
<rect x="773.00" y="203.70" width="67.80" height="12.60" fill="#c5e7de"/>
<text x="775.3" y="213.3" font-size="10.2" fill="#111" textLength="141.7" lengthAdjust="spacingAndGlyphs">Acute inflammatory response</text>
<rect x="773.00" y="221.30" width="64.60" height="11.70" fill="#c5e7de"/>
<text x="774.3" y="230.6" font-size="10.2" fill="#111" textLength="184.8" lengthAdjust="spacingAndGlyphs">Myeloid leukocyte-mediated immunity</text>
<rect x="773.00" y="238.30" width="60.80" height="12.00" fill="#c5e7de"/>
<text x="774.3" y="248.0" font-size="10.2" fill="#111" textLength="167.8" lengthAdjust="spacingAndGlyphs">Positive regulation of angiogenesis</text>
<rect x="773.00" y="261.00" width="23.70" height="11.70" fill="#9ba8c4"/>
<text x="773.6" y="271.3" font-size="10.2" fill="#111" textLength="208.8" lengthAdjust="spacingAndGlyphs">Cellular response to growth factor stimulus</text>
<rect x="773.00" y="280.90" width="23.70" height="12.20" fill="#9ba8c4"/>
<text x="774.0" y="291.1" font-size="10.2" fill="#111" textLength="127.5" lengthAdjust="spacingAndGlyphs">Response to growth factor</text>
<rect x="773.00" y="301.30" width="23.70" height="11.70" fill="#9ba8c4"/>
<text x="773.6" y="311.6" font-size="10.2" fill="#111" textLength="191.2" lengthAdjust="spacingAndGlyphs">Regulation of membrane depolarization</text>
<rect x="773.00" y="319.90" width="77.80" height="12.00" fill="#f2a195"/>
<text x="773.6" y="330.1" font-size="10.2" fill="#111" textLength="229.6" lengthAdjust="spacingAndGlyphs">Regulation of supramolecular fiber organization</text>
<rect x="773.00" y="337.20" width="60.80" height="11.70" fill="#f2a195"/>
<text x="773.6" y="347.5" font-size="10.2" fill="#111" textLength="164.8" lengthAdjust="spacingAndGlyphs">Supramolecular fiber organization</text>
<rect x="773.00" y="354.50" width="57.70" height="11.40" fill="#f2a195"/>
<text x="773.6" y="364.5" font-size="10.2" fill="#111" textLength="224.0" lengthAdjust="spacingAndGlyphs">Regulation of cellular component organization</text>
<rect x="773.00" y="372.80" width="44.10" height="11.60" fill="#43b2d0"/>
<text x="773.6" y="383.0" font-size="10.2" fill="#111" textLength="184.3" lengthAdjust="spacingAndGlyphs">Hormone-mediated signaling pathway</text>
<rect x="773.00" y="393.30" width="30.90" height="11.60" fill="#43b2d0"/>
<text x="773.6" y="402.6" font-size="10.2" fill="#111" textLength="186.8" lengthAdjust="spacingAndGlyphs">Cellular response to hormone stimulus</text>
<rect x="773.00" y="413.10" width="26.80" height="11.60" fill="#43b2d0"/>
<text x="774.0" y="423.0" font-size="10.2" fill="#111" textLength="106.1" lengthAdjust="spacingAndGlyphs">Response to hormone</text>
<rect x="773.30" y="436.30" width="50.50" height="11.20" fill="#82d0c0"/>
<text x="773.8" y="445.8" font-size="10.2" fill="#111" textLength="204.2" lengthAdjust="spacingAndGlyphs">Negative regulation of smooth muscle cell</text>
<rect x="773.30" y="460.00" width="40.50" height="11.80" fill="#82d0c0"/>
<text x="773.8" y="469.6" font-size="10.2" fill="#111" textLength="158.0" lengthAdjust="spacingAndGlyphs">Smooth muscle cell proliferation</text>
<rect x="773.30" y="483.30" width="40.50" height="11.20" fill="#82d0c0"/>
<text x="773.8" y="492.8" font-size="10.2" fill="#111" textLength="203.0" lengthAdjust="spacingAndGlyphs">Regulation of smooth muscle proliferation</text>
<line x1="770.5" y1="500.0" x2="770.5" y2="503.8" stroke="#333" stroke-width="1"/>
<text x="770.5" y="516.3" font-size="10.4" text-anchor="middle">0</text>
<line x1="816.2" y1="500.0" x2="816.2" y2="503.8" stroke="#333" stroke-width="1"/>
<text x="816.2" y="516.3" font-size="10.4" text-anchor="middle">5</text>
<line x1="860.0" y1="500.0" x2="860.0" y2="503.8" stroke="#333" stroke-width="1"/>
<text x="860.0" y="516.3" font-size="10.4" text-anchor="middle">10</text>
<text x="937.0" y="505.2" font-size="10.2" textLength="49.5" lengthAdjust="spacingAndGlyphs" xml:space="preserve">−log<tspan font-size="6.936" dy="2.652">10</tspan><tspan dy="-2.652">(</tspan><tspan font-style="italic">P</tspan><tspan font-size="6.324" dy="2.652">adj</tspan><tspan dy="-2.652">)</tspan></text>
</g>
<g id="panel-c">
<text x="16.0" y="470.2" font-size="20.5" font-weight="bold" fill="#000" stroke="#000" stroke-width="1.0" stroke-linejoin="round">c</text>
<text x="102.7" y="489.5" font-size="14.4" textLength="227.3" lengthAdjust="spacingAndGlyphs">Distribution patterns of subtypes</text>
<rect x="122.20" y="500.20" width="23.55" height="37.03" fill="#fcfdfd"/>
<rect x="145.75" y="500.20" width="23.55" height="37.03" fill="#e1f1f2"/>
<rect x="169.30" y="500.20" width="23.55" height="37.03" fill="#e5f4f4"/>
<rect x="192.85" y="500.20" width="23.55" height="37.03" fill="#ffffff"/>
<rect x="216.40" y="500.20" width="23.55" height="37.03" fill="#cde9eb"/>
<rect x="239.95" y="500.20" width="23.55" height="37.03" fill="#dbeff0"/>
<rect x="263.50" y="500.20" width="23.55" height="37.03" fill="#ffffff"/>
<rect x="287.05" y="500.20" width="23.55" height="37.03" fill="#f8fcfc"/>
<rect x="122.20" y="537.23" width="23.55" height="37.03" fill="#ecf7f7"/>
<rect x="145.75" y="537.23" width="23.55" height="37.03" fill="#e8f5f5"/>
<rect x="169.30" y="537.23" width="23.55" height="37.03" fill="#f3fafa"/>
<rect x="192.85" y="537.23" width="23.55" height="37.03" fill="#9fd7da"/>
<rect x="216.40" y="537.23" width="23.55" height="37.03" fill="#ffffff"/>
<rect x="239.95" y="537.23" width="23.55" height="37.03" fill="#fcfdfd"/>
<rect x="263.50" y="537.23" width="23.55" height="37.03" fill="#f6fbfb"/>
<rect x="287.05" y="537.23" width="23.55" height="37.03" fill="#fafdfd"/>
<rect x="122.20" y="574.26" width="23.55" height="37.03" fill="#cde9eb"/>
<rect x="145.75" y="574.26" width="23.55" height="37.03" fill="#f9fcfc"/>
<rect x="169.30" y="574.26" width="23.55" height="37.03" fill="#ecf7f7"/>
<rect x="192.85" y="574.26" width="23.55" height="37.03" fill="#fafdfd"/>
<rect x="216.40" y="574.26" width="23.55" height="37.03" fill="#dbeff0"/>
<rect x="239.95" y="574.26" width="23.55" height="37.03" fill="#f0f8f8"/>
<rect x="263.50" y="574.26" width="23.55" height="37.03" fill="#fafdfd"/>
<rect x="287.05" y="574.26" width="23.55" height="37.03" fill="#ffffff"/>
<rect x="122.20" y="611.29" width="23.55" height="37.03" fill="#ffffff"/>
<rect x="145.75" y="611.29" width="23.55" height="37.03" fill="#f9fcfc"/>
<rect x="169.30" y="611.29" width="23.55" height="37.03" fill="#f5fafa"/>
<rect x="192.85" y="611.29" width="23.55" height="37.03" fill="#f6fbfb"/>
<rect x="216.40" y="611.29" width="23.55" height="37.03" fill="#fafdfd"/>
<rect x="239.95" y="611.29" width="23.55" height="37.03" fill="#d3ebed"/>
<rect x="263.50" y="611.29" width="23.55" height="37.03" fill="#2e7bb4"/>
<rect x="287.05" y="611.29" width="23.55" height="37.03" fill="#69c2c8"/>
<line x1="145.8" y1="500.2" x2="145.8" y2="648.3" stroke="#c4c4c4" stroke-width="0.9"/>
<line x1="169.3" y1="500.2" x2="169.3" y2="648.3" stroke="#c4c4c4" stroke-width="0.9"/>
<line x1="192.9" y1="500.2" x2="192.9" y2="648.3" stroke="#c4c4c4" stroke-width="0.9"/>
<line x1="216.4" y1="500.2" x2="216.4" y2="648.3" stroke="#c4c4c4" stroke-width="0.9"/>
<line x1="239.9" y1="500.2" x2="239.9" y2="648.3" stroke="#c4c4c4" stroke-width="0.9"/>
<line x1="263.5" y1="500.2" x2="263.5" y2="648.3" stroke="#c4c4c4" stroke-width="0.9"/>
<line x1="287.1" y1="500.2" x2="287.1" y2="648.3" stroke="#c4c4c4" stroke-width="0.9"/>
<line x1="122.2" y1="537.2" x2="310.6" y2="537.2" stroke="#c4c4c4" stroke-width="0.9"/>
<line x1="122.2" y1="574.3" x2="310.6" y2="574.3" stroke="#c4c4c4" stroke-width="0.9"/>
<line x1="122.2" y1="611.3" x2="310.6" y2="611.3" stroke="#c4c4c4" stroke-width="0.9"/>
<rect x="122.20" y="500.20" width="188.40" height="148.12" fill="none" stroke="#555" stroke-width="1"/>
<line x1="118.4" y1="518.7" x2="122.2" y2="518.7" stroke="#555" stroke-width="1"/>
<text x="113.2" y="521.6" font-size="12.2" text-anchor="end" textLength="58.3" lengthAdjust="spacingAndGlyphs">Mammary</text>
<text x="113.2" y="536.2" font-size="12.2" text-anchor="end" textLength="61.2" lengthAdjust="spacingAndGlyphs">(unknown)</text>
<line x1="118.4" y1="555.7" x2="122.2" y2="555.7" stroke="#555" stroke-width="1"/>
<text x="113.2" y="558.6" font-size="12.2" text-anchor="end" textLength="58.3" lengthAdjust="spacingAndGlyphs">Mammary</text>
<text x="113.2" y="573.2" font-size="12.2" text-anchor="end" textLength="38.6" lengthAdjust="spacingAndGlyphs">cistern</text>
<line x1="118.4" y1="592.8" x2="122.2" y2="592.8" stroke="#555" stroke-width="1"/>
<text x="113.2" y="595.7" font-size="12.2" text-anchor="end" textLength="58.3" lengthAdjust="spacingAndGlyphs">Mammary</text>
<text x="113.2" y="610.3" font-size="12.2" text-anchor="end" textLength="72.2" lengthAdjust="spacingAndGlyphs">parenchyma</text>
<line x1="118.4" y1="629.8" x2="122.2" y2="629.8" stroke="#555" stroke-width="1"/>
<text x="113.2" y="632.7" font-size="12.2" text-anchor="end" textLength="58.3" lengthAdjust="spacingAndGlyphs">Mammary</text>
<text x="113.2" y="647.3" font-size="12.2" text-anchor="end" textLength="24.8" lengthAdjust="spacingAndGlyphs">duct</text>
<text font-size="14.4" text-anchor="middle" textLength="146.0" lengthAdjust="spacingAndGlyphs" transform="translate(28.9 574.2) rotate(-90)">Anatomical structure</text>
<text x="52.8" y="664.2" font-size="14.4" textLength="64.3" lengthAdjust="spacingAndGlyphs">Subtypes</text>
<line x1="134.0" y1="648.3" x2="134.0" y2="652.2" stroke="#555" stroke-width="1"/>
<text font-size="13.4" text-anchor="end" textLength="29.8" lengthAdjust="spacingAndGlyphs" transform="translate(141.6 662.8) rotate(-45)">ME0</text>
<line x1="157.5" y1="648.3" x2="157.5" y2="652.2" stroke="#555" stroke-width="1"/>
<text font-size="13.4" text-anchor="end" textLength="29.8" lengthAdjust="spacingAndGlyphs" transform="translate(165.1 662.8) rotate(-45)">ME1</text>
<line x1="181.1" y1="648.3" x2="181.1" y2="652.2" stroke="#555" stroke-width="1"/>
<text font-size="13.4" text-anchor="end" textLength="29.8" lengthAdjust="spacingAndGlyphs" transform="translate(188.7 662.8) rotate(-45)">ME2</text>
<line x1="204.6" y1="648.3" x2="204.6" y2="652.2" stroke="#555" stroke-width="1"/>
<text font-size="13.4" text-anchor="end" textLength="29.8" lengthAdjust="spacingAndGlyphs" transform="translate(212.2 662.8) rotate(-45)">ME3</text>
<line x1="228.2" y1="648.3" x2="228.2" y2="652.2" stroke="#555" stroke-width="1"/>
<text font-size="13.4" text-anchor="end" textLength="29.8" lengthAdjust="spacingAndGlyphs" transform="translate(235.8 662.8) rotate(-45)">ME4</text>
<line x1="251.7" y1="648.3" x2="251.7" y2="652.2" stroke="#555" stroke-width="1"/>
<text font-size="13.4" text-anchor="end" textLength="29.8" lengthAdjust="spacingAndGlyphs" transform="translate(259.3 662.8) rotate(-45)">ME5</text>
<line x1="275.3" y1="648.3" x2="275.3" y2="652.2" stroke="#555" stroke-width="1"/>
<text font-size="13.4" text-anchor="end" textLength="29.8" lengthAdjust="spacingAndGlyphs" transform="translate(282.9 662.8) rotate(-45)">ME6</text>
<line x1="298.8" y1="648.3" x2="298.8" y2="652.2" stroke="#555" stroke-width="1"/>
<text font-size="13.4" text-anchor="end" textLength="29.8" lengthAdjust="spacingAndGlyphs" transform="translate(306.4 662.8) rotate(-45)">ME7</text>
<text x="318.0" y="529.6" font-size="13.6" textLength="20.0" lengthAdjust="spacingAndGlyphs">OR</text>
<defs><linearGradient id="gOR" x1="0" y1="1" x2="0" y2="0"><stop offset="0.000" stop-color="#ffffff"/><stop offset="0.125" stop-color="#e2f2f2"/><stop offset="0.250" stop-color="#bfe3e6"/><stop offset="0.375" stop-color="#86cdd0"/><stop offset="0.500" stop-color="#45b5bd"/><stop offset="0.750" stop-color="#2f98bb"/><stop offset="1.000" stop-color="#2e7bb4"/></linearGradient></defs>
<rect x="318.50" y="537.60" width="18.00" height="88.50" fill="url(#gOR)"/>
<line x1="318.5" y1="559.4" x2="322.0" y2="559.4" stroke="#fff" stroke-width="0.9"/>
<line x1="333.0" y1="559.4" x2="336.5" y2="559.4" stroke="#fff" stroke-width="0.9"/>
<text x="341.6" y="563.7" font-size="11.8" textLength="14.2" lengthAdjust="spacingAndGlyphs">15</text>
<line x1="318.5" y1="581.7" x2="322.0" y2="581.7" stroke="#fff" stroke-width="0.9"/>
<line x1="333.0" y1="581.7" x2="336.5" y2="581.7" stroke="#fff" stroke-width="0.9"/>
<text x="341.6" y="586.0" font-size="11.8" textLength="14.2" lengthAdjust="spacingAndGlyphs">10</text>
<line x1="318.5" y1="603.9" x2="322.0" y2="603.9" stroke="#fff" stroke-width="0.9"/>
<line x1="333.0" y1="603.9" x2="336.5" y2="603.9" stroke="#fff" stroke-width="0.9"/>
<text x="341.6" y="608.2" font-size="11.8" textLength="7.1" lengthAdjust="spacingAndGlyphs">5</text>
<text x="341.6" y="630.4" font-size="11.8" textLength="7.1" lengthAdjust="spacingAndGlyphs">0</text>
</g>
<g id="panel-d">
<text x="399.0" y="535.9" font-size="20.5" font-weight="bold" fill="#000" stroke="#000" stroke-width="1.0" stroke-linejoin="round">d</text>
<line x1="446.5" y1="560.4" x2="446.5" y2="714.8" stroke="#444" stroke-width="1"/>
<line x1="446.0" y1="714.3" x2="726.7" y2="714.3" stroke="#444" stroke-width="1"/>
<line x1="441.9" y1="586.9" x2="446.5" y2="586.9" stroke="#444" stroke-width="1"/>
<text x="437.2" y="591.2" font-size="11.8" text-anchor="end" textLength="7.2" lengthAdjust="spacingAndGlyphs">2</text>
<line x1="441.9" y1="627.4" x2="446.5" y2="627.4" stroke="#444" stroke-width="1"/>
<text x="437.2" y="631.7" font-size="11.8" text-anchor="end" textLength="7.2" lengthAdjust="spacingAndGlyphs">0</text>
<line x1="441.9" y1="668.5" x2="446.5" y2="668.5" stroke="#444" stroke-width="1"/>
<text x="437.2" y="672.8" font-size="11.8" text-anchor="end" textLength="14.8" lengthAdjust="spacingAndGlyphs">−2</text>
<line x1="441.9" y1="709.6" x2="446.5" y2="709.6" stroke="#444" stroke-width="1"/>
<text font-size="14.4" text-anchor="middle" textLength="106.6" lengthAdjust="spacingAndGlyphs" transform="translate(411.6 637.3) rotate(-90)">Lactation score</text>
<line x1="469.3" y1="584.4" x2="469.3" y2="643.7" stroke="#333" stroke-width="0.9"/>
<line x1="461.1" y1="584.4" x2="477.5" y2="584.4" stroke="#333" stroke-width="0.9"/>
<line x1="461.1" y1="643.7" x2="477.5" y2="643.7" stroke="#333" stroke-width="0.9"/>
<rect x="459.00" y="606.30" width="20.60" height="15.40" fill="#8491B4" stroke="#2a2a2a" stroke-width="0.8"/>
<line x1="459.0" y1="612.8" x2="479.6" y2="612.8" stroke="#111" stroke-width="2.2"/>
<line x1="503.3" y1="597.4" x2="503.3" y2="647.4" stroke="#333" stroke-width="0.9"/>
<line x1="495.1" y1="597.4" x2="511.5" y2="597.4" stroke="#333" stroke-width="0.9"/>
<line x1="495.1" y1="647.4" x2="511.5" y2="647.4" stroke="#333" stroke-width="0.9"/>
<rect x="493.00" y="616.50" width="20.60" height="12.90" fill="#F39B7F" stroke="#2a2a2a" stroke-width="0.8"/>
<line x1="493.0" y1="622.6" x2="513.6" y2="622.6" stroke="#111" stroke-width="2.2"/>
<line x1="536.9" y1="586.9" x2="536.9" y2="660.9" stroke="#333" stroke-width="0.9"/>
<line x1="528.7" y1="586.9" x2="545.1" y2="586.9" stroke="#333" stroke-width="0.9"/>
<line x1="528.7" y1="660.9" x2="545.1" y2="660.9" stroke="#333" stroke-width="0.9"/>
<rect x="526.60" y="608.50" width="20.60" height="21.30" fill="#91D1C2" stroke="#2a2a2a" stroke-width="0.8"/>
<line x1="526.6" y1="618.7" x2="547.2" y2="618.7" stroke="#111" stroke-width="2.2"/>
<line x1="570.6" y1="597.4" x2="570.6" y2="639.3" stroke="#333" stroke-width="0.9"/>
<line x1="562.4" y1="597.4" x2="578.8" y2="597.4" stroke="#333" stroke-width="0.9"/>
<line x1="562.4" y1="639.3" x2="578.8" y2="639.3" stroke="#333" stroke-width="0.9"/>
<rect x="560.30" y="612.40" width="20.60" height="10.90" fill="#D7101B" stroke="#2a2a2a" stroke-width="0.8"/>
<line x1="560.3" y1="617.0" x2="580.9" y2="617.0" stroke="#111" stroke-width="2.2"/>
<line x1="604.0" y1="605.7" x2="604.0" y2="665.3" stroke="#333" stroke-width="0.9"/>
<line x1="595.8" y1="605.7" x2="612.2" y2="605.7" stroke="#333" stroke-width="0.9"/>
<line x1="595.8" y1="665.3" x2="612.2" y2="665.3" stroke="#333" stroke-width="0.9"/>
<rect x="593.70" y="626.70" width="20.60" height="17.30" fill="#3C5488" stroke="#2a2a2a" stroke-width="0.8"/>
<line x1="593.7" y1="635.3" x2="614.3" y2="635.3" stroke="#111" stroke-width="2.2"/>
<line x1="637.9" y1="615.7" x2="637.9" y2="673.3" stroke="#333" stroke-width="0.9"/>
<line x1="629.7" y1="615.7" x2="646.1" y2="615.7" stroke="#333" stroke-width="0.9"/>
<line x1="629.7" y1="673.3" x2="646.1" y2="673.3" stroke="#333" stroke-width="0.9"/>
<rect x="627.60" y="638.00" width="20.60" height="17.00" fill="#E64B35" stroke="#2a2a2a" stroke-width="0.8"/>
<line x1="627.6" y1="647.0" x2="648.2" y2="647.0" stroke="#111" stroke-width="2.2"/>
<line x1="672.2" y1="641.3" x2="672.2" y2="698.3" stroke="#333" stroke-width="0.9"/>
<line x1="664.0" y1="641.3" x2="680.4" y2="641.3" stroke="#333" stroke-width="0.9"/>
<line x1="664.0" y1="698.3" x2="680.4" y2="698.3" stroke="#333" stroke-width="0.9"/>
<rect x="661.90" y="664.00" width="20.60" height="17.00" fill="#00A087" stroke="#2a2a2a" stroke-width="0.8"/>
<line x1="661.9" y1="673.3" x2="682.5" y2="673.3" stroke="#111" stroke-width="2.2"/>
<line x1="706.5" y1="623.3" x2="706.5" y2="695.3" stroke="#333" stroke-width="0.9"/>
<line x1="698.3" y1="623.3" x2="714.7" y2="623.3" stroke="#333" stroke-width="0.9"/>
<line x1="698.3" y1="695.3" x2="714.7" y2="695.3" stroke="#333" stroke-width="0.9"/>
<rect x="696.20" y="653.00" width="20.60" height="20.30" fill="#4DBBD5" stroke="#2a2a2a" stroke-width="0.8"/>
<line x1="696.2" y1="662.0" x2="716.8" y2="662.0" stroke="#111" stroke-width="2.2"/>
<line x1="446.5" y1="627.3" x2="718.5" y2="627.3" stroke="#e04a5c" stroke-width="1.5" stroke-dasharray="8.5 3.2" stroke-opacity="0.92"/>
<line x1="467.7" y1="714.3" x2="467.7" y2="718.4" stroke="#444" stroke-width="1"/>
<text font-size="13" text-anchor="end" textLength="28.9" lengthAdjust="spacingAndGlyphs" transform="translate(476.5 730.8) rotate(-45)">ME0</text>
<line x1="501.7" y1="714.3" x2="501.7" y2="718.4" stroke="#444" stroke-width="1"/>
<text font-size="13" text-anchor="end" textLength="28.9" lengthAdjust="spacingAndGlyphs" transform="translate(510.5 730.8) rotate(-45)">ME1</text>
<line x1="535.3" y1="714.3" x2="535.3" y2="718.4" stroke="#444" stroke-width="1"/>
<text font-size="13" text-anchor="end" textLength="28.9" lengthAdjust="spacingAndGlyphs" transform="translate(544.1 730.8) rotate(-45)">ME2</text>
<line x1="569.0" y1="714.3" x2="569.0" y2="718.4" stroke="#444" stroke-width="1"/>
<text font-size="13" text-anchor="end" textLength="28.9" lengthAdjust="spacingAndGlyphs" transform="translate(577.8 730.8) rotate(-45)">ME3</text>
<line x1="602.4" y1="714.3" x2="602.4" y2="718.4" stroke="#444" stroke-width="1"/>
<text font-size="13" text-anchor="end" textLength="28.9" lengthAdjust="spacingAndGlyphs" transform="translate(611.2 730.8) rotate(-45)">ME4</text>
<line x1="636.3" y1="714.3" x2="636.3" y2="718.4" stroke="#444" stroke-width="1"/>
<text font-size="13" text-anchor="end" textLength="28.9" lengthAdjust="spacingAndGlyphs" transform="translate(645.1 730.8) rotate(-45)">ME5</text>
<line x1="670.6" y1="714.3" x2="670.6" y2="718.4" stroke="#444" stroke-width="1"/>
<text font-size="13" text-anchor="end" textLength="28.9" lengthAdjust="spacingAndGlyphs" transform="translate(679.4 730.8) rotate(-45)">ME6</text>
<line x1="704.9" y1="714.3" x2="704.9" y2="718.4" stroke="#444" stroke-width="1"/>
<text font-size="13" text-anchor="end" textLength="28.9" lengthAdjust="spacingAndGlyphs" transform="translate(713.7 730.8) rotate(-45)">ME7</text>
</g>
<g id="panel-e">
<text x="749.4" y="535.9" font-size="20.5" font-weight="bold" fill="#000" stroke="#000" stroke-width="1.0" stroke-linejoin="round">e</text>
<text x="825.7" y="538.0" font-size="14.4" textLength="156.6" lengthAdjust="spacingAndGlyphs">Immune-related genes</text>
<line x1="789.2" y1="540.0" x2="789.2" y2="690.2" stroke="#555" stroke-width="1"/>
<line x1="788.7" y1="689.7" x2="1041.7" y2="689.7" stroke="#555" stroke-width="1"/>
<line x1="784.3" y1="678.7" x2="789.2" y2="678.7" stroke="#555" stroke-width="1"/>
<text x="778.4" y="683.0" font-size="12" text-anchor="end" textLength="28.0" lengthAdjust="spacingAndGlyphs">ME0</text>
<line x1="784.3" y1="660.5" x2="789.2" y2="660.5" stroke="#555" stroke-width="1"/>
<text x="778.4" y="664.8" font-size="12" text-anchor="end" textLength="28.0" lengthAdjust="spacingAndGlyphs">ME1</text>
<line x1="784.3" y1="642.2" x2="789.2" y2="642.2" stroke="#555" stroke-width="1"/>
<text x="778.4" y="646.5" font-size="12" text-anchor="end" textLength="28.0" lengthAdjust="spacingAndGlyphs">ME2</text>
<line x1="784.3" y1="624.0" x2="789.2" y2="624.0" stroke="#555" stroke-width="1"/>
<text x="778.4" y="628.3" font-size="12" text-anchor="end" textLength="28.0" lengthAdjust="spacingAndGlyphs">ME3</text>
<line x1="784.3" y1="605.7" x2="789.2" y2="605.7" stroke="#555" stroke-width="1"/>
<text x="778.4" y="610.0" font-size="12" text-anchor="end" textLength="28.0" lengthAdjust="spacingAndGlyphs">ME4</text>
<line x1="784.3" y1="587.5" x2="789.2" y2="587.5" stroke="#555" stroke-width="1"/>
<text x="778.4" y="591.8" font-size="12" text-anchor="end" textLength="28.0" lengthAdjust="spacingAndGlyphs">ME5</text>
<line x1="784.3" y1="569.3" x2="789.2" y2="569.3" stroke="#555" stroke-width="1"/>
<text x="778.4" y="573.6" font-size="12" text-anchor="end" textLength="28.0" lengthAdjust="spacingAndGlyphs">ME6</text>
<line x1="784.3" y1="551.0" x2="789.2" y2="551.0" stroke="#555" stroke-width="1"/>
<text x="778.4" y="555.3" font-size="12" text-anchor="end" textLength="28.0" lengthAdjust="spacingAndGlyphs">ME7</text>
<line x1="805.3" y1="689.7" x2="805.3" y2="693.4" stroke="#555" stroke-width="1"/>
<text font-size="13.4" text-anchor="end" font-style="italic" textLength="27.9" lengthAdjust="spacingAndGlyphs" transform="translate(813.8 705.6) rotate(-45)">LPO</text>
<line x1="832.7" y1="689.7" x2="832.7" y2="693.4" stroke="#555" stroke-width="1"/>
<text font-size="13.4" text-anchor="end" font-style="italic" textLength="47.3" lengthAdjust="spacingAndGlyphs" transform="translate(841.2 705.6) rotate(-45)">CHI3L1</text>
<line x1="860.1" y1="689.7" x2="860.1" y2="693.4" stroke="#555" stroke-width="1"/>
<text font-size="13.4" text-anchor="end" font-style="italic" textLength="35.6" lengthAdjust="spacingAndGlyphs" transform="translate(868.6 705.6) rotate(-45)">SPP1</text>
<line x1="887.6" y1="689.7" x2="887.6" y2="693.4" stroke="#555" stroke-width="1"/>
<text font-size="13.4" text-anchor="end" font-style="italic" textLength="34.1" lengthAdjust="spacingAndGlyphs" transform="translate(896.1 705.6) rotate(-45)">PIGR</text>
<line x1="915.0" y1="689.7" x2="915.0" y2="693.4" stroke="#555" stroke-width="1"/>
<text font-size="13.4" text-anchor="end" font-style="italic" textLength="37.9" lengthAdjust="spacingAndGlyphs" transform="translate(923.5 705.6) rotate(-45)">CTSC</text>
<line x1="942.4" y1="689.7" x2="942.4" y2="693.4" stroke="#555" stroke-width="1"/>
<text font-size="13.4" text-anchor="end" font-style="italic" textLength="35.6" lengthAdjust="spacingAndGlyphs" transform="translate(950.9 705.6) rotate(-45)">SAA3</text>
<line x1="969.8" y1="689.7" x2="969.8" y2="693.4" stroke="#555" stroke-width="1"/>
<text font-size="13.4" text-anchor="end" font-style="italic" textLength="67.0" lengthAdjust="spacingAndGlyphs" transform="translate(978.3 705.6) rotate(-45)">M−SAA3.2</text>
<line x1="997.2" y1="689.7" x2="997.2" y2="693.4" stroke="#555" stroke-width="1"/>
<text font-size="13.4" text-anchor="end" font-style="italic" textLength="23.7" lengthAdjust="spacingAndGlyphs" transform="translate(1005.7 705.6) rotate(-45)">LTF</text>
<line x1="1024.7" y1="689.7" x2="1024.7" y2="693.4" stroke="#555" stroke-width="1"/>
<text font-size="13.4" text-anchor="end" font-style="italic" textLength="17.8" lengthAdjust="spacingAndGlyphs" transform="translate(1033.2 705.6) rotate(-45)">C3</text>
<circle cx="805.3" cy="551.0" r="0.85" fill="#f5d63a"/>
<circle cx="805.3" cy="569.3" r="0.85" fill="#f5d63a"/>
<circle cx="805.3" cy="587.5" r="0.85" fill="#f5d63a"/>
<circle cx="805.3" cy="605.7" r="0.85" fill="#f5d63a"/>
<circle cx="805.3" cy="624.0" r="5.30" fill="#d9595e"/>
<circle cx="805.3" cy="642.2" r="4.50" fill="#7a2a9a"/>
<circle cx="805.3" cy="660.5" r="4.50" fill="#d9575c"/>
<circle cx="805.3" cy="678.7" r="5.80" fill="#5a2597"/>
<circle cx="832.7" cy="551.0" r="1.70" fill="#f2b72e"/>
<circle cx="832.7" cy="569.3" r="1.30" fill="#f0b92d"/>
<circle cx="832.7" cy="587.5" r="1.30" fill="#f0b030"/>
<circle cx="832.7" cy="605.7" r="6.30" fill="#44208f"/>
<circle cx="832.7" cy="624.0" r="1.00" fill="#f4c030"/>
<circle cx="832.7" cy="642.2" r="5.20" fill="#7b2b9b"/>
<circle cx="832.7" cy="660.5" r="1.70" fill="#f3b82f"/>
<circle cx="832.7" cy="678.7" r="5.00" fill="#d7555e"/>
<circle cx="860.1" cy="551.0" r="4.70" fill="#f3cf30"/>
<circle cx="860.1" cy="569.3" r="1.80" fill="#d9e040"/>
<circle cx="860.1" cy="587.5" r="2.70" fill="#e8dc35"/>
<circle cx="860.1" cy="605.7" r="5.70" fill="#84289a"/>
<circle cx="860.1" cy="624.0" r="7.50" fill="#f39b3c"/>
<circle cx="860.1" cy="642.2" r="7.20" fill="#4b2291"/>
<circle cx="860.1" cy="660.5" r="7.30" fill="#f18d40"/>
<circle cx="860.1" cy="678.7" r="7.20" fill="#d4506a"/>
<circle cx="887.6" cy="551.0" r="0.85" fill="#f0dc40"/>
<circle cx="887.6" cy="569.3" r="3.70" fill="#f3c62f"/>
<circle cx="887.6" cy="587.5" r="2.00" fill="#f2a833"/>
<circle cx="887.6" cy="605.7" r="2.50" fill="#f3c22f"/>
<circle cx="887.6" cy="624.0" r="6.70" fill="#e17055"/>
<circle cx="887.6" cy="642.2" r="5.50" fill="#53238f"/>
<circle cx="887.6" cy="660.5" r="5.50" fill="#e77a4c"/>
<circle cx="887.6" cy="678.7" r="6.70" fill="#65289a"/>
<circle cx="915.0" cy="551.0" r="1.00" fill="#f3b82f"/>
<circle cx="915.0" cy="569.3" r="1.50" fill="#f3b82f"/>
<circle cx="915.0" cy="587.5" r="1.00" fill="#f3b82f"/>
<circle cx="915.0" cy="605.7" r="3.00" fill="#dc5f63"/>
<circle cx="915.0" cy="624.0" r="3.00" fill="#f4b52e"/>
<circle cx="915.0" cy="642.2" r="5.00" fill="#3b1f8c"/>
<circle cx="915.0" cy="660.5" r="2.20" fill="#f3b030"/>
<circle cx="915.0" cy="678.7" r="6.00" fill="#8a2a9a"/>
<circle cx="942.4" cy="551.0" r="1.00" fill="#f3b030"/>
<circle cx="942.4" cy="569.3" r="2.50" fill="#f4b22f"/>
<circle cx="942.4" cy="587.5" r="1.70" fill="#f3a832"/>
<circle cx="942.4" cy="605.7" r="6.70" fill="#c0407a"/>
<circle cx="942.4" cy="624.0" r="2.30" fill="#f3b030"/>
<circle cx="942.4" cy="642.2" r="5.70" fill="#22286a"/>
<circle cx="942.4" cy="660.5" r="2.20" fill="#f3b030"/>
<circle cx="942.4" cy="678.7" r="5.30" fill="#de6060"/>
<circle cx="969.8" cy="551.0" r="0.85" fill="#f3b030"/>
<circle cx="969.8" cy="569.3" r="2.70" fill="#f3b030"/>
<circle cx="969.8" cy="587.5" r="1.50" fill="#f3a030"/>
<circle cx="969.8" cy="605.7" r="5.70" fill="#b5348a"/>
<circle cx="969.8" cy="624.0" r="2.30" fill="#f3b030"/>
<circle cx="969.8" cy="642.2" r="5.50" fill="#202a70"/>
<circle cx="969.8" cy="660.5" r="1.80" fill="#f3b030"/>
<circle cx="969.8" cy="678.7" r="5.50" fill="#de6060"/>
<circle cx="997.2" cy="551.0" r="1.30" fill="#e0e040"/>
<circle cx="997.2" cy="569.3" r="5.20" fill="#f0e035"/>
<circle cx="997.2" cy="587.5" r="4.70" fill="#eed834"/>
<circle cx="997.2" cy="605.7" r="7.50" fill="#e47852"/>
<circle cx="997.2" cy="624.0" r="7.50" fill="#e47852"/>
<circle cx="997.2" cy="642.2" r="7.20" fill="#4b2291"/>
<circle cx="997.2" cy="660.5" r="5.80" fill="#f0923d"/>
<circle cx="997.2" cy="678.7" r="7.30" fill="#7b2a9b"/>
<circle cx="1024.7" cy="551.0" r="3.00" fill="#f3ab32"/>
<circle cx="1024.7" cy="569.3" r="1.70" fill="#ecd838"/>
<circle cx="1024.7" cy="587.5" r="1.30" fill="#f0d035"/>
<circle cx="1024.7" cy="605.7" r="3.00" fill="#f0903e"/>
<circle cx="1024.7" cy="624.0" r="5.70" fill="#f39c3b"/>
<circle cx="1024.7" cy="642.2" r="5.70" fill="#552394"/>
<circle cx="1024.7" cy="660.5" r="4.30" fill="#f0903e"/>
<circle cx="1024.7" cy="678.7" r="7.00" fill="#5f2796"/>
<text x="746.2" y="771.8" font-size="13.8" textLength="152.9" lengthAdjust="spacingAndGlyphs">Percentage expressed</text>
<circle cx="785.7" cy="781.2" r="1.30" fill="#000"/>
<text x="785.7" y="800.7" font-size="11.8" text-anchor="middle" textLength="7.1" lengthAdjust="spacingAndGlyphs">0</text>
<circle cx="806.2" cy="781.2" r="3.00" fill="#000"/>
<text x="806.2" y="800.7" font-size="11.8" text-anchor="middle" textLength="14.2" lengthAdjust="spacingAndGlyphs">25</text>
<circle cx="828.2" cy="781.2" r="4.90" fill="#000"/>
<text x="828.2" y="800.7" font-size="11.8" text-anchor="middle" textLength="14.2" lengthAdjust="spacingAndGlyphs">50</text>
<circle cx="855.7" cy="781.2" r="6.80" fill="#000"/>
<text x="855.7" y="800.7" font-size="11.8" text-anchor="middle" textLength="14.2" lengthAdjust="spacingAndGlyphs">75</text>
<text x="908.9" y="771.8" font-size="13.8" textLength="135.4" lengthAdjust="spacingAndGlyphs">Average expression</text>
<defs><linearGradient id="gPL" x1="0" y1="0" x2="1" y2="0"><stop offset="0.000" stop-color="#f0e336"/><stop offset="0.126" stop-color="#f4c22f"/><stop offset="0.236" stop-color="#f39f3a"/><stop offset="0.362" stop-color="#e7774d"/><stop offset="0.487" stop-color="#d4506a"/><stop offset="0.613" stop-color="#b5348a"/><stop offset="0.739" stop-color="#84289a"/><stop offset="0.865" stop-color="#53238f"/><stop offset="1.000" stop-color="#1f2a6e"/></linearGradient></defs>
<rect x="936.70" y="779.00" width="79.40" height="15.20" fill="url(#gPL)"/>
<line x1="940.6" y1="779.0" x2="940.6" y2="781.6" stroke="#fff" stroke-width="0.8" stroke-opacity="0.8"/>
<line x1="940.6" y1="791.6" x2="940.6" y2="794.2" stroke="#fff" stroke-width="0.8" stroke-opacity="0.8"/>
<text x="940.6" y="809.8" font-size="11.8" text-anchor="middle" textLength="14.5" lengthAdjust="spacingAndGlyphs">−1</text>
<line x1="965.9" y1="779.0" x2="965.9" y2="781.6" stroke="#fff" stroke-width="0.8" stroke-opacity="0.8"/>
<line x1="965.9" y1="791.6" x2="965.9" y2="794.2" stroke="#fff" stroke-width="0.8" stroke-opacity="0.8"/>
<text x="965.9" y="809.8" font-size="11.8" text-anchor="middle" textLength="7.1" lengthAdjust="spacingAndGlyphs">0</text>
<line x1="990.9" y1="779.0" x2="990.9" y2="781.6" stroke="#fff" stroke-width="0.8" stroke-opacity="0.8"/>
<line x1="990.9" y1="791.6" x2="990.9" y2="794.2" stroke="#fff" stroke-width="0.8" stroke-opacity="0.8"/>
<text x="990.9" y="809.8" font-size="11.8" text-anchor="middle" textLength="7.1" lengthAdjust="spacingAndGlyphs">1</text>
<line x1="1015.2" y1="779.0" x2="1015.2" y2="781.6" stroke="#fff" stroke-width="0.8" stroke-opacity="0.8"/>
<line x1="1015.2" y1="791.6" x2="1015.2" y2="794.2" stroke="#fff" stroke-width="0.8" stroke-opacity="0.8"/>
<text x="1014.2" y="809.8" font-size="11.8" text-anchor="middle" textLength="7.1" lengthAdjust="spacingAndGlyphs">2</text>
</g>
<g id="panel-f">
<text x="16.6" y="723.8" font-size="20.5" font-weight="bold" fill="#000" stroke="#000" stroke-width="1.0" stroke-linejoin="round">f</text>
<rect x="110.85" y="716.50" width="33.05" height="33.00" fill="#fdecea"/>
<rect x="77.80" y="749.50" width="33.05" height="33.00" fill="#dc8587"/>
<rect x="110.85" y="749.50" width="33.05" height="33.00" fill="#bf2a2b"/>
<rect x="143.90" y="749.50" width="33.05" height="33.00" fill="#e6a6a9"/>
<rect x="77.80" y="914.50" width="33.05" height="33.00" fill="#f2d3d3"/>
<rect x="110.85" y="914.50" width="33.05" height="33.00" fill="#f2d3d3"/>
<line x1="77.8" y1="716.5" x2="77.8" y2="980.5" stroke="#cfcfcf" stroke-width="1"/>
<line x1="110.8" y1="716.5" x2="110.8" y2="980.5" stroke="#cfcfcf" stroke-width="1"/>
<line x1="143.9" y1="716.5" x2="143.9" y2="980.5" stroke="#cfcfcf" stroke-width="1"/>
<line x1="176.9" y1="716.5" x2="176.9" y2="980.5" stroke="#cfcfcf" stroke-width="1"/>
<line x1="77.8" y1="716.5" x2="176.9" y2="716.5" stroke="#cfcfcf" stroke-width="1"/>
<line x1="77.8" y1="749.5" x2="176.9" y2="749.5" stroke="#cfcfcf" stroke-width="1"/>
<line x1="77.8" y1="782.5" x2="176.9" y2="782.5" stroke="#cfcfcf" stroke-width="1"/>
<line x1="77.8" y1="815.5" x2="176.9" y2="815.5" stroke="#cfcfcf" stroke-width="1"/>
<line x1="77.8" y1="848.5" x2="176.9" y2="848.5" stroke="#cfcfcf" stroke-width="1"/>
<line x1="77.8" y1="881.5" x2="176.9" y2="881.5" stroke="#cfcfcf" stroke-width="1"/>
<line x1="77.8" y1="914.5" x2="176.9" y2="914.5" stroke="#cfcfcf" stroke-width="1"/>
<line x1="77.8" y1="947.5" x2="176.9" y2="947.5" stroke="#cfcfcf" stroke-width="1"/>
<line x1="77.8" y1="980.5" x2="176.9" y2="980.5" stroke="#cfcfcf" stroke-width="1"/>
<text x="72.5" y="737.3" font-size="12" text-anchor="end" textLength="24.4" lengthAdjust="spacingAndGlyphs">ME7</text>
<text x="72.5" y="770.3" font-size="12" text-anchor="end" textLength="24.4" lengthAdjust="spacingAndGlyphs">ME6</text>
<text x="72.5" y="803.3" font-size="12" text-anchor="end" textLength="24.4" lengthAdjust="spacingAndGlyphs">ME5</text>
<text x="72.5" y="836.3" font-size="12" text-anchor="end" textLength="24.4" lengthAdjust="spacingAndGlyphs">ME4</text>
<text x="72.5" y="869.3" font-size="12" text-anchor="end" textLength="24.4" lengthAdjust="spacingAndGlyphs">ME3</text>
<text x="72.5" y="902.3" font-size="12" text-anchor="end" textLength="24.4" lengthAdjust="spacingAndGlyphs">ME2</text>
<text x="72.5" y="935.3" font-size="12" text-anchor="end" textLength="24.4" lengthAdjust="spacingAndGlyphs">ME1</text>
<text x="72.5" y="968.3" font-size="12" text-anchor="end" textLength="24.4" lengthAdjust="spacingAndGlyphs">ME0</text>
<text font-size="15.5" text-anchor="middle" fill="#111" transform="translate(84.7 766.6) rotate(90)" letter-spacing="1">**</text>
<text font-size="15.5" text-anchor="middle" fill="#111" transform="translate(117.8 766.6) rotate(90)" letter-spacing="1">**</text>
<text font-size="15.5" text-anchor="middle" fill="#111" transform="translate(150.8 766.6) rotate(90)" letter-spacing="1">**</text>
<text x="94.3" y="939.2" font-size="15.5" text-anchor="middle" fill="#111">*</text>
<text x="127.4" y="939.2" font-size="15.5" text-anchor="middle" fill="#111">*</text>
<text font-size="12.6" text-anchor="end" textLength="55.4" lengthAdjust="spacingAndGlyphs" transform="translate(100.1 988.9) rotate(-45)">Milk yield</text>
<text font-size="12.6" text-anchor="end" textLength="74.2" lengthAdjust="spacingAndGlyphs" transform="translate(133.2 988.9) rotate(-45)">Protein yield</text>
<text font-size="12.6" text-anchor="end" textLength="51.0" lengthAdjust="spacingAndGlyphs" transform="translate(166.2 988.9) rotate(-45)">Fat yield</text>
<text x="-1.2" y="1061.6" font-size="14.4" textLength="79.0" lengthAdjust="spacingAndGlyphs" xml:space="preserve">−log<tspan font-size="9.792" dy="3.744">10</tspan><tspan dy="-3.744">(FDR)</tspan></text>
<rect x="83.20" y="1050.00" width="4.30" height="13.80" fill="#ffffff"/>
<rect x="87.30" y="1050.00" width="4.30" height="13.80" fill="#fdf8f8"/>
<rect x="91.40" y="1050.00" width="4.30" height="13.80" fill="#fcf1f1"/>
<rect x="95.50" y="1050.00" width="4.30" height="13.80" fill="#faebeb"/>
<rect x="99.60" y="1050.00" width="4.30" height="13.80" fill="#f9e4e4"/>
<rect x="103.70" y="1050.00" width="4.30" height="13.80" fill="#f7dddd"/>
<rect x="107.80" y="1050.00" width="4.30" height="13.80" fill="#f5d6d6"/>
<rect x="111.90" y="1050.00" width="4.30" height="13.80" fill="#f3cdce"/>
<rect x="116.00" y="1050.00" width="4.30" height="13.80" fill="#f1c5c6"/>
<rect x="120.10" y="1050.00" width="4.30" height="13.80" fill="#eebcbd"/>
<rect x="124.20" y="1050.00" width="4.30" height="13.80" fill="#ecb4b5"/>
<rect x="128.30" y="1050.00" width="4.30" height="13.80" fill="#e9abad"/>
<rect x="132.40" y="1050.00" width="4.30" height="13.80" fill="#e6a2a4"/>
<rect x="136.50" y="1050.00" width="4.30" height="13.80" fill="#e3979a"/>
<rect x="140.60" y="1050.00" width="4.30" height="13.80" fill="#e08d8f"/>
<rect x="144.70" y="1050.00" width="4.30" height="13.80" fill="#dd8285"/>
<rect x="148.80" y="1050.00" width="4.30" height="13.80" fill="#da787b"/>
<rect x="152.90" y="1050.00" width="4.30" height="13.80" fill="#d76e71"/>
<rect x="157.00" y="1050.00" width="4.30" height="13.80" fill="#d36265"/>
<rect x="161.10" y="1050.00" width="4.30" height="13.80" fill="#cf575a"/>
<rect x="165.20" y="1050.00" width="4.30" height="13.80" fill="#cb4b4e"/>
<rect x="169.30" y="1050.00" width="4.30" height="13.80" fill="#c73f42"/>
<rect x="173.40" y="1050.00" width="4.30" height="13.80" fill="#c33437"/>
<rect x="177.50" y="1050.00" width="4.30" height="13.80" fill="#bf282b"/>
<text x="84.8" y="1077.2" font-size="11.8" text-anchor="middle" textLength="7.1" lengthAdjust="spacingAndGlyphs">0</text>
<text x="133.0" y="1077.2" font-size="11.8" text-anchor="middle" textLength="7.1" lengthAdjust="spacingAndGlyphs">4</text>
<text x="180.3" y="1077.2" font-size="11.8" text-anchor="middle" textLength="7.1" lengthAdjust="spacingAndGlyphs">8</text>
</g>
<g id="panel-g">
<text x="241.0" y="830.8" font-size="20.5" font-weight="bold" fill="#000" stroke="#000" stroke-width="1.0" stroke-linejoin="round">g</text>
<rect x="265.50" y="835.50" width="778.00" height="162.00" fill="none" stroke="#484848" stroke-width="1"/>
<line x1="262.0" y1="850.1" x2="266.0" y2="850.1" stroke="#555" stroke-width="0.9"/>
<text x="258.0" y="853.2" font-size="8.7" text-anchor="end" textLength="17.8" lengthAdjust="spacingAndGlyphs">ME7</text>
<circle cx="286.9" cy="850.1" r="3.23" fill="#4cafc8"/>
<circle cx="303.4" cy="850.1" r="3.72" fill="#4cafc8"/>
<circle cx="352.9" cy="850.1" r="3.72" fill="#4cafc8"/>
<circle cx="410.7" cy="850.1" r="3.23" fill="#4cafc8"/>
<circle cx="419.0" cy="850.1" r="3.23" fill="#4cafc8"/>
<circle cx="427.2" cy="850.1" r="3.72" fill="#4cafc8"/>
<circle cx="435.5" cy="850.1" r="3.43" fill="#4cafc8"/>
<circle cx="534.5" cy="850.1" r="4.80" fill="#4cafc8"/>
<circle cx="575.8" cy="850.1" r="3.92" fill="#4cafc8"/>
<circle cx="592.3" cy="850.1" r="3.43" fill="#4cafc8"/>
<circle cx="600.6" cy="850.1" r="4.61" fill="#4cafc8"/>
<circle cx="608.8" cy="850.1" r="4.80" fill="#4cafc8"/>
<circle cx="633.6" cy="850.1" r="4.80" fill="#4cafc8"/>
<circle cx="641.8" cy="850.1" r="4.80" fill="#4cafc8"/>
<circle cx="674.8" cy="850.1" r="4.80" fill="#4cafc8"/>
<circle cx="691.4" cy="850.1" r="3.92" fill="#4cafc8"/>
<circle cx="716.1" cy="850.1" r="3.43" fill="#4cafc8"/>
<circle cx="749.1" cy="850.1" r="4.41" fill="#4cafc8"/>
<circle cx="765.6" cy="850.1" r="3.43" fill="#4cafc8"/>
<circle cx="790.4" cy="850.1" r="3.43" fill="#4cafc8"/>
<circle cx="806.9" cy="850.1" r="5.00" fill="#4cafc8"/>
<circle cx="881.2" cy="850.1" r="4.31" fill="#4cafc8"/>
<circle cx="889.4" cy="850.1" r="3.92" fill="#4cafc8"/>
<circle cx="897.7" cy="850.1" r="3.92" fill="#4cafc8"/>
<circle cx="922.5" cy="850.1" r="3.43" fill="#4cafc8"/>
<circle cx="930.7" cy="850.1" r="4.61" fill="#4cafc8"/>
<circle cx="988.5" cy="850.1" r="3.72" fill="#4cafc8"/>
<circle cx="1021.5" cy="850.1" r="4.31" fill="#4cafc8"/>
<line x1="262.0" y1="869.7" x2="266.0" y2="869.7" stroke="#555" stroke-width="0.9"/>
<text x="258.0" y="872.8" font-size="8.7" text-anchor="end" textLength="17.8" lengthAdjust="spacingAndGlyphs">ME6</text>
<circle cx="344.7" cy="869.7" r="3.23" fill="#109a80"/>
<circle cx="369.4" cy="869.7" r="4.31" fill="#109a80"/>
<circle cx="377.7" cy="869.7" r="3.92" fill="#109a80"/>
<circle cx="394.2" cy="869.7" r="4.31" fill="#109a80"/>
<circle cx="410.7" cy="869.7" r="3.04" fill="#109a80"/>
<circle cx="443.7" cy="869.7" r="3.53" fill="#109a80"/>
<circle cx="452.0" cy="869.7" r="3.72" fill="#109a80"/>
<circle cx="485.0" cy="869.7" r="4.31" fill="#109a80"/>
<circle cx="509.8" cy="869.7" r="3.04" fill="#109a80"/>
<circle cx="526.3" cy="869.7" r="4.61" fill="#109a80"/>
<circle cx="575.8" cy="869.7" r="3.72" fill="#109a80"/>
<circle cx="592.3" cy="869.7" r="3.23" fill="#109a80"/>
<circle cx="625.3" cy="869.7" r="3.23" fill="#109a80"/>
<circle cx="650.1" cy="869.7" r="3.23" fill="#109a80"/>
<circle cx="658.3" cy="869.7" r="4.12" fill="#109a80"/>
<circle cx="683.1" cy="869.7" r="3.23" fill="#109a80"/>
<circle cx="790.4" cy="869.7" r="3.43" fill="#109a80"/>
<circle cx="823.4" cy="869.7" r="3.04" fill="#109a80"/>
<circle cx="831.7" cy="869.7" r="3.23" fill="#109a80"/>
<circle cx="872.9" cy="869.7" r="3.04" fill="#109a80"/>
<circle cx="889.4" cy="869.7" r="3.23" fill="#109a80"/>
<circle cx="922.5" cy="869.7" r="3.53" fill="#109a80"/>
<circle cx="930.7" cy="869.7" r="3.04" fill="#109a80"/>
<circle cx="955.5" cy="869.7" r="3.53" fill="#109a80"/>
<circle cx="988.5" cy="869.7" r="3.92" fill="#109a80"/>
<circle cx="1005.0" cy="869.7" r="3.72" fill="#109a80"/>
<circle cx="1021.5" cy="869.7" r="3.04" fill="#109a80"/>
<line x1="262.0" y1="889.7" x2="266.0" y2="889.7" stroke="#555" stroke-width="0.9"/>
<text x="258.0" y="892.8" font-size="8.7" text-anchor="end" textLength="17.8" lengthAdjust="spacingAndGlyphs">ME5</text>
<circle cx="344.7" cy="889.7" r="2.35" fill="#d34d35"/>
<circle cx="394.2" cy="889.7" r="3.23" fill="#d34d35"/>
<circle cx="410.7" cy="889.7" r="2.16" fill="#d34d35"/>
<circle cx="443.7" cy="889.7" r="2.84" fill="#d34d35"/>
<circle cx="452.0" cy="889.7" r="2.84" fill="#d34d35"/>
<circle cx="485.0" cy="889.7" r="3.72" fill="#d34d35"/>
<circle cx="509.8" cy="889.7" r="1.96" fill="#d34d35"/>
<circle cx="575.8" cy="889.7" r="2.84" fill="#d34d35"/>
<circle cx="592.3" cy="889.7" r="2.35" fill="#d34d35"/>
<circle cx="650.1" cy="889.7" r="2.84" fill="#d34d35"/>
<circle cx="658.3" cy="889.7" r="3.53" fill="#d34d35"/>
<circle cx="782.1" cy="889.7" r="3.53" fill="#d34d35"/>
<circle cx="790.4" cy="889.7" r="2.35" fill="#d34d35"/>
<circle cx="831.7" cy="889.7" r="2.35" fill="#d34d35"/>
<circle cx="889.4" cy="889.7" r="2.35" fill="#d34d35"/>
<circle cx="922.5" cy="889.7" r="2.84" fill="#d34d35"/>
<circle cx="955.5" cy="889.7" r="2.55" fill="#d34d35"/>
<circle cx="988.5" cy="889.7" r="3.04" fill="#d34d35"/>
<circle cx="996.8" cy="889.7" r="3.53" fill="#d34d35"/>
<circle cx="1005.0" cy="889.7" r="2.55" fill="#d34d35"/>
<circle cx="1029.8" cy="889.7" r="3.04" fill="#d34d35"/>
<line x1="262.0" y1="909.4" x2="266.0" y2="909.4" stroke="#555" stroke-width="0.9"/>
<text x="258.0" y="912.5" font-size="8.7" text-anchor="end" textLength="17.8" lengthAdjust="spacingAndGlyphs">ME4</text>
<circle cx="716.1" cy="909.4" r="2.84" fill="#334d85"/>
<circle cx="782.1" cy="909.4" r="4.31" fill="#334d85"/>
<circle cx="996.8" cy="909.4" r="3.72" fill="#334d85"/>
<circle cx="1029.8" cy="909.4" r="3.72" fill="#334d85"/>
<line x1="262.0" y1="929.2" x2="266.0" y2="929.2" stroke="#555" stroke-width="0.9"/>
<text x="258.0" y="932.3" font-size="8.7" text-anchor="end" textLength="17.8" lengthAdjust="spacingAndGlyphs">ME3</text>
<circle cx="501.5" cy="929.2" r="3.04" fill="#cc1a20"/>
<circle cx="757.4" cy="929.2" r="4.12" fill="#cc1a20"/>
<circle cx="939.0" cy="929.2" r="3.92" fill="#cc1a20"/>
<circle cx="947.2" cy="929.2" r="3.92" fill="#cc1a20"/>
<circle cx="963.7" cy="929.2" r="3.72" fill="#cc1a20"/>
<circle cx="996.8" cy="929.2" r="3.43" fill="#cc1a20"/>
<circle cx="1029.8" cy="929.2" r="3.04" fill="#cc1a20"/>
<circle cx="1038.0" cy="929.2" r="4.12" fill="#cc1a20"/>
<line x1="262.0" y1="949.0" x2="266.0" y2="949.0" stroke="#555" stroke-width="0.9"/>
<text x="258.0" y="952.1" font-size="8.7" text-anchor="end" textLength="17.8" lengthAdjust="spacingAndGlyphs">ME2</text>
<circle cx="501.5" cy="949.0" r="3.04" fill="#8fcdb9"/>
<circle cx="757.4" cy="949.0" r="3.72" fill="#8fcdb9"/>
<circle cx="939.0" cy="949.0" r="3.92" fill="#8fcdb9"/>
<circle cx="947.2" cy="949.0" r="3.92" fill="#8fcdb9"/>
<circle cx="963.7" cy="949.0" r="3.92" fill="#8fcdb9"/>
<circle cx="996.8" cy="949.0" r="3.23" fill="#8fcdb9"/>
<circle cx="1013.3" cy="949.0" r="3.53" fill="#8fcdb9"/>
<circle cx="1029.8" cy="949.0" r="3.43" fill="#8fcdb9"/>
<circle cx="1038.0" cy="949.0" r="4.12" fill="#8fcdb9"/>
<line x1="262.0" y1="968.6" x2="266.0" y2="968.6" stroke="#555" stroke-width="0.9"/>
<text x="258.0" y="971.7" font-size="8.7" text-anchor="end" textLength="17.8" lengthAdjust="spacingAndGlyphs">ME1</text>
<circle cx="501.5" cy="968.6" r="3.53" fill="#ea967c"/>
<circle cx="757.4" cy="968.6" r="3.92" fill="#ea967c"/>
<circle cx="939.0" cy="968.6" r="3.92" fill="#ea967c"/>
<circle cx="963.7" cy="968.6" r="4.12" fill="#ea967c"/>
<circle cx="996.8" cy="968.6" r="3.23" fill="#ea967c"/>
<circle cx="1029.8" cy="968.6" r="3.43" fill="#ea967c"/>
<circle cx="1038.0" cy="968.6" r="4.12" fill="#ea967c"/>
<line x1="262.0" y1="988.3" x2="266.0" y2="988.3" stroke="#555" stroke-width="0.9"/>
<text x="258.0" y="991.4" font-size="8.7" text-anchor="end" textLength="17.8" lengthAdjust="spacingAndGlyphs">ME0</text>
<circle cx="270.4" cy="988.3" r="3.92" fill="#8491B4"/>
<circle cx="278.7" cy="988.3" r="3.43" fill="#8491B4"/>
<circle cx="286.9" cy="988.3" r="3.53" fill="#8491B4"/>
<circle cx="295.2" cy="988.3" r="3.43" fill="#8491B4"/>
<circle cx="303.4" cy="988.3" r="3.63" fill="#8491B4"/>
<circle cx="311.7" cy="988.3" r="3.43" fill="#8491B4"/>
<circle cx="319.9" cy="988.3" r="4.31" fill="#8491B4"/>
<circle cx="328.2" cy="988.3" r="4.31" fill="#8491B4"/>
<circle cx="336.4" cy="988.3" r="3.72" fill="#8491B4"/>
<circle cx="344.7" cy="988.3" r="3.43" fill="#8491B4"/>
<circle cx="352.9" cy="988.3" r="3.53" fill="#8491B4"/>
<circle cx="361.2" cy="988.3" r="4.31" fill="#8491B4"/>
<circle cx="377.7" cy="988.3" r="3.04" fill="#8491B4"/>
<circle cx="386.0" cy="988.3" r="3.33" fill="#8491B4"/>
<circle cx="402.5" cy="988.3" r="4.31" fill="#8491B4"/>
<circle cx="410.7" cy="988.3" r="3.53" fill="#8491B4"/>
<circle cx="419.0" cy="988.3" r="3.63" fill="#8491B4"/>
<circle cx="427.2" cy="988.3" r="3.72" fill="#8491B4"/>
<circle cx="435.5" cy="988.3" r="3.43" fill="#8491B4"/>
<circle cx="443.7" cy="988.3" r="3.14" fill="#8491B4"/>
<circle cx="452.0" cy="988.3" r="3.33" fill="#8491B4"/>
<circle cx="460.2" cy="988.3" r="3.92" fill="#8491B4"/>
<circle cx="468.5" cy="988.3" r="3.53" fill="#8491B4"/>
<circle cx="476.8" cy="988.3" r="4.80" fill="#8491B4"/>
<circle cx="493.3" cy="988.3" r="4.31" fill="#8491B4"/>
<circle cx="501.5" cy="988.3" r="3.53" fill="#8491B4"/>
<circle cx="509.8" cy="988.3" r="3.53" fill="#8491B4"/>
<circle cx="518.0" cy="988.3" r="3.92" fill="#8491B4"/>
<circle cx="542.8" cy="988.3" r="4.61" fill="#8491B4"/>
<circle cx="551.0" cy="988.3" r="4.80" fill="#8491B4"/>
<circle cx="559.3" cy="988.3" r="4.31" fill="#8491B4"/>
<circle cx="567.5" cy="988.3" r="4.80" fill="#8491B4"/>
<circle cx="584.1" cy="988.3" r="4.12" fill="#8491B4"/>
<circle cx="592.3" cy="988.3" r="3.72" fill="#8491B4"/>
<circle cx="617.1" cy="988.3" r="4.31" fill="#8491B4"/>
<circle cx="625.3" cy="988.3" r="3.72" fill="#8491B4"/>
<circle cx="650.1" cy="988.3" r="3.92" fill="#8491B4"/>
<circle cx="666.6" cy="988.3" r="3.92" fill="#8491B4"/>
<circle cx="683.1" cy="988.3" r="3.92" fill="#8491B4"/>
<circle cx="691.4" cy="988.3" r="3.23" fill="#8491B4"/>
<circle cx="699.6" cy="988.3" r="4.12" fill="#8491B4"/>
<circle cx="707.9" cy="988.3" r="4.31" fill="#8491B4"/>
<circle cx="716.1" cy="988.3" r="3.72" fill="#8491B4"/>
<circle cx="724.4" cy="988.3" r="4.12" fill="#8491B4"/>
<circle cx="732.6" cy="988.3" r="4.31" fill="#8491B4"/>
<circle cx="740.9" cy="988.3" r="4.12" fill="#8491B4"/>
<circle cx="757.4" cy="988.3" r="3.53" fill="#8491B4"/>
<circle cx="765.6" cy="988.3" r="3.92" fill="#8491B4"/>
<circle cx="773.9" cy="988.3" r="3.92" fill="#8491B4"/>
<circle cx="782.1" cy="988.3" r="3.04" fill="#8491B4"/>
<circle cx="790.4" cy="988.3" r="3.53" fill="#8491B4"/>
<circle cx="798.7" cy="988.3" r="3.92" fill="#8491B4"/>
<circle cx="815.2" cy="988.3" r="4.12" fill="#8491B4"/>
<circle cx="823.4" cy="988.3" r="4.12" fill="#8491B4"/>
<circle cx="831.7" cy="988.3" r="3.72" fill="#8491B4"/>
<circle cx="839.9" cy="988.3" r="4.12" fill="#8491B4"/>
<circle cx="848.2" cy="988.3" r="4.12" fill="#8491B4"/>
<circle cx="856.4" cy="988.3" r="4.12" fill="#8491B4"/>
<circle cx="864.7" cy="988.3" r="3.72" fill="#8491B4"/>
<circle cx="872.9" cy="988.3" r="3.92" fill="#8491B4"/>
<circle cx="897.7" cy="988.3" r="3.23" fill="#8491B4"/>
<circle cx="906.0" cy="988.3" r="4.12" fill="#8491B4"/>
<circle cx="914.2" cy="988.3" r="4.12" fill="#8491B4"/>
<circle cx="922.5" cy="988.3" r="3.23" fill="#8491B4"/>
<circle cx="939.0" cy="988.3" r="3.72" fill="#8491B4"/>
<circle cx="947.2" cy="988.3" r="3.92" fill="#8491B4"/>
<circle cx="955.5" cy="988.3" r="3.72" fill="#8491B4"/>
<circle cx="963.7" cy="988.3" r="3.43" fill="#8491B4"/>
<circle cx="972.0" cy="988.3" r="4.31" fill="#8491B4"/>
<circle cx="980.2" cy="988.3" r="4.12" fill="#8491B4"/>
<circle cx="996.8" cy="988.3" r="3.04" fill="#8491B4"/>
<circle cx="1005.0" cy="988.3" r="3.23" fill="#8491B4"/>
<circle cx="1013.3" cy="988.3" r="3.92" fill="#8491B4"/>
<circle cx="1029.8" cy="988.3" r="3.72" fill="#8491B4"/>
<circle cx="1038.0" cy="988.3" r="3.43" fill="#8491B4"/>
<text font-size="8.6" text-anchor="end" fill="#222" transform="translate(273.5 1004.6) rotate(-90)">BAFF</text>
<text font-size="8.6" text-anchor="end" fill="#222" transform="translate(281.8 1004.6) rotate(-90)">CSF3</text>
<text font-size="8.6" text-anchor="end" fill="#222" transform="translate(290.0 1004.6) rotate(-90)">NGF</text>
<text font-size="8.6" text-anchor="end" fill="#222" transform="translate(298.3 1004.6) rotate(-90)">NPR2</text>
<text font-size="8.6" text-anchor="end" fill="#222" transform="translate(306.5 1004.6) rotate(-90)">GAP</text>
<text font-size="8.6" text-anchor="end" fill="#222" transform="translate(314.8 1004.6) rotate(-90)">CD86</text>
<text font-size="8.6" text-anchor="end" fill="#222" transform="translate(323.0 1004.6) rotate(-90)">OPIOID</text>
<text font-size="8.6" text-anchor="end" fill="#222" transform="translate(331.3 1004.6) rotate(-90)">Netrin</text>
<text font-size="8.6" text-anchor="end" fill="#222" transform="translate(339.5 1004.6) rotate(-90)">THY1</text>
<text font-size="8.6" text-anchor="end" fill="#222" transform="translate(347.8 1004.6) rotate(-90)">EPO</text>
<text font-size="8.6" text-anchor="end" fill="#222" transform="translate(356.0 1004.6) rotate(-90)">CDH5</text>
<text font-size="8.6" text-anchor="end" fill="#222" transform="translate(364.3 1004.6) rotate(-90)">LIGHT</text>
<text font-size="8.6" text-anchor="end" fill="#222" transform="translate(372.5 1004.6) rotate(-90)">EDN</text>
<text font-size="8.6" text-anchor="end" fill="#222" transform="translate(380.8 1004.6) rotate(-90)">NGL</text>
<text font-size="8.6" text-anchor="end" fill="#222" transform="translate(389.1 1004.6) rotate(-90)">L1CAM</text>
<text font-size="8.6" text-anchor="end" fill="#222" transform="translate(397.3 1004.6) rotate(-90)">KIT</text>
<text font-size="8.6" text-anchor="end" fill="#222" transform="translate(405.6 1004.6) rotate(-90)">SEMA6</text>
<text font-size="8.6" text-anchor="end" fill="#222" transform="translate(413.8 1004.6) rotate(-90)">CD23</text>
<text font-size="8.6" text-anchor="end" fill="#222" transform="translate(422.1 1004.6) rotate(-90)">MSTN</text>
<text font-size="8.6" text-anchor="end" fill="#222" transform="translate(430.3 1004.6) rotate(-90)">HSPG</text>
<text font-size="8.6" text-anchor="end" fill="#222" transform="translate(438.6 1004.6) rotate(-90)">ICAM</text>
<text font-size="8.6" text-anchor="end" fill="#222" transform="translate(446.8 1004.6) rotate(-90)">CXCL</text>
<text font-size="8.6" text-anchor="end" fill="#222" transform="translate(455.1 1004.6) rotate(-90)">OCLN</text>
<text font-size="8.6" text-anchor="end" fill="#222" transform="translate(463.3 1004.6) rotate(-90)">FASLG</text>
<text font-size="8.6" text-anchor="end" fill="#222" transform="translate(471.6 1004.6) rotate(-90)">GP1BA</text>
<text font-size="8.6" text-anchor="end" fill="#222" transform="translate(479.9 1004.6) rotate(-90)">LT</text>
<text font-size="8.6" text-anchor="end" fill="#222" transform="translate(488.1 1004.6) rotate(-90)">ACTIVIN</text>
<text font-size="8.6" text-anchor="end" fill="#222" transform="translate(496.4 1004.6) rotate(-90)">ADGRG</text>
<text font-size="8.6" text-anchor="end" fill="#222" transform="translate(504.6 1004.6) rotate(-90)">PSAP</text>
<text font-size="8.6" text-anchor="end" fill="#222" transform="translate(512.9 1004.6) rotate(-90)">VWF</text>
<text font-size="8.6" text-anchor="end" fill="#222" transform="translate(521.1 1004.6) rotate(-90)">IFN−II</text>
<text font-size="8.6" text-anchor="end" fill="#222" transform="translate(529.4 1004.6) rotate(-90)">PTPR</text>
<text font-size="8.6" text-anchor="end" fill="#222" transform="translate(537.6 1004.6) rotate(-90)">CDH</text>
<text font-size="8.6" text-anchor="end" fill="#222" transform="translate(545.9 1004.6) rotate(-90)">PARs</text>
<text font-size="8.6" text-anchor="end" fill="#222" transform="translate(554.1 1004.6) rotate(-90)">TNF</text>
<text font-size="8.6" text-anchor="end" fill="#222" transform="translate(562.4 1004.6) rotate(-90)">Desmosterol</text>
<text font-size="8.6" text-anchor="end" fill="#222" transform="translate(570.6 1004.6) rotate(-90)">IL1</text>
<text font-size="8.6" text-anchor="end" fill="#222" transform="translate(578.9 1004.6) rotate(-90)">NOTCH</text>
<text font-size="8.6" text-anchor="end" fill="#222" transform="translate(587.2 1004.6) rotate(-90)">IL2</text>
<text font-size="8.6" text-anchor="end" fill="#222" transform="translate(595.4 1004.6) rotate(-90)">IL6</text>
<text font-size="8.6" text-anchor="end" fill="#222" transform="translate(603.7 1004.6) rotate(-90)">GDNF</text>
<text font-size="8.6" text-anchor="end" fill="#222" transform="translate(611.9 1004.6) rotate(-90)">CD99</text>
<text font-size="8.6" text-anchor="end" fill="#222" transform="translate(620.2 1004.6) rotate(-90)">Adenosine</text>
<text font-size="8.6" text-anchor="end" fill="#222" transform="translate(628.4 1004.6) rotate(-90)">LIFR</text>
<text font-size="8.6" text-anchor="end" fill="#222" transform="translate(636.7 1004.6) rotate(-90)">DESMOSOME</text>
<text font-size="8.6" text-anchor="end" fill="#222" transform="translate(644.9 1004.6) rotate(-90)">PTPRM</text>
<text font-size="8.6" text-anchor="end" fill="#222" transform="translate(653.2 1004.6) rotate(-90)">OSM</text>
<text font-size="8.6" text-anchor="end" fill="#222" transform="translate(661.4 1004.6) rotate(-90)">GAS</text>
<text font-size="8.6" text-anchor="end" fill="#222" transform="translate(669.7 1004.6) rotate(-90)">CD46</text>
<text font-size="8.6" text-anchor="end" fill="#222" transform="translate(677.9 1004.6) rotate(-90)">NT</text>
<text font-size="8.6" text-anchor="end" fill="#222" transform="translate(686.2 1004.6) rotate(-90)">Testosterone</text>
<text font-size="8.6" text-anchor="end" fill="#222" transform="translate(694.5 1004.6) rotate(-90)">BMP</text>
<text font-size="8.6" text-anchor="end" fill="#222" transform="translate(702.7 1004.6) rotate(-90)">IL17</text>
<text font-size="8.6" text-anchor="end" fill="#222" transform="translate(711.0 1004.6) rotate(-90)">GRN</text>
<text font-size="8.6" text-anchor="end" fill="#222" transform="translate(719.2 1004.6) rotate(-90)">CSF</text>
<text font-size="8.6" text-anchor="end" fill="#222" transform="translate(727.5 1004.6) rotate(-90)">IL4</text>
<text font-size="8.6" text-anchor="end" fill="#222" transform="translate(735.7 1004.6) rotate(-90)">VEGF</text>
<text font-size="8.6" text-anchor="end" fill="#222" transform="translate(744.0 1004.6) rotate(-90)">SEMA3</text>
<text font-size="8.6" text-anchor="end" fill="#222" transform="translate(752.2 1004.6) rotate(-90)">IGFBP</text>
<text font-size="8.6" text-anchor="end" fill="#222" transform="translate(760.5 1004.6) rotate(-90)">CCL</text>
<text font-size="8.6" text-anchor="end" fill="#222" transform="translate(768.7 1004.6) rotate(-90)">PDGF</text>
<text font-size="8.6" text-anchor="end" fill="#222" transform="translate(777.0 1004.6) rotate(-90)">EPHB</text>
<text font-size="8.6" text-anchor="end" fill="#222" transform="translate(785.2 1004.6) rotate(-90)">RELN</text>
<text font-size="8.6" text-anchor="end" fill="#222" transform="translate(793.5 1004.6) rotate(-90)">HGF</text>
<text font-size="8.6" text-anchor="end" fill="#222" transform="translate(801.8 1004.6) rotate(-90)">MPZ</text>
<text font-size="8.6" text-anchor="end" fill="#222" transform="translate(810.0 1004.6) rotate(-90)">NECTIN</text>
<text font-size="8.6" text-anchor="end" fill="#222" transform="translate(818.3 1004.6) rotate(-90)">Cholesterol</text>
<text font-size="8.6" text-anchor="end" fill="#222" transform="translate(826.5 1004.6) rotate(-90)">VISFATIN</text>
<text font-size="8.6" text-anchor="end" fill="#222" transform="translate(834.8 1004.6) rotate(-90)">ADGRE</text>
<text font-size="8.6" text-anchor="end" fill="#222" transform="translate(843.0 1004.6) rotate(-90)">SEMA4</text>
<text font-size="8.6" text-anchor="end" fill="#222" transform="translate(851.3 1004.6) rotate(-90)">PCDH</text>
<text font-size="8.6" text-anchor="end" fill="#222" transform="translate(859.5 1004.6) rotate(-90)">JAM</text>
<text font-size="8.6" text-anchor="end" fill="#222" transform="translate(867.8 1004.6) rotate(-90)">Estradiol</text>
<text font-size="8.6" text-anchor="end" fill="#222" transform="translate(876.0 1004.6) rotate(-90)">CD6</text>
<text font-size="8.6" text-anchor="end" fill="#222" transform="translate(884.3 1004.6) rotate(-90)">FGF</text>
<text font-size="8.6" text-anchor="end" fill="#222" transform="translate(892.5 1004.6) rotate(-90)">THBS</text>
<text font-size="8.6" text-anchor="end" fill="#222" transform="translate(900.8 1004.6) rotate(-90)">IGF</text>
<text font-size="8.6" text-anchor="end" fill="#222" transform="translate(909.1 1004.6) rotate(-90)">FN1</text>
<text font-size="8.6" text-anchor="end" fill="#222" transform="translate(917.3 1004.6) rotate(-90)">TGFb</text>
<text font-size="8.6" text-anchor="end" fill="#222" transform="translate(925.6 1004.6) rotate(-90)">NRG</text>
<text font-size="8.6" text-anchor="end" fill="#222" transform="translate(933.8 1004.6) rotate(-90)">COLLAGEN</text>
<text font-size="8.6" text-anchor="end" fill="#222" transform="translate(942.1 1004.6) rotate(-90)">DHEAS</text>
<text font-size="8.6" text-anchor="end" fill="#222" transform="translate(950.3 1004.6) rotate(-90)">COMPLEMENT</text>
<text font-size="8.6" text-anchor="end" fill="#222" transform="translate(958.6 1004.6) rotate(-90)">EGF</text>
<text font-size="8.6" text-anchor="end" fill="#222" transform="translate(966.8 1004.6) rotate(-90)">Prostaglandin</text>
<text font-size="8.6" text-anchor="end" fill="#222" transform="translate(975.1 1004.6) rotate(-90)">CADM</text>
<text font-size="8.6" text-anchor="end" fill="#222" transform="translate(983.3 1004.6) rotate(-90)">EPHA</text>
<text font-size="8.6" text-anchor="end" fill="#222" transform="translate(991.6 1004.6) rotate(-90)">PTN</text>
<text font-size="8.6" text-anchor="end" fill="#222" transform="translate(999.9 1004.6) rotate(-90)">MIF</text>
<text font-size="8.6" text-anchor="end" fill="#222" transform="translate(1008.1 1004.6) rotate(-90)">APP</text>
<text font-size="8.6" text-anchor="end" fill="#222" transform="translate(1016.4 1004.6) rotate(-90)">ANGPTL</text>
<text font-size="8.6" text-anchor="end" fill="#222" transform="translate(1024.6 1004.6) rotate(-90)">LAMININ</text>
<text font-size="8.6" text-anchor="end" fill="#222" transform="translate(1032.9 1004.6) rotate(-90)">CLDN</text>
<text font-size="8.6" text-anchor="end" fill="#222" transform="translate(1041.1 1004.6) rotate(-90)">SPP1</text>
<path d="M270.4 997.7v3.2M278.7 997.7v3.2M286.9 997.7v3.2M295.2 997.7v3.2M303.4 997.7v3.2M311.7 997.7v3.2M319.9 997.7v3.2M328.2 997.7v3.2M336.4 997.7v3.2M344.7 997.7v3.2M352.9 997.7v3.2M361.2 997.7v3.2M369.4 997.7v3.2M377.7 997.7v3.2M386.0 997.7v3.2M394.2 997.7v3.2M402.5 997.7v3.2M410.7 997.7v3.2M419.0 997.7v3.2M427.2 997.7v3.2M435.5 997.7v3.2M443.7 997.7v3.2M452.0 997.7v3.2M460.2 997.7v3.2M468.5 997.7v3.2M476.8 997.7v3.2M485.0 997.7v3.2M493.3 997.7v3.2M501.5 997.7v3.2M509.8 997.7v3.2M518.0 997.7v3.2M526.3 997.7v3.2M534.5 997.7v3.2M542.8 997.7v3.2M551.0 997.7v3.2M559.3 997.7v3.2M567.5 997.7v3.2M575.8 997.7v3.2M584.1 997.7v3.2M592.3 997.7v3.2M600.6 997.7v3.2M608.8 997.7v3.2M617.1 997.7v3.2M625.3 997.7v3.2M633.6 997.7v3.2M641.8 997.7v3.2M650.1 997.7v3.2M658.3 997.7v3.2M666.6 997.7v3.2M674.8 997.7v3.2M683.1 997.7v3.2M691.4 997.7v3.2M699.6 997.7v3.2M707.9 997.7v3.2M716.1 997.7v3.2M724.4 997.7v3.2M732.6 997.7v3.2M740.9 997.7v3.2M749.1 997.7v3.2M757.4 997.7v3.2M765.6 997.7v3.2M773.9 997.7v3.2M782.1 997.7v3.2M790.4 997.7v3.2M798.7 997.7v3.2M806.9 997.7v3.2M815.2 997.7v3.2M823.4 997.7v3.2M831.7 997.7v3.2M839.9 997.7v3.2M848.2 997.7v3.2M856.4 997.7v3.2M864.7 997.7v3.2M872.9 997.7v3.2M881.2 997.7v3.2M889.4 997.7v3.2M897.7 997.7v3.2M906.0 997.7v3.2M914.2 997.7v3.2M922.5 997.7v3.2M930.7 997.7v3.2M939.0 997.7v3.2M947.2 997.7v3.2M955.5 997.7v3.2M963.7 997.7v3.2M972.0 997.7v3.2M980.2 997.7v3.2M988.5 997.7v3.2M996.8 997.7v3.2M1005.0 997.7v3.2M1013.3 997.7v3.2M1021.5 997.7v3.2M1029.8 997.7v3.2M1038.0 997.7v3.2" stroke="#555" stroke-width="0.8" fill="none"/>
<text x="364.2" y="1070.8" font-size="14.4" textLength="85.9" lengthAdjust="spacingAndGlyphs">Contribution</text>
<circle cx="464.1" cy="1068.2" r="2.70" fill="none" stroke="#111" stroke-width="1.4"/>
<text x="464.1" y="1087.5" font-size="11.8" text-anchor="middle" textLength="24.8" lengthAdjust="spacingAndGlyphs">0.25</text>
<circle cx="493.1" cy="1068.2" r="3.50" fill="none" stroke="#111" stroke-width="1.4"/>
<text x="493.1" y="1087.5" font-size="11.8" text-anchor="middle" textLength="24.8" lengthAdjust="spacingAndGlyphs">0.50</text>
<circle cx="523.8" cy="1068.2" r="4.20" fill="none" stroke="#111" stroke-width="1.4"/>
<text x="523.8" y="1087.5" font-size="11.8" text-anchor="middle" textLength="24.8" lengthAdjust="spacingAndGlyphs">0.75</text>
</g>
<g id="panel-h">
<text x="16.0" y="1111.0" font-size="20.5" font-weight="bold" fill="#000" stroke="#000" stroke-width="1.0" stroke-linejoin="round">h</text>
<text x="137.0" y="1155.8" font-size="14.4" text-anchor="middle" textLength="178.0" lengthAdjust="spacingAndGlyphs">Outgoing communication</text>
<text x="137.4" y="1172.9" font-size="14.4" text-anchor="middle" textLength="109.8" lengthAdjust="spacingAndGlyphs">patterns of ME6</text>
<line x1="66.4" y1="1182.2" x2="66.4" y2="1338.9" stroke="#555" stroke-width="1"/>
<line x1="65.9" y1="1338.4" x2="233.9" y2="1338.4" stroke="#555" stroke-width="1"/>
<line x1="61.9" y1="1193.3" x2="66.4" y2="1193.3" stroke="#555" stroke-width="1"/>
<text x="57.6" y="1197.6" font-size="12" text-anchor="end" textLength="24.6" lengthAdjust="spacingAndGlyphs">EDN</text>
<line x1="61.9" y1="1233.8" x2="66.4" y2="1233.8" stroke="#555" stroke-width="1"/>
<text x="57.6" y="1238.1" font-size="12" text-anchor="end" textLength="18.1" lengthAdjust="spacingAndGlyphs">KIT</text>
<line x1="61.9" y1="1274.2" x2="66.4" y2="1274.2" stroke="#555" stroke-width="1"/>
<text x="57.6" y="1278.5" font-size="12" text-anchor="end" textLength="45.9" lengthAdjust="spacingAndGlyphs">ACTIVIN</text>
<line x1="61.9" y1="1314.7" x2="66.4" y2="1314.7" stroke="#555" stroke-width="1"/>
<text x="57.6" y="1319.0" font-size="12" text-anchor="end" textLength="31.0" lengthAdjust="spacingAndGlyphs">PTPR</text>
<line x1="79.0" y1="1338.4" x2="79.0" y2="1344.0" stroke="#555" stroke-width="1"/>
<text font-size="12.4" text-anchor="end" textLength="27.0" lengthAdjust="spacingAndGlyphs" transform="translate(86.2 1354.2) rotate(-45)">ME0</text>
<line x1="99.5" y1="1338.4" x2="99.5" y2="1344.0" stroke="#555" stroke-width="1"/>
<text font-size="12.4" text-anchor="end" textLength="27.0" lengthAdjust="spacingAndGlyphs" transform="translate(106.7 1354.2) rotate(-45)">ME1</text>
<line x1="120.0" y1="1338.4" x2="120.0" y2="1344.0" stroke="#555" stroke-width="1"/>
<text font-size="12.4" text-anchor="end" textLength="27.0" lengthAdjust="spacingAndGlyphs" transform="translate(127.2 1354.2) rotate(-45)">ME2</text>
<line x1="140.5" y1="1338.4" x2="140.5" y2="1344.0" stroke="#555" stroke-width="1"/>
<text font-size="12.4" text-anchor="end" textLength="27.0" lengthAdjust="spacingAndGlyphs" transform="translate(147.7 1354.2) rotate(-45)">ME3</text>
<line x1="161.0" y1="1338.4" x2="161.0" y2="1344.0" stroke="#555" stroke-width="1"/>
<text font-size="12.4" text-anchor="end" textLength="27.0" lengthAdjust="spacingAndGlyphs" transform="translate(168.2 1354.2) rotate(-45)">ME4</text>
<line x1="181.5" y1="1338.4" x2="181.5" y2="1344.0" stroke="#555" stroke-width="1"/>
<text font-size="12.4" text-anchor="end" textLength="27.0" lengthAdjust="spacingAndGlyphs" transform="translate(188.7 1354.2) rotate(-45)">ME5</text>
<line x1="202.0" y1="1338.4" x2="202.0" y2="1344.0" stroke="#555" stroke-width="1"/>
<text font-size="12.4" text-anchor="end" textLength="27.0" lengthAdjust="spacingAndGlyphs" transform="translate(209.2 1354.2) rotate(-45)">ME6</text>
<line x1="222.5" y1="1338.4" x2="222.5" y2="1344.0" stroke="#555" stroke-width="1"/>
<text font-size="12.4" text-anchor="end" textLength="27.0" lengthAdjust="spacingAndGlyphs" transform="translate(229.7 1354.2) rotate(-45)">ME7</text>
<circle cx="202.0" cy="1193.3" r="5.80" fill="none" stroke="#0a0a0a" stroke-width="1.8"/>
<circle cx="181.5" cy="1233.8" r="2.50" fill="none" stroke="#0a0a0a" stroke-width="1.6"/>
<circle cx="202.0" cy="1233.8" r="5.50" fill="none" stroke="#0a0a0a" stroke-width="1.8"/>
<circle cx="181.5" cy="1274.2" r="2.30" fill="none" stroke="#0a0a0a" stroke-width="1.6"/>
<circle cx="202.0" cy="1274.2" r="5.50" fill="none" stroke="#0a0a0a" stroke-width="1.8"/>
<circle cx="202.0" cy="1314.7" r="5.80" fill="none" stroke="#0a0a0a" stroke-width="1.8"/>
<text x="51.9" y="1399.6" font-size="14.4" textLength="86.9" lengthAdjust="spacingAndGlyphs">Contribution</text>
<circle cx="150.7" cy="1394.6" r="3.10" fill="none" stroke="#111" stroke-width="1.5"/>
<text x="150.5" y="1412.9" font-size="12.6" text-anchor="middle" textLength="19.3" lengthAdjust="spacingAndGlyphs">0.4</text>
<circle cx="175.2" cy="1394.6" r="3.80" fill="none" stroke="#111" stroke-width="1.5"/>
<text x="175.0" y="1412.9" font-size="12.6" text-anchor="middle" textLength="19.3" lengthAdjust="spacingAndGlyphs">0.6</text>
<circle cx="201.5" cy="1394.6" r="4.60" fill="none" stroke="#111" stroke-width="1.5"/>
<text x="201.3" y="1412.9" font-size="12.6" text-anchor="middle" textLength="19.3" lengthAdjust="spacingAndGlyphs">0.8</text>
</g>
<g id="panel-i">
<text x="264.3" y="1110.6" font-size="20.5" font-weight="bold" fill="#000" stroke="#000" stroke-width="1.0" stroke-linejoin="round">i</text>
<rect x="447.30" y="1142.50" width="197.20" height="227.20" fill="none" stroke="#555" stroke-width="1"/>
<line x1="441.6" y1="1157.2" x2="447.3" y2="1157.2" stroke="#555" stroke-width="1"/>
<text x="438.9" y="1161.1" font-size="11" text-anchor="end" textLength="98.0" lengthAdjust="spacingAndGlyphs">LRRC4C − PTPRF</text>
<line x1="441.6" y1="1181.8" x2="447.3" y2="1181.8" stroke="#555" stroke-width="1"/>
<text x="438.9" y="1185.7" font-size="11" text-anchor="end" textLength="56.5" lengthAdjust="spacingAndGlyphs">KITL − KIT</text>
<line x1="441.6" y1="1206.4" x2="447.3" y2="1206.4" stroke="#555" stroke-width="1"/>
<text x="438.9" y="1210.3" font-size="11" text-anchor="end" textLength="159.5" lengthAdjust="spacingAndGlyphs">INHBB − (ACVR1B+ACVR2B)</text>
<line x1="441.6" y1="1231.0" x2="447.3" y2="1231.0" stroke="#555" stroke-width="1"/>
<text x="438.9" y="1234.9" font-size="11" text-anchor="end" textLength="159.5" lengthAdjust="spacingAndGlyphs">INHBB − (ACVR1B+ACVR2A)</text>
<line x1="441.6" y1="1255.6" x2="447.3" y2="1255.6" stroke="#555" stroke-width="1"/>
<text x="438.9" y="1259.5" font-size="11" text-anchor="end" textLength="175.2" lengthAdjust="spacingAndGlyphs">INHBABB − (ACVR1B+ACVR2B)</text>
<line x1="441.6" y1="1280.2" x2="447.3" y2="1280.2" stroke="#555" stroke-width="1"/>
<text x="438.9" y="1284.1" font-size="11" text-anchor="end" textLength="175.7" lengthAdjust="spacingAndGlyphs">INHBABB − (ACVR1B+ACVR2A)</text>
<line x1="441.6" y1="1304.8" x2="447.3" y2="1304.8" stroke="#555" stroke-width="1"/>
<text x="438.9" y="1308.7" font-size="11" text-anchor="end" textLength="160.0" lengthAdjust="spacingAndGlyphs">INHBA − (ACVR1B+ACVR2B)</text>
<line x1="441.6" y1="1329.4" x2="447.3" y2="1329.4" stroke="#555" stroke-width="1"/>
<text x="438.9" y="1333.3" font-size="11" text-anchor="end" textLength="160.5" lengthAdjust="spacingAndGlyphs">INHBA − (ACVR1B+ACVR2A)</text>
<line x1="441.6" y1="1354.0" x2="447.3" y2="1354.0" stroke="#555" stroke-width="1"/>
<text x="438.9" y="1357.9" font-size="11" text-anchor="end" textLength="84.0" lengthAdjust="spacingAndGlyphs">EDN1 − EDNRA</text>
<line x1="461.0" y1="1369.7" x2="461.0" y2="1374.6" stroke="#555" stroke-width="1"/>
<text font-size="11.4" text-anchor="end" textLength="69.2" lengthAdjust="spacingAndGlyphs" transform="translate(468.5 1383.8) rotate(-45)">ME6 −&gt; ME0</text>
<line x1="485.1" y1="1369.7" x2="485.1" y2="1374.6" stroke="#555" stroke-width="1"/>
<text font-size="11.4" text-anchor="end" textLength="69.2" lengthAdjust="spacingAndGlyphs" transform="translate(492.6 1383.8) rotate(-45)">ME6 −&gt; ME1</text>
<line x1="509.2" y1="1369.7" x2="509.2" y2="1374.6" stroke="#555" stroke-width="1"/>
<text font-size="11.4" text-anchor="end" textLength="69.2" lengthAdjust="spacingAndGlyphs" transform="translate(516.7 1383.8) rotate(-45)">ME6 −&gt; ME2</text>
<line x1="533.3" y1="1369.7" x2="533.3" y2="1374.6" stroke="#555" stroke-width="1"/>
<text font-size="11.4" text-anchor="end" textLength="69.2" lengthAdjust="spacingAndGlyphs" transform="translate(540.8 1383.8) rotate(-45)">ME6 −&gt; ME3</text>
<line x1="557.4" y1="1369.7" x2="557.4" y2="1374.6" stroke="#555" stroke-width="1"/>
<text font-size="11.4" text-anchor="end" textLength="69.2" lengthAdjust="spacingAndGlyphs" transform="translate(564.9 1383.8) rotate(-45)">ME6 −&gt; ME4</text>
<line x1="581.5" y1="1369.7" x2="581.5" y2="1374.6" stroke="#555" stroke-width="1"/>
<text font-size="11.4" text-anchor="end" textLength="69.2" lengthAdjust="spacingAndGlyphs" transform="translate(589.0 1383.8) rotate(-45)">ME6 −&gt; ME5</text>
<line x1="605.6" y1="1369.7" x2="605.6" y2="1374.6" stroke="#555" stroke-width="1"/>
<text font-size="11.4" text-anchor="end" textLength="69.2" lengthAdjust="spacingAndGlyphs" transform="translate(613.1 1383.8) rotate(-45)">ME6 −&gt; ME6</text>
<line x1="629.7" y1="1369.7" x2="629.7" y2="1374.6" stroke="#555" stroke-width="1"/>
<text font-size="11.4" text-anchor="end" textLength="69.2" lengthAdjust="spacingAndGlyphs" transform="translate(637.2 1383.8) rotate(-45)">ME6 −&gt; ME7</text>
<circle cx="461.0" cy="1157.2" r="5.30" fill="#9e0142"/>
<circle cx="485.1" cy="1157.2" r="5.30" fill="#3a7eb8"/>
<circle cx="509.2" cy="1157.2" r="5.30" fill="#6ec2a5"/>
<circle cx="533.3" cy="1157.2" r="5.30" fill="#3a7eb8"/>
<circle cx="557.4" cy="1157.2" r="5.30" fill="#7cc9a5"/>
<circle cx="581.5" cy="1157.2" r="5.30" fill="#6ec2a5"/>
<circle cx="605.6" cy="1157.2" r="5.30" fill="#f5975a"/>
<circle cx="629.7" cy="1157.2" r="5.30" fill="#d9ee9a"/>
<circle cx="461.0" cy="1181.8" r="5.30" fill="#f9a55c"/>
<circle cx="485.1" cy="1181.8" r="5.30" fill="#a8dba4"/>
<circle cx="509.2" cy="1181.8" r="5.30" fill="#c8e79e"/>
<circle cx="533.3" cy="1181.8" r="5.30" fill="#70c4a5"/>
<circle cx="557.4" cy="1181.8" r="5.30" fill="#c0e4a0"/>
<circle cx="581.5" cy="1181.8" r="5.30" fill="#b0dea3"/>
<circle cx="605.6" cy="1181.8" r="5.30" fill="#fddc8a"/>
<circle cx="629.7" cy="1181.8" r="5.30" fill="#fdd884"/>
<circle cx="461.0" cy="1206.4" r="5.30" fill="#f7965a"/>
<circle cx="485.1" cy="1206.4" r="5.30" fill="#62b8a8"/>
<circle cx="509.2" cy="1206.4" r="5.30" fill="#90d0a5"/>
<circle cx="533.3" cy="1206.4" r="5.30" fill="#5ab0aa"/>
<circle cx="557.4" cy="1206.4" r="5.30" fill="#88cea5"/>
<circle cx="581.5" cy="1206.4" r="5.30" fill="#a5daa4"/>
<circle cx="605.6" cy="1206.4" r="5.30" fill="#f9e08d"/>
<circle cx="629.7" cy="1206.4" r="5.30" fill="#fdd582"/>
<circle cx="461.0" cy="1231.0" r="5.30" fill="#ef6a45"/>
<circle cx="485.1" cy="1231.0" r="5.30" fill="#3d85ba"/>
<circle cx="509.2" cy="1231.0" r="5.30" fill="#55aaac"/>
<circle cx="533.3" cy="1231.0" r="5.30" fill="#3a80b9"/>
<circle cx="557.4" cy="1231.0" r="5.30" fill="#4f9fb0"/>
<circle cx="581.5" cy="1231.0" r="5.30" fill="#5fb8a8"/>
<circle cx="605.6" cy="1231.0" r="5.30" fill="#fdd986"/>
<circle cx="629.7" cy="1231.0" r="5.30" fill="#fdd380"/>
<circle cx="461.0" cy="1255.6" r="5.30" fill="#f3e88f"/>
<circle cx="485.1" cy="1255.6" r="5.30" fill="#3a80b9"/>
<circle cx="509.2" cy="1255.6" r="5.30" fill="#4f9fb0"/>
<circle cx="533.3" cy="1255.6" r="5.30" fill="#4272b4"/>
<circle cx="557.4" cy="1255.6" r="5.30" fill="#4595b3"/>
<circle cx="581.5" cy="1255.6" r="5.30" fill="#58b0aa"/>
<circle cx="605.6" cy="1255.6" r="5.30" fill="#c5e69f"/>
<circle cx="629.7" cy="1255.6" r="5.30" fill="#c5e69f"/>
<circle cx="461.0" cy="1280.2" r="5.30" fill="#fdcb7a"/>
<circle cx="485.1" cy="1280.2" r="5.30" fill="#5e55a5"/>
<circle cx="509.2" cy="1280.2" r="5.30" fill="#3d75b5"/>
<circle cx="533.3" cy="1280.2" r="5.30" fill="#5e55a5"/>
<circle cx="557.4" cy="1280.2" r="5.30" fill="#4568b0"/>
<circle cx="581.5" cy="1280.2" r="5.30" fill="#3a80b9"/>
<circle cx="605.6" cy="1280.2" r="5.30" fill="#c0e4a0"/>
<circle cx="629.7" cy="1280.2" r="5.30" fill="#d2ea9c"/>
<circle cx="461.0" cy="1304.8" r="5.30" fill="#bce2a1"/>
<circle cx="557.4" cy="1304.8" r="3.00" fill="#4568b0"/>
<circle cx="581.5" cy="1304.8" r="5.30" fill="#3a78b7"/>
<circle cx="605.6" cy="1304.8" r="5.30" fill="#7ccaa5"/>
<circle cx="629.7" cy="1304.8" r="5.30" fill="#80cca5"/>
<circle cx="461.0" cy="1329.4" r="5.30" fill="#d8ee9b"/>
<circle cx="581.5" cy="1329.4" r="5.30" fill="#5e4fa2"/>
<circle cx="605.6" cy="1329.4" r="5.30" fill="#78c8a5"/>
<circle cx="629.7" cy="1329.4" r="5.30" fill="#78c8a5"/>
<circle cx="605.6" cy="1354.0" r="5.30" fill="#f4905a"/>
<text x="657.4" y="1158.2" font-size="13.6" font-style="italic">P</text>
<circle cx="665.8" cy="1177.0" r="3.40" fill="#000"/>
<text x="676.0" y="1180.9" font-size="12" textLength="86.2" lengthAdjust="spacingAndGlyphs" xml:space="preserve">0.01 &lt; <tspan font-style="italic">P</tspan> &lt; 0.05</text>
<circle cx="665.8" cy="1198.3" r="4.80" fill="#000"/>
<text x="676.2" y="1202.1" font-size="12" textLength="45.0" lengthAdjust="spacingAndGlyphs" xml:space="preserve"><tspan font-style="italic">P</tspan> &lt; 0.01</text>
<text x="653.3" y="1233.4" font-size="13.8" textLength="110.0" lengthAdjust="spacingAndGlyphs">Communication</text>
<text x="653.3" y="1247.3" font-size="13.8" textLength="73.8" lengthAdjust="spacingAndGlyphs">probability</text>
<defs><linearGradient id="gSP" x1="0" y1="1" x2="0" y2="0"><stop offset="0.000" stop-color="#5e4fa2"/><stop offset="0.100" stop-color="#3f77b5"/><stop offset="0.200" stop-color="#3a8abb"/><stop offset="0.300" stop-color="#5ab3aa"/><stop offset="0.400" stop-color="#7dcaa5"/><stop offset="0.500" stop-color="#abdda4"/><stop offset="0.600" stop-color="#dcf09b"/><stop offset="0.680" stop-color="#f5ea90"/><stop offset="0.750" stop-color="#fdd884"/><stop offset="0.850" stop-color="#f9a55c"/><stop offset="0.920" stop-color="#ef6a45"/><stop offset="0.960" stop-color="#d53e4f"/><stop offset="1.000" stop-color="#9e0142"/></linearGradient></defs>
<rect x="657.30" y="1260.30" width="11.20" height="120.20" fill="url(#gSP)"/>
<text x="672.8" y="1263.4" font-size="11.4" textLength="23.2" lengthAdjust="spacingAndGlyphs">Max</text>
<text x="672.8" y="1383.5" font-size="11.4" textLength="19.8" lengthAdjust="spacingAndGlyphs">Min</text>
</g>
<g id="panel-j">
<text x="777.2" y="1110.6" font-size="20.5" font-weight="bold" fill="#000" stroke="#000" stroke-width="1.0" stroke-linejoin="round">j</text>
<text x="820.5" y="1113.2" font-size="14.4" textLength="192.3" lengthAdjust="spacingAndGlyphs">Oxytocin signaling pathway</text>
<line x1="831.5" y1="1125.9" x2="831.5" y2="1395.2" stroke="#555" stroke-width="1"/>
<line x1="831.0" y1="1394.7" x2="1006.7" y2="1394.7" stroke="#555" stroke-width="1"/>
<line x1="827.3" y1="1147.9" x2="831.5" y2="1147.9" stroke="#555" stroke-width="1"/>
<text x="822.2" y="1152.2" font-size="12" text-anchor="end" font-style="italic" textLength="39.3" lengthAdjust="spacingAndGlyphs">ACTA2</text>
<line x1="827.3" y1="1185.3" x2="831.5" y2="1185.3" stroke="#555" stroke-width="1"/>
<text x="822.2" y="1189.6" font-size="12" text-anchor="end" font-style="italic" textLength="34.0" lengthAdjust="spacingAndGlyphs">MYLK</text>
<line x1="827.3" y1="1222.7" x2="831.5" y2="1222.7" stroke="#555" stroke-width="1"/>
<text x="822.2" y="1227.0" font-size="12" text-anchor="end" font-style="italic" textLength="46.5" lengthAdjust="spacingAndGlyphs">PICALM</text>
<line x1="827.3" y1="1260.2" x2="831.5" y2="1260.2" stroke="#555" stroke-width="1"/>
<text x="822.2" y="1264.5" font-size="12" text-anchor="end" font-style="italic" textLength="35.4" lengthAdjust="spacingAndGlyphs">ITPR1</text>
<line x1="827.3" y1="1297.6" x2="831.5" y2="1297.6" stroke="#555" stroke-width="1"/>
<text x="822.2" y="1301.9" font-size="12" text-anchor="end" font-style="italic" textLength="39.5" lengthAdjust="spacingAndGlyphs">PLCB1</text>
<line x1="827.3" y1="1335.0" x2="831.5" y2="1335.0" stroke="#555" stroke-width="1"/>
<text x="822.2" y="1339.3" font-size="12" text-anchor="end" font-style="italic" textLength="36.8" lengthAdjust="spacingAndGlyphs">GNAQ</text>
<line x1="827.3" y1="1372.4" x2="831.5" y2="1372.4" stroke="#555" stroke-width="1"/>
<text x="822.2" y="1376.7" font-size="12" text-anchor="end" font-style="italic" textLength="34.7" lengthAdjust="spacingAndGlyphs">OXTR</text>
<line x1="844.5" y1="1394.7" x2="844.5" y2="1399.6" stroke="#555" stroke-width="1"/>
<text font-size="12.8" text-anchor="end" textLength="27.9" lengthAdjust="spacingAndGlyphs" transform="translate(852.1 1411.0) rotate(-45)">ME0</text>
<line x1="865.8" y1="1394.7" x2="865.8" y2="1399.6" stroke="#555" stroke-width="1"/>
<text font-size="12.8" text-anchor="end" textLength="27.9" lengthAdjust="spacingAndGlyphs" transform="translate(873.4 1411.0) rotate(-45)">ME1</text>
<line x1="887.0" y1="1394.7" x2="887.0" y2="1399.6" stroke="#555" stroke-width="1"/>
<text font-size="12.8" text-anchor="end" textLength="27.9" lengthAdjust="spacingAndGlyphs" transform="translate(894.6 1411.0) rotate(-45)">ME2</text>
<line x1="908.2" y1="1394.7" x2="908.2" y2="1399.6" stroke="#555" stroke-width="1"/>
<text font-size="12.8" text-anchor="end" textLength="27.9" lengthAdjust="spacingAndGlyphs" transform="translate(915.9 1411.0) rotate(-45)">ME3</text>
<line x1="929.5" y1="1394.7" x2="929.5" y2="1399.6" stroke="#555" stroke-width="1"/>
<text font-size="12.8" text-anchor="end" textLength="27.9" lengthAdjust="spacingAndGlyphs" transform="translate(937.1 1411.0) rotate(-45)">ME4</text>
<line x1="950.8" y1="1394.7" x2="950.8" y2="1399.6" stroke="#555" stroke-width="1"/>
<text font-size="12.8" text-anchor="end" textLength="27.9" lengthAdjust="spacingAndGlyphs" transform="translate(958.4 1411.0) rotate(-45)">ME5</text>
<line x1="972.0" y1="1394.7" x2="972.0" y2="1399.6" stroke="#555" stroke-width="1"/>
<text font-size="12.8" text-anchor="end" textLength="27.9" lengthAdjust="spacingAndGlyphs" transform="translate(979.6 1411.0) rotate(-45)">ME6</text>
<line x1="993.2" y1="1394.7" x2="993.2" y2="1399.6" stroke="#555" stroke-width="1"/>
<text font-size="12.8" text-anchor="end" textLength="27.9" lengthAdjust="spacingAndGlyphs" transform="translate(1000.9 1411.0) rotate(-45)">ME7</text>
<circle cx="844.5" cy="1147.9" r="1.60" fill="#f5a030"/>
<circle cx="865.8" cy="1147.9" r="0.80" fill="#f4a733"/>
<circle cx="887.0" cy="1147.9" r="0.80" fill="#f4a733"/>
<circle cx="908.2" cy="1147.9" r="0.80" fill="#f4a733"/>
<circle cx="929.5" cy="1147.9" r="0.80" fill="#f4a733"/>
<circle cx="950.8" cy="1147.9" r="0.90" fill="#f4a733"/>
<circle cx="972.0" cy="1147.9" r="1.50" fill="#f4a030"/>
<circle cx="993.2" cy="1147.9" r="8.10" fill="#1f2d6e"/>
<circle cx="844.5" cy="1185.3" r="0.80" fill="#f4a733"/>
<circle cx="865.8" cy="1185.3" r="0.80" fill="#f4a733"/>
<circle cx="887.0" cy="1185.3" r="0.80" fill="#f4a733"/>
<circle cx="908.2" cy="1185.3" r="0.80" fill="#f4a733"/>
<circle cx="929.5" cy="1185.3" r="0.80" fill="#f4a733"/>
<circle cx="950.8" cy="1185.3" r="0.80" fill="#f4a733"/>
<circle cx="972.0" cy="1185.3" r="1.00" fill="#f4a733"/>
<circle cx="993.2" cy="1185.3" r="7.30" fill="#232d70"/>
<circle cx="844.5" cy="1222.7" r="7.30" fill="#f0923d"/>
<circle cx="865.8" cy="1222.7" r="2.00" fill="#e8e030"/>
<circle cx="887.0" cy="1222.7" r="3.00" fill="#f4a833"/>
<circle cx="908.2" cy="1222.7" r="2.00" fill="#e8e030"/>
<circle cx="929.5" cy="1222.7" r="2.90" fill="#f4a833"/>
<circle cx="950.8" cy="1222.7" r="2.90" fill="#f39c3b"/>
<circle cx="972.0" cy="1222.7" r="6.10" fill="#c9407a"/>
<circle cx="993.2" cy="1222.7" r="5.70" fill="#4b2291"/>
<circle cx="844.5" cy="1260.2" r="3.00" fill="#f39c3b"/>
<circle cx="865.8" cy="1260.2" r="0.80" fill="#f4a733"/>
<circle cx="887.0" cy="1260.2" r="1.00" fill="#f4a733"/>
<circle cx="908.2" cy="1260.2" r="0.80" fill="#f4a733"/>
<circle cx="929.5" cy="1260.2" r="1.40" fill="#f4a733"/>
<circle cx="950.8" cy="1260.2" r="1.60" fill="#f4a833"/>
<circle cx="972.0" cy="1260.2" r="6.10" fill="#c23880"/>
<circle cx="993.2" cy="1260.2" r="6.10" fill="#4b2291"/>
<circle cx="844.5" cy="1297.6" r="1.40" fill="#f4a733"/>
<circle cx="865.8" cy="1297.6" r="1.00" fill="#f4a733"/>
<circle cx="887.0" cy="1297.6" r="1.20" fill="#f4a733"/>
<circle cx="908.2" cy="1297.6" r="1.00" fill="#f4a733"/>
<circle cx="929.5" cy="1297.6" r="1.00" fill="#f4a733"/>
<circle cx="950.8" cy="1297.6" r="1.20" fill="#f4a733"/>
<circle cx="972.0" cy="1297.6" r="2.60" fill="#f4a030"/>
<circle cx="993.2" cy="1297.6" r="6.90" fill="#232d70"/>
<circle cx="844.5" cy="1335.0" r="6.50" fill="#f0923d"/>
<circle cx="865.8" cy="1335.0" r="1.00" fill="#f4a733"/>
<circle cx="887.0" cy="1335.0" r="1.20" fill="#f4a733"/>
<circle cx="908.2" cy="1335.0" r="1.20" fill="#f0c030"/>
<circle cx="929.5" cy="1335.0" r="1.20" fill="#f4a733"/>
<circle cx="950.8" cy="1335.0" r="1.60" fill="#f4a733"/>
<circle cx="972.0" cy="1335.0" r="4.90" fill="#d9595e"/>
<circle cx="993.2" cy="1335.0" r="4.50" fill="#2e2a80"/>
<circle cx="844.5" cy="1372.4" r="0.80" fill="#f4a733"/>
<circle cx="865.8" cy="1372.4" r="0.80" fill="#f4a733"/>
<circle cx="887.0" cy="1372.4" r="0.80" fill="#f4a733"/>
<circle cx="908.2" cy="1372.4" r="0.80" fill="#f4a733"/>
<circle cx="929.5" cy="1372.4" r="0.80" fill="#f4a733"/>
<circle cx="950.8" cy="1372.4" r="0.80" fill="#f4a733"/>
<circle cx="972.0" cy="1372.4" r="0.80" fill="#f4a733"/>
<circle cx="993.2" cy="1372.4" r="3.00" fill="#232d70"/>
</g>
<g id="watermark" opacity="0.62">
<g fill="#9a9a9a">
<ellipse cx="672.5" cy="1430.6" rx="14.2" ry="12.2"/>
<path d="M662 1439.5 L658.8 1446 L667 1442.2Z"/>
<ellipse cx="687.2" cy="1440.8" rx="12.4" ry="10.4" stroke="#fff" stroke-width="1.6"/>
<path d="M695 1448.8 L698.6 1453.6 L690.5 1450.6Z"/>
</g>
<g fill="#fff"><circle cx="667.3" cy="1427" r="1.9"/><circle cx="677.6" cy="1427" r="1.9"/><circle cx="683" cy="1438" r="1.6"/><circle cx="691.4" cy="1438" r="1.6"/></g>
<text x="709" y="1447.2" font-size="29.5" fill="#9a9a9a" font-weight="500" stroke="#9a9a9a" stroke-width="0.25" font-family="'Liberation Sans','Noto Sans CJK SC',sans-serif" textLength="337" lengthAdjust="spacingAndGlyphs">公众号 · 遗传育种与组学</text>
</g>
<g id="j-legend">
<text x="761.0" y="1445.0" font-size="13.8" textLength="135.6" lengthAdjust="spacingAndGlyphs">Average expression</text>
<defs><linearGradient id="gPJ" x1="0" y1="0" x2="1" y2="0"><stop offset="0.000" stop-color="#f0e336"/><stop offset="0.106" stop-color="#f4b030"/><stop offset="0.213" stop-color="#e7774d"/><stop offset="0.426" stop-color="#c23880"/><stop offset="0.638" stop-color="#84289a"/><stop offset="0.851" stop-color="#4b2291"/><stop offset="1.000" stop-color="#1f2d6e"/></linearGradient></defs>
<rect x="796.00" y="1452.80" width="66.00" height="12.60" fill="url(#gPJ)"/>
<line x1="800.9" y1="1452.6" x2="800.9" y2="1454.8" stroke="#fff" stroke-width="0.8" stroke-opacity="0.8"/>
<line x1="800.9" y1="1462.6" x2="800.9" y2="1464.8" stroke="#fff" stroke-width="0.8" stroke-opacity="0.8"/>
<text x="800.9" y="1477.9" font-size="11.8" text-anchor="middle" textLength="7.1" lengthAdjust="spacingAndGlyphs">0</text>
<line x1="828.2" y1="1452.6" x2="828.2" y2="1454.8" stroke="#fff" stroke-width="0.8" stroke-opacity="0.8"/>
<line x1="828.2" y1="1462.6" x2="828.2" y2="1464.8" stroke="#fff" stroke-width="0.8" stroke-opacity="0.8"/>
<text x="828.2" y="1477.9" font-size="11.8" text-anchor="middle" textLength="7.1" lengthAdjust="spacingAndGlyphs">1</text>
<line x1="852.7" y1="1452.6" x2="852.7" y2="1454.8" stroke="#fff" stroke-width="0.8" stroke-opacity="0.8"/>
<line x1="852.7" y1="1462.6" x2="852.7" y2="1464.8" stroke="#fff" stroke-width="0.8" stroke-opacity="0.8"/>
<text x="852.7" y="1477.9" font-size="11.8" text-anchor="middle" textLength="7.1" lengthAdjust="spacingAndGlyphs">2</text>
<text x="926.4" y="1443.2" font-size="13.8" textLength="154.5" lengthAdjust="spacingAndGlyphs">Percentage expressed</text>
<circle cx="942.7" cy="1455.9" r="1.20" fill="#000"/>
<text x="942.7" y="1477.9" font-size="11.8" text-anchor="middle" textLength="7.1" lengthAdjust="spacingAndGlyphs">0</text>
<circle cx="966.7" cy="1455.9" r="4.00" fill="#000"/>
<text x="966.7" y="1477.9" font-size="11.8" text-anchor="middle" textLength="14.2" lengthAdjust="spacingAndGlyphs">25</text>
<circle cx="991.2" cy="1455.9" r="6.30" fill="#000"/>
<text x="991.2" y="1477.9" font-size="11.8" text-anchor="middle" textLength="14.2" lengthAdjust="spacingAndGlyphs">50</text>
<circle cx="1014.8" cy="1455.9" r="9.00" fill="#000"/>
<text x="1014.8" y="1477.9" font-size="11.8" text-anchor="middle" textLength="14.2" lengthAdjust="spacingAndGlyphs">75</text>
</g>
</svg>
</body></html>
